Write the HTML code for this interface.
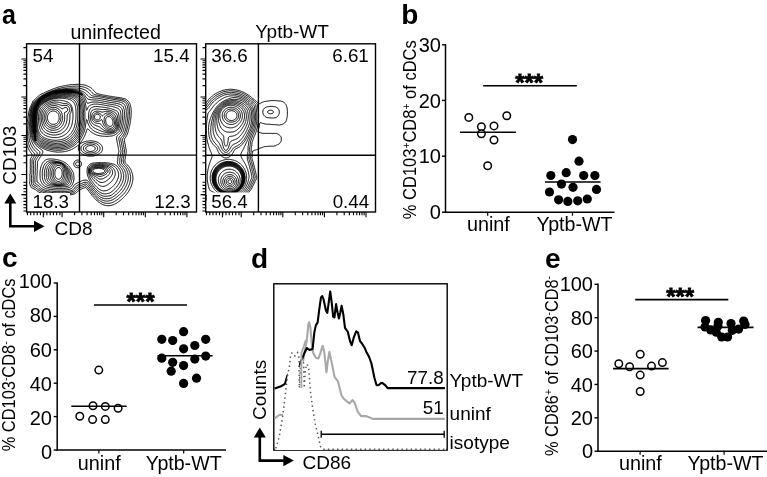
<!DOCTYPE html>
<html><head><meta charset="utf-8"><style>
html,body{margin:0;padding:0;background:#fff;width:767px;height:477px;overflow:hidden}
svg{display:block;filter:grayscale(1)}
text{font-family:"Liberation Sans", sans-serif;fill:#000}
</style></head><body>
<svg width="767" height="477" viewBox="0 0 767 477">
<rect width="767" height="477" fill="#fff"/>
<text x="1.9" y="23.5" font-size="28" text-anchor="start" font-weight="bold" textLength="13.9" lengthAdjust="spacingAndGlyphs">a</text>
<text x="401.2" y="24.3" font-size="28" text-anchor="start" font-weight="bold" >b</text>
<text x="2" y="267.3" font-size="28" text-anchor="start" font-weight="bold" >c</text>
<text x="251" y="267.6" font-size="28" text-anchor="start" font-weight="bold" >d</text>
<text x="545" y="268.3" font-size="28" text-anchor="start" font-weight="bold" >e</text>
<line x1="445.5" y1="44.0" x2="445.5" y2="212.89999999999998" stroke="#000" stroke-width="1.5" />
<line x1="444.8" y1="212.2" x2="614.5" y2="212.2" stroke="#000" stroke-width="1.5" />
<line x1="442.0" y1="44.8" x2="445.5" y2="44.8" stroke="#000" stroke-width="1.4" />
<text x="440.9" y="51.9" font-size="20" text-anchor="end" font-weight="normal" >30</text>
<line x1="442.0" y1="100.4" x2="445.5" y2="100.4" stroke="#000" stroke-width="1.4" />
<text x="440.9" y="107.5" font-size="20" text-anchor="end" font-weight="normal" >20</text>
<line x1="442.0" y1="156.2" x2="445.5" y2="156.2" stroke="#000" stroke-width="1.4" />
<text x="440.9" y="163.29999999999998" font-size="20" text-anchor="end" font-weight="normal" >10</text>
<line x1="442.0" y1="212.2" x2="445.5" y2="212.2" stroke="#000" stroke-width="1.4" />
<text x="440.9" y="219.29999999999998" font-size="20" text-anchor="end" font-weight="normal" >0</text>
<line x1="487.7" y1="212.2" x2="487.7" y2="215.7" stroke="#000" stroke-width="1.2" />
<line x1="572.5" y1="212.2" x2="572.5" y2="215.7" stroke="#000" stroke-width="1.2" />
<text x="488.4" y="230.8" font-size="19.8" text-anchor="middle" font-weight="normal" >uninf</text>
<text x="574.5" y="230.8" font-size="19.6" text-anchor="middle" font-weight="normal" >Yptb-WT</text>
<line x1="483.2" y1="85.7" x2="576.8" y2="85.7" stroke="#000" stroke-width="1.6" />
<text x="529.2" y="91.0" font-size="24" text-anchor="middle" font-weight="bold" stroke="#000" stroke-width="0.8">***</text>
<text transform="translate(415.8,219.2) rotate(-90)" x="0" y="0" font-size="17.6" textLength="179.0" lengthAdjust="spacingAndGlyphs">% CD103<tspan dy="-6" font-size="11">+</tspan><tspan dy="6">CD8</tspan><tspan dy="-6" font-size="11">+</tspan><tspan dy="6"> of cDCs</tspan></text>
<circle cx="468.8" cy="117.4" r="3.75" fill="#fff" stroke="#000" stroke-width="1.5"/>
<circle cx="506.8" cy="115.8" r="3.75" fill="#fff" stroke="#000" stroke-width="1.5"/>
<circle cx="481.4" cy="126.7" r="3.75" fill="#fff" stroke="#000" stroke-width="1.5"/>
<circle cx="494" cy="125.9" r="3.75" fill="#fff" stroke="#000" stroke-width="1.5"/>
<circle cx="481.4" cy="133.7" r="3.75" fill="#fff" stroke="#000" stroke-width="1.5"/>
<circle cx="494" cy="140" r="3.75" fill="#fff" stroke="#000" stroke-width="1.5"/>
<circle cx="487.7" cy="165.7" r="3.75" fill="#fff" stroke="#000" stroke-width="1.5"/>
<line x1="460" y1="132.2" x2="515.9" y2="132.2" stroke="#000" stroke-width="1.6" />
<circle cx="572.5" cy="139.6" r="4.6" fill="#000"/>
<circle cx="579" cy="161.2" r="4.6" fill="#000"/>
<circle cx="566.2" cy="172.7" r="4.6" fill="#000"/>
<circle cx="550.8" cy="175.5" r="4.6" fill="#000"/>
<circle cx="583.7" cy="175.5" r="4.6" fill="#000"/>
<circle cx="594.9" cy="175.5" r="4.6" fill="#000"/>
<circle cx="561.5" cy="184.1" r="4.6" fill="#000"/>
<circle cx="573" cy="187.3" r="4.6" fill="#000"/>
<circle cx="549.5" cy="192" r="4.6" fill="#000"/>
<circle cx="596.5" cy="189.4" r="4.6" fill="#000"/>
<circle cx="558.6" cy="199.8" r="4.6" fill="#000"/>
<circle cx="567.8" cy="201.4" r="4.6" fill="#000"/>
<circle cx="577.7" cy="200.8" r="4.6" fill="#000"/>
<circle cx="587.3" cy="199" r="4.6" fill="#000"/>
<line x1="545" y1="182" x2="600.6" y2="182" stroke="#000" stroke-width="1.6" />
<line x1="57.2" y1="282.5" x2="57.2" y2="450.7" stroke="#000" stroke-width="1.5" />
<line x1="56.5" y1="450" x2="226" y2="450" stroke="#000" stroke-width="1.5" />
<line x1="53.7" y1="283.0" x2="57.2" y2="283.0" stroke="#000" stroke-width="1.4" />
<text x="52.0" y="288.20000000000005" font-size="20" text-anchor="end" font-weight="normal" >100</text>
<line x1="53.7" y1="316.4" x2="57.2" y2="316.4" stroke="#000" stroke-width="1.4" />
<text x="52.0" y="322.4" font-size="20" text-anchor="end" font-weight="normal" >80</text>
<line x1="53.7" y1="349.8" x2="57.2" y2="349.8" stroke="#000" stroke-width="1.4" />
<text x="52.0" y="356.50000000000006" font-size="20" text-anchor="end" font-weight="normal" >60</text>
<line x1="53.7" y1="383.2" x2="57.2" y2="383.2" stroke="#000" stroke-width="1.4" />
<text x="52.0" y="390.7" font-size="20" text-anchor="end" font-weight="normal" >40</text>
<line x1="53.7" y1="416.6" x2="57.2" y2="416.6" stroke="#000" stroke-width="1.4" />
<text x="52.0" y="424.80000000000007" font-size="20" text-anchor="end" font-weight="normal" >20</text>
<line x1="53.7" y1="450.0" x2="57.2" y2="450.0" stroke="#000" stroke-width="1.4" />
<text x="52.0" y="459.0" font-size="20" text-anchor="end" font-weight="normal" >0</text>
<line x1="98.9" y1="450" x2="98.9" y2="453.5" stroke="#000" stroke-width="1.2" />
<line x1="183.7" y1="450" x2="183.7" y2="453.5" stroke="#000" stroke-width="1.2" />
<text x="99.2" y="469.6" font-size="19.8" text-anchor="middle" font-weight="normal" >uninf</text>
<text x="183.7" y="469.6" font-size="19.6" text-anchor="middle" font-weight="normal" >Yptb-WT</text>
<line x1="94" y1="305" x2="187" y2="305" stroke="#000" stroke-width="1.6" />
<text x="140.5" y="310.3" font-size="24" text-anchor="middle" font-weight="bold" stroke="#000" stroke-width="0.8">***</text>
<text transform="translate(15.1,451.3) rotate(-90)" x="0" y="0" font-size="17.6" textLength="172.8" lengthAdjust="spacingAndGlyphs">% CD103<tspan dy="-6" font-size="11">-</tspan><tspan dy="6">CD8</tspan><tspan dy="-6" font-size="11">-</tspan><tspan dy="6"> of cDCs</tspan></text>
<circle cx="98.8" cy="370.1" r="3.75" fill="#fff" stroke="#000" stroke-width="1.5"/>
<circle cx="93" cy="405.8" r="3.75" fill="#fff" stroke="#000" stroke-width="1.5"/>
<circle cx="105.3" cy="406.4" r="3.75" fill="#fff" stroke="#000" stroke-width="1.5"/>
<circle cx="118.1" cy="408.3" r="3.75" fill="#fff" stroke="#000" stroke-width="1.5"/>
<circle cx="79.8" cy="416.2" r="3.75" fill="#fff" stroke="#000" stroke-width="1.5"/>
<circle cx="92.6" cy="419.6" r="3.75" fill="#fff" stroke="#000" stroke-width="1.5"/>
<circle cx="105.3" cy="419.6" r="3.75" fill="#fff" stroke="#000" stroke-width="1.5"/>
<line x1="71.3" y1="406.2" x2="126.6" y2="406.2" stroke="#000" stroke-width="1.6" />
<circle cx="183.6" cy="331.7" r="4.6" fill="#000"/>
<circle cx="161.8" cy="339.3" r="4.6" fill="#000"/>
<circle cx="172.7" cy="340.5" r="4.6" fill="#000"/>
<circle cx="205.7" cy="339.3" r="4.6" fill="#000"/>
<circle cx="194.8" cy="345.5" r="4.6" fill="#000"/>
<circle cx="183.6" cy="348.8" r="4.6" fill="#000"/>
<circle cx="161.8" cy="358.2" r="4.6" fill="#000"/>
<circle cx="205.7" cy="356.1" r="4.6" fill="#000"/>
<circle cx="194.8" cy="359.1" r="4.6" fill="#000"/>
<circle cx="172.7" cy="362.3" r="4.6" fill="#000"/>
<circle cx="183.6" cy="365.6" r="4.6" fill="#000"/>
<circle cx="171.2" cy="371.2" r="4.6" fill="#000"/>
<circle cx="196.5" cy="378.2" r="4.6" fill="#000"/>
<circle cx="183.6" cy="383.4" r="4.6" fill="#000"/>
<line x1="157.5" y1="355.8" x2="212.6" y2="355.8" stroke="#000" stroke-width="1.6" />
<line x1="598.0" y1="283.6" x2="598.0" y2="451.9" stroke="#000" stroke-width="1.5" />
<line x1="597.3" y1="451.2" x2="767" y2="451.2" stroke="#000" stroke-width="1.5" />
<line x1="594.5" y1="284.29999999999995" x2="598.0" y2="284.29999999999995" stroke="#000" stroke-width="1.4" />
<text x="593.0" y="291.4" font-size="20" text-anchor="end" font-weight="normal" >100</text>
<line x1="594.5" y1="317.67999999999995" x2="598.0" y2="317.67999999999995" stroke="#000" stroke-width="1.4" />
<text x="593.0" y="324.78" font-size="20" text-anchor="end" font-weight="normal" >80</text>
<line x1="594.5" y1="351.06" x2="598.0" y2="351.06" stroke="#000" stroke-width="1.4" />
<text x="593.0" y="358.16" font-size="20" text-anchor="end" font-weight="normal" >60</text>
<line x1="594.5" y1="384.44" x2="598.0" y2="384.44" stroke="#000" stroke-width="1.4" />
<text x="593.0" y="391.54" font-size="20" text-anchor="end" font-weight="normal" >40</text>
<line x1="594.5" y1="417.82" x2="598.0" y2="417.82" stroke="#000" stroke-width="1.4" />
<text x="593.0" y="424.92" font-size="20" text-anchor="end" font-weight="normal" >20</text>
<line x1="594.5" y1="451.2" x2="598.0" y2="451.2" stroke="#000" stroke-width="1.4" />
<text x="593.0" y="458.3" font-size="20" text-anchor="end" font-weight="normal" >0</text>
<line x1="640.1" y1="451.2" x2="640.1" y2="454.7" stroke="#000" stroke-width="1.2" />
<line x1="724.1" y1="451.2" x2="724.1" y2="454.7" stroke="#000" stroke-width="1.2" />
<text x="640.4" y="469.9" font-size="19.8" text-anchor="middle" font-weight="normal" >uninf</text>
<text x="725.5" y="469.9" font-size="19.6" text-anchor="middle" font-weight="normal" >Yptb-WT</text>
<line x1="635.2" y1="299.6" x2="728.3" y2="299.6" stroke="#000" stroke-width="1.6" />
<text x="680.2" y="305.0" font-size="24" text-anchor="middle" font-weight="bold" stroke="#000" stroke-width="0.8">***</text>
<text transform="translate(558.0,456) rotate(-90)" x="0" y="0" font-size="17.6" textLength="180.0" lengthAdjust="spacingAndGlyphs">% CD86<tspan dy="-6" font-size="11">+</tspan><tspan dy="6"> of CD103</tspan><tspan dy="-6" font-size="11">-</tspan><tspan dy="6">CD8</tspan><tspan dy="-6" font-size="11">-</tspan></text>
<circle cx="640.2" cy="354.2" r="3.75" fill="#fff" stroke="#000" stroke-width="1.5"/>
<circle cx="618.8" cy="363.8" r="3.75" fill="#fff" stroke="#000" stroke-width="1.5"/>
<circle cx="629.6" cy="366.8" r="3.75" fill="#fff" stroke="#000" stroke-width="1.5"/>
<circle cx="651.5" cy="366.1" r="3.75" fill="#fff" stroke="#000" stroke-width="1.5"/>
<circle cx="662.4" cy="362.6" r="3.75" fill="#fff" stroke="#000" stroke-width="1.5"/>
<circle cx="640.2" cy="375.1" r="3.75" fill="#fff" stroke="#000" stroke-width="1.5"/>
<circle cx="640.2" cy="391.5" r="3.75" fill="#fff" stroke="#000" stroke-width="1.5"/>
<line x1="613" y1="368.6" x2="668.6" y2="368.6" stroke="#000" stroke-width="1.6" />
<circle cx="705.6" cy="320.6" r="4.6" fill="#000"/>
<circle cx="718.3" cy="322.3" r="4.6" fill="#000"/>
<circle cx="731" cy="323.6" r="4.6" fill="#000"/>
<circle cx="743.7" cy="321" r="4.6" fill="#000"/>
<circle cx="705" cy="326.9" r="4.6" fill="#000"/>
<circle cx="710.7" cy="329.9" r="4.6" fill="#000"/>
<circle cx="716.2" cy="332.2" r="4.6" fill="#000"/>
<circle cx="721.7" cy="337" r="4.6" fill="#000"/>
<circle cx="727.6" cy="337" r="4.6" fill="#000"/>
<circle cx="732.3" cy="330.3" r="4.6" fill="#000"/>
<circle cx="738.6" cy="329.1" r="4.6" fill="#000"/>
<circle cx="745" cy="324.4" r="4.6" fill="#000"/>
<circle cx="717.9" cy="326" r="4.6" fill="#000"/>
<line x1="697.5" y1="327.4" x2="753.5" y2="327.4" stroke="#000" stroke-width="1.6" />
<text x="115.6" y="38.7" font-size="19.6" text-anchor="middle" font-weight="normal" >uninfected</text>
<text x="292.1" y="37.8" font-size="19" text-anchor="middle" font-weight="normal" >Yptb-WT</text>
<defs><clipPath id="cp1"><rect x="26.6" y="43.8" width="169.9" height="168.2"/></clipPath><clipPath id="cp2"><rect x="205.7" y="43.8" width="169.8" height="168.2"/></clipPath></defs>
<g clip-path="url(#cp1)" fill="none" stroke="#000" stroke-width="1.0" stroke-linejoin="round">
<path d="M110.6,205.5 L109.8,205.6 L109.0,205.7 L108.2,205.8 L107.4,205.7 L106.6,205.6 L105.8,205.5 L105.4,205.4 L104.6,205.2 L103.8,205.0 L103.4,204.7 L102.8,204.6 L102.2,204.4 L101.8,204.2 L101.4,203.8 L100.6,203.5 L100.2,203.1 L99.8,202.7 L99.3,202.6 L98.9,202.2 L98.2,201.9 L97.8,201.4 L97.4,201.0 L97.0,200.6 L96.7,200.2 L96.2,200.1 L95.8,199.6 L95.4,199.2 L95.0,198.7 L94.6,198.3 L94.2,197.8 L93.8,197.4 L93.4,197.0 L93.1,196.6 L92.7,196.2 L92.3,195.8 L92.0,195.4 L91.6,195.0 L91.4,194.5 L91.0,194.0 L90.6,193.6 L90.3,193.0 L89.9,192.6 L89.5,192.2 L89.2,191.8 L89.0,191.4 L88.6,191.0 L88.2,190.4 L87.8,190.0 L87.4,189.4 L87.0,189.0 L86.8,188.6 L86.4,188.2 L86.2,187.8 L85.4,187.5 L85.0,187.8 L84.6,187.8 L84.2,188.0 L83.6,188.2 L83.0,188.5 L82.4,188.6 L81.8,188.9 L81.4,189.2 L80.8,189.4 L80.2,189.8 L79.8,190.2 L79.4,190.2 L78.7,190.6 L78.2,190.9 L77.8,191.4 L77.4,191.8 L77.0,192.1 L76.6,192.5 L76.2,192.9 L75.8,193.1 L75.4,193.4 L74.6,193.8 L74.2,194.0 L73.4,194.2 L73.0,194.3 L72.2,194.5 L71.8,194.6 L71.0,194.7 L70.2,194.8 L69.4,194.9 L68.7,195.0 L68.2,195.1 L67.4,195.1 L66.6,195.2 L65.8,195.2 L65.0,195.2 L64.2,195.3 L63.4,195.3 L62.6,195.3 L61.8,195.3 L61.0,195.3 L60.2,195.3 L59.4,195.3 L58.6,195.2 L57.8,195.2 L57.0,195.2 L56.2,195.2 L55.4,195.2 L54.6,195.2 L53.8,195.1 L53.0,195.0 L52.6,195.0 L51.8,194.9 L51.0,194.8 L50.2,194.8 L49.4,194.7 L48.7,194.6 L48.2,194.5 L47.4,194.4 L46.6,194.2 L46.1,194.2 L45.4,194.1 L44.6,194.0 L43.9,193.8 L43.4,193.7 L42.6,193.5 L42.1,193.4 L41.4,193.2 L41.0,193.0 L40.2,192.7 L39.8,192.6 L39.0,192.2 L38.6,191.9 L38.2,191.6 L37.8,191.3 L37.2,191.0 L36.7,190.6 L36.2,190.2 L35.8,189.8 L35.4,189.7 L35.0,189.2 L34.2,189.1 L33.8,188.6 L33.2,188.6 L32.7,188.2 L32.2,188.1 L31.6,187.8 L31.1,187.4 L31.0,186.8 L30.7,186.2 L30.4,185.8 L30.3,185.0 L30.0,184.6 L29.9,183.8 L29.6,183.4 L29.5,182.6 L29.6,181.8 L29.9,181.4 L29.9,180.6 L29.9,179.8 L29.9,179.0 L29.9,178.2 L29.9,177.4 L29.9,176.6 L29.9,175.8 L29.9,175.0 L29.9,174.2 L30.2,173.8 L30.2,173.0 L30.2,172.2 L30.2,171.4 L30.2,170.6 L30.3,169.8 L30.3,169.0 L30.3,168.2 L30.3,167.4 L30.3,166.6 L30.3,165.8 L30.3,165.0 L30.3,164.2 L30.3,163.4 L30.3,162.6 L30.3,161.8 L30.3,161.0 L30.3,160.2 L30.3,159.4 L30.6,158.8 L30.8,158.2 L31.1,157.8 L31.4,157.4 L31.8,156.6 L32.1,156.2 L32.2,155.6 L32.2,155.0 L32.1,154.6 L31.8,154.1 L31.4,153.4 L31.1,153.0 L30.8,152.6 L30.5,152.2 L30.2,151.7 L29.8,151.1 L29.4,150.6 L29.2,150.2 L29.0,149.7 L28.6,149.0 L28.4,148.6 L28.2,148.1 L27.9,147.4 L27.8,147.0 L27.5,146.2 L27.3,145.8 L27.0,145.1 L26.9,144.6 L26.7,143.8 L26.6,143.2 L26.4,142.6 L26.3,141.8 L26.2,141.4 L26.2,141.0 L26.1,140.6 L26.0,139.8 L26.0,139.0 L25.9,138.2 L25.9,137.4 L25.8,137.0 L25.9,136.6 L25.9,135.8 L25.9,135.0 L26.0,134.2 L26.0,133.4 L26.1,132.6 L26.1,131.8 L26.1,131.0 L26.2,130.6 L26.2,129.8 L26.2,129.8 L26.4,129.0 L26.4,128.2 L26.6,127.4 L26.6,126.6 L26.7,126.2 L26.7,125.4 L26.9,124.6 L27.0,123.8 L27.0,123.4 L27.2,122.6 L27.3,121.8 L27.4,121.2 L27.5,120.6 L27.6,119.8 L27.8,119.0 L27.8,118.6 L28.0,117.8 L28.1,117.0 L28.2,116.2 L28.3,115.8 L28.4,115.0 L28.5,114.2 L28.6,113.7 L28.7,113.0 L28.8,112.2 L29.0,111.5 L29.1,111.0 L29.3,110.2 L29.4,109.8 L29.6,109.0 L29.8,108.4 L30.0,107.8 L30.2,107.3 L30.5,106.6 L30.7,106.2 L31.0,105.4 L31.2,105.0 L31.4,104.5 L31.7,103.8 L32.0,103.4 L32.2,103.0 L32.6,102.3 L32.8,101.8 L32.9,101.0 L33.4,100.9 L33.8,100.4 L34.2,100.0 L34.6,99.6 L35.0,99.3 L35.4,98.9 L35.8,98.5 L36.2,98.1 L36.6,97.7 L37.0,97.3 L37.4,96.9 L37.8,96.6 L38.2,96.2 L38.6,95.8 L39.4,95.4 L39.8,95.0 L40.2,94.6 L40.6,94.6 L41.0,94.2 L41.8,93.8 L42.2,93.7 L42.6,93.4 L43.4,93.3 L43.8,92.9 L44.5,92.6 L45.0,92.5 L45.4,92.1 L46.1,91.8 L46.6,91.6 L47.2,91.4 L47.8,91.1 L48.2,90.8 L49.0,90.7 L49.4,90.5 L50.0,90.2 L50.6,90.0 L51.0,89.7 L51.8,89.5 L52.2,89.3 L52.9,89.0 L53.4,88.8 L54.1,88.6 L54.6,88.4 L55.0,88.2 L55.8,88.0 L56.3,87.8 L57.0,87.6 L57.6,87.4 L58.2,87.1 L59.0,87.0 L59.4,86.8 L60.2,86.6 L60.6,86.5 L61.4,86.4 L61.8,86.2 L62.2,86.2 L62.6,86.1 L63.4,85.9 L63.8,85.8 L64.2,85.8 L64.6,85.6 L65.4,85.5 L65.8,85.4 L66.2,85.4 L66.6,85.3 L67.4,85.2 L68.2,85.1 L68.6,84.9 L69.4,84.9 L70.2,84.7 L71.0,84.6 L71.7,84.6 L71.9,84.6 L72.4,84.6 L72.9,84.6 L73.0,84.6 L73.8,84.6 L74.6,84.5 L75.4,84.4 L76.2,84.4 L77.0,84.3 L77.8,84.3 L78.6,84.3 L79.4,84.4 L80.2,84.4 L80.8,84.6 L81.2,84.6 L81.6,84.6 L82.1,84.6 L82.3,84.6 L83.0,84.8 L83.8,84.9 L84.2,85.0 L85.0,85.1 L85.8,85.3 L86.2,85.6 L87.0,85.8 L87.4,86.0 L87.9,86.2 L88.6,86.5 L89.0,86.7 L89.5,87.0 L90.2,87.4 L90.6,87.6 L91.0,87.9 L91.4,88.2 L91.9,88.6 L92.3,89.0 L92.7,89.4 L93.1,89.8 L93.5,90.2 L93.8,90.6 L94.2,91.0 L94.6,91.5 L95.0,92.0 L95.4,92.5 L95.8,92.7 L96.2,93.1 L96.9,93.4 L97.4,93.6 L98.0,93.8 L98.6,93.9 L99.4,94.2 L99.9,94.2 L100.6,94.4 L101.4,94.5 L101.8,94.7 L102.6,94.8 L103.4,95.0 L103.8,95.1 L104.6,95.2 L105.4,95.4 L105.8,95.5 L106.6,95.7 L107.4,95.7 L107.8,95.8 L108.6,96.0 L109.4,96.2 L109.8,96.2 L110.6,96.3 L111.4,96.4 L112.2,96.6 L112.6,96.6 L113.4,96.8 L114.2,96.9 L115.0,97.0 L115.4,97.1 L116.2,97.2 L117.0,97.3 L117.8,97.4 L118.2,97.5 L119.0,97.6 L119.8,97.7 L120.2,97.8 L121.0,97.9 L121.8,98.0 L122.2,98.2 L122.6,98.2 L123.0,98.3 L123.8,98.6 L124.2,98.6 L125.0,99.0 L125.4,99.0 L126.1,99.4 L126.6,99.7 L127.0,100.0 L127.4,100.3 L127.8,100.6 L128.2,101.0 L128.6,101.5 L129.0,102.1 L129.3,102.6 L129.6,103.0 L129.8,103.5 L130.1,104.2 L130.2,104.6 L130.5,105.4 L130.6,105.9 L130.7,106.6 L130.9,107.4 L131.0,108.2 L131.1,108.6 L131.1,109.4 L131.2,110.2 L131.2,111.0 L131.2,111.8 L131.2,112.6 L131.2,113.4 L131.1,114.2 L131.1,115.0 L131.1,115.8 L131.0,116.5 L131.0,117.0 L130.9,117.8 L130.8,118.6 L130.7,119.4 L130.6,120.2 L130.6,120.6 L130.4,121.4 L130.3,122.2 L130.2,122.8 L130.1,123.4 L129.9,124.2 L129.8,124.8 L129.7,125.4 L129.5,126.2 L129.4,126.6 L129.2,127.4 L129.0,128.2 L128.9,128.6 L128.7,129.4 L128.6,129.9 L128.4,130.6 L128.2,131.3 L128.1,131.8 L127.9,132.6 L127.7,133.0 L127.4,133.8 L127.3,134.2 L127.0,134.8 L126.7,135.4 L126.5,135.8 L126.2,136.4 L125.8,137.0 L125.5,137.4 L125.3,137.8 L125.0,138.2 L124.6,138.9 L124.4,139.4 L124.6,140.1 L124.6,140.6 L124.6,141.0 L124.5,141.8 L124.8,142.2 L124.9,143.0 L124.9,143.8 L125.2,144.2 L125.3,145.0 L125.3,145.8 L125.4,146.4 L125.7,147.0 L125.7,147.8 L125.8,148.4 L126.1,149.0 L126.1,149.8 L126.2,150.4 L126.5,151.0 L126.2,151.6 L126.1,152.2 L126.1,153.0 L126.0,153.8 L125.7,154.2 L125.7,155.0 L125.7,155.8 L125.4,156.4 L125.3,157.0 L125.3,157.8 L125.3,158.6 L125.0,159.2 L124.9,159.8 L124.9,160.6 L125.0,161.2 L125.0,161.8 L125.2,162.6 L125.4,163.0 L125.8,163.4 L126.2,163.8 L126.6,164.2 L127.0,164.6 L127.5,165.0 L127.9,165.4 L128.3,165.8 L128.7,166.2 L129.0,166.8 L129.4,167.3 L129.8,167.8 L130.2,168.2 L130.2,168.6 L130.6,169.2 L131.0,169.7 L131.0,170.2 L131.4,170.8 L131.5,171.4 L131.8,171.9 L131.9,172.6 L132.2,173.2 L132.3,173.8 L132.6,174.6 L132.6,175.2 L132.8,175.8 L132.8,176.6 L132.9,177.4 L133.0,178.2 L132.9,179.0 L132.8,179.8 L132.7,180.6 L132.6,181.4 L132.5,181.8 L132.4,182.6 L132.2,183.2 L132.1,183.8 L131.8,184.6 L131.7,185.0 L131.4,185.7 L131.2,186.2 L131.0,186.7 L130.7,187.4 L130.5,187.8 L130.2,188.5 L129.9,189.0 L129.7,189.4 L129.4,190.0 L129.1,190.6 L128.8,191.0 L128.6,191.4 L128.2,192.0 L127.8,192.6 L127.5,193.0 L127.2,193.4 L126.9,193.8 L126.6,194.2 L126.2,194.7 L125.8,195.2 L125.4,195.7 L125.0,196.1 L124.6,196.5 L124.2,196.9 L123.8,197.3 L123.4,197.7 L123.0,198.1 L122.6,198.4 L122.2,198.8 L121.8,199.1 L121.4,199.5 L121.0,199.8 L120.6,200.2 L120.1,200.6 L119.6,201.0 L119.0,201.4 L118.6,201.7 L118.2,202.0 L117.8,202.3 L117.3,202.6 L116.7,203.0 L116.2,203.3 L115.8,203.5 L115.3,203.8 L114.6,204.2 L114.2,204.3 L113.6,204.6 L113.0,204.8 L112.5,205.0 L111.8,205.2 L111.0,205.4 L110.6,205.5"/>
<path d="M108.2,203.4 L107.8,203.4 L107.2,203.4 L106.8,203.4 L106.2,203.3 L105.4,203.2 L104.6,203.1 L104.2,202.9 L103.4,202.7 L103.0,202.5 L102.2,202.2 L101.8,201.9 L101.4,201.7 L100.7,201.4 L100.3,201.0 L99.8,201.0 L99.4,200.6 L99.0,200.2 L98.2,199.8 L97.8,199.4 L97.4,199.0 L97.0,198.6 L96.6,198.2 L96.3,197.8 L95.9,197.4 L95.5,197.0 L95.1,196.6 L94.7,196.2 L94.3,195.8 L94.0,195.4 L93.6,195.0 L93.2,194.6 L92.8,194.2 L92.4,193.8 L92.2,193.3 L91.8,192.9 L91.4,192.5 L91.0,191.8 L90.6,191.4 L90.2,191.0 L90.1,190.6 L89.7,190.2 L89.4,189.7 L89.0,189.3 L88.6,188.7 L88.2,188.2 L87.8,187.8 L87.5,187.4 L87.2,187.0 L86.8,186.6 L86.4,186.2 L85.8,185.9 L85.4,185.8 L84.7,185.8 L84.2,186.0 L83.8,186.2 L83.0,186.6 L82.6,186.8 L81.8,187.0 L81.4,187.2 L81.0,187.4 L80.2,187.8 L79.8,188.0 L79.4,188.2 L78.7,188.6 L78.2,188.9 L77.8,189.2 L77.4,189.6 L77.0,190.1 L76.6,190.4 L76.2,190.8 L75.8,191.2 L75.4,191.6 L75.0,191.9 L74.6,192.2 L73.8,192.6 L73.4,192.8 L72.7,193.0 L72.2,193.1 L71.4,193.3 L71.0,193.5 L70.2,193.5 L69.4,193.7 L68.6,193.8 L68.1,193.8 L67.4,193.9 L66.6,193.9 L65.8,194.0 L65.0,194.0 L64.2,194.1 L63.4,194.1 L62.6,194.1 L61.8,194.1 L61.0,194.0 L60.2,194.0 L59.4,194.0 L58.6,194.0 L57.8,194.0 L57.0,194.0 L56.2,194.0 L55.4,194.0 L54.6,193.9 L53.8,193.8 L53.0,193.8 L52.6,193.8 L51.8,193.7 L51.0,193.6 L50.2,193.5 L49.5,193.4 L49.0,193.3 L48.2,193.2 L47.4,193.2 L46.6,193.0 L46.2,193.0 L45.4,192.8 L44.6,192.6 L44.2,192.5 L43.4,192.4 L42.8,192.2 L42.2,192.0 L41.7,191.8 L41.0,191.5 L40.6,191.3 L40.0,191.0 L39.4,190.6 L39.0,190.4 L38.6,190.1 L38.1,189.8 L37.6,189.4 L37.1,189.0 L36.7,188.6 L36.2,188.2 L35.8,187.9 L35.4,187.6 L34.9,187.4 L34.2,187.0 L33.8,186.9 L33.3,186.6 L32.6,186.2 L32.4,185.8 L32.2,185.4 L31.9,184.6 L31.8,184.2 L31.5,183.4 L31.4,183.0 L31.4,182.2 L31.5,181.8 L31.5,181.0 L31.5,180.2 L31.5,179.4 L31.5,178.6 L31.5,177.8 L31.5,177.0 L31.5,176.2 L31.5,175.4 L31.7,174.6 L31.9,174.2 L31.9,173.4 L31.9,172.6 L31.9,171.8 L31.9,171.0 L31.9,170.2 L31.9,169.4 L31.9,168.6 L31.9,167.8 L31.9,167.0 L31.9,166.2 L31.9,165.4 L32.0,164.6 L32.0,163.8 L32.0,163.0 L32.0,162.2 L32.0,161.4 L32.0,160.6 L32.0,159.8 L32.2,159.4 L32.6,158.8 L33.0,158.2 L33.2,157.8 L33.6,157.4 L33.8,156.9 L34.1,156.2 L34.2,155.8 L34.6,155.1 L34.6,154.6 L34.6,154.1 L34.3,153.4 L34.0,153.0 L33.7,152.6 L33.3,152.2 L32.9,151.8 L32.6,151.4 L32.2,150.9 L31.8,150.3 L31.4,149.8 L31.2,149.4 L30.9,149.0 L30.6,148.4 L30.2,147.8 L30.0,147.4 L29.8,147.0 L29.4,146.2 L29.3,145.8 L29.0,145.1 L28.9,144.6 L28.6,144.2 L28.4,143.4 L28.3,142.6 L28.1,142.2 L28.0,141.4 L27.9,140.6 L27.7,140.2 L27.6,139.4 L27.6,138.6 L27.5,137.8 L27.4,137.4 L27.4,137.0 L27.3,136.6 L27.4,136.2 L27.4,135.6 L27.4,135.2 L27.4,134.9 L27.4,134.2 L27.5,133.8 L27.4,133.4 L27.5,133.0 L27.5,132.2 L27.6,131.4 L27.6,130.6 L27.6,129.8 L27.8,129.0 L27.8,128.2 L27.9,127.8 L27.9,127.0 L28.0,126.2 L28.1,125.4 L28.2,124.6 L28.3,124.2 L28.4,123.4 L28.5,122.6 L28.6,122.0 L28.7,121.4 L28.8,120.6 L29.0,119.8 L29.0,119.4 L29.1,118.6 L29.3,117.8 L29.4,117.0 L29.4,116.6 L29.5,115.8 L29.6,115.0 L29.7,114.2 L29.8,113.8 L29.9,113.0 L30.0,112.2 L30.1,111.4 L30.2,111.0 L30.4,110.2 L30.6,109.4 L30.7,109.0 L30.9,108.2 L31.1,107.8 L31.3,107.0 L31.5,106.6 L31.8,105.8 L31.9,105.4 L32.2,104.8 L32.5,104.2 L32.8,103.8 L33.0,103.4 L33.4,102.8 L33.8,102.2 L34.1,101.8 L34.4,101.4 L34.8,101.0 L35.2,100.6 L35.6,100.2 L36.1,99.8 L36.5,99.4 L37.0,99.0 L37.4,98.7 L37.8,98.3 L38.2,98.0 L38.6,97.7 L39.0,97.4 L39.6,97.0 L40.2,96.6 L40.6,96.3 L41.0,96.0 L41.4,95.8 L42.1,95.4 L42.6,95.1 L43.0,94.9 L43.6,94.6 L44.2,94.3 L44.6,94.1 L45.2,93.8 L45.8,93.5 L46.2,93.2 L46.7,93.0 L47.4,92.7 L47.8,92.5 L48.4,92.2 L49.0,91.9 L49.4,91.8 L50.2,91.4 L50.6,91.2 L51.4,91.0 L51.8,90.8 L52.5,90.6 L53.0,90.3 L53.5,90.2 L54.2,90.0 L54.7,89.8 L55.4,89.5 L55.8,89.4 L56.6,89.2 L57.0,89.0 L57.8,88.8 L58.4,88.6 L59.0,88.5 L59.8,88.3 L60.2,88.1 L61.0,88.0 L61.8,87.8 L62.2,87.7 L63.0,87.6 L63.5,87.4 L64.2,87.3 L65.0,87.2 L65.6,87.0 L66.1,87.0 L66.3,87.0 L67.0,86.8 L67.8,86.8 L68.5,86.6 L68.8,86.6 L69.1,86.6 L69.8,86.6 L69.8,86.6 L70.6,86.4 L71.4,86.4 L72.2,86.3 L72.7,86.2 L73.3,86.2 L73.5,86.2 L74.2,86.2 L75.0,86.2 L75.8,86.1 L76.6,86.1 L77.0,86.3 L77.4,86.1 L77.8,86.3 L78.2,86.2 L78.6,86.3 L79.0,86.2 L79.4,86.3 L80.2,86.5 L81.0,86.5 L81.7,86.6 L82.2,86.8 L83.0,86.8 L83.5,87.0 L84.2,87.2 L84.6,87.4 L85.4,87.6 L85.9,87.8 L86.6,88.1 L87.0,88.3 L87.5,88.6 L88.2,89.0 L88.6,89.3 L89.0,89.6 L89.4,89.9 L89.8,90.2 L90.2,90.6 L90.6,91.0 L91.0,91.4 L91.4,91.8 L91.8,92.3 L92.2,92.8 L92.6,93.2 L93.0,93.5 L93.4,93.9 L93.9,94.2 L94.6,94.5 L95.0,94.7 L95.8,94.9 L96.6,95.0 L97.0,95.1 L97.8,95.2 L98.6,95.3 L99.0,95.4 L99.8,95.5 L100.6,95.8 L101.0,95.8 L101.8,96.0 L102.6,96.2 L103.0,96.3 L103.8,96.4 L104.6,96.5 L105.0,96.6 L105.8,96.7 L106.6,96.9 L107.0,97.0 L107.8,97.2 L108.6,97.3 L109.2,97.4 L109.8,97.5 L110.6,97.6 L111.4,97.8 L111.8,97.8 L112.6,97.9 L113.4,98.0 L114.2,98.2 L114.6,98.2 L115.4,98.4 L116.2,98.5 L117.0,98.6 L117.4,98.6 L118.2,98.8 L119.0,98.8 L119.8,98.9 L120.2,99.1 L121.0,99.2 L121.8,99.3 L122.2,99.5 L123.0,99.7 L123.4,99.8 L124.2,100.2 L124.6,100.3 L125.2,100.6 L125.8,101.0 L126.2,101.3 L126.6,101.6 L127.0,102.1 L127.4,102.6 L127.7,103.0 L127.9,103.4 L128.2,104.0 L128.5,104.6 L128.6,105.0 L128.9,105.8 L129.0,106.4 L129.1,107.0 L129.3,107.8 L129.3,108.6 L129.4,109.0 L129.5,109.8 L129.5,110.6 L129.5,111.4 L129.5,112.2 L129.5,113.0 L129.5,113.8 L129.5,114.6 L129.4,115.4 L129.4,115.8 L129.3,116.6 L129.3,117.4 L129.2,118.2 L129.1,119.0 L129.0,119.8 L128.9,120.2 L128.8,121.0 L128.7,121.8 L128.6,122.3 L128.5,123.0 L128.3,123.8 L128.2,124.2 L128.0,125.0 L127.9,125.8 L127.8,126.2 L127.6,127.0 L127.4,127.8 L127.3,128.2 L127.1,129.0 L127.0,129.4 L126.8,130.2 L126.6,130.9 L126.5,131.4 L126.2,132.2 L126.1,132.6 L125.8,133.3 L125.6,133.8 L125.4,134.3 L125.0,135.0 L124.8,135.4 L124.6,135.8 L124.2,136.4 L123.8,136.9 L123.5,137.4 L123.2,137.8 L122.9,138.2 L122.8,139.0 L122.6,139.7 L122.6,140.2 L122.7,140.6 L122.9,141.4 L122.9,142.2 L123.0,142.6 L123.2,143.4 L123.3,144.2 L123.4,144.6 L123.6,145.4 L123.6,146.2 L123.8,147.0 L124.0,147.4 L124.0,148.2 L124.2,149.0 L124.4,149.4 L124.4,150.2 L124.6,151.0 L124.4,151.8 L124.4,152.6 L124.2,153.4 L124.1,153.8 L124.0,154.6 L124.0,155.4 L123.8,155.8 L123.6,156.6 L123.6,157.4 L123.6,158.2 L123.4,158.6 L123.2,159.4 L123.2,160.2 L123.3,161.0 L123.3,161.8 L123.4,162.3 L123.5,163.0 L123.8,163.5 L124.2,164.0 L124.6,164.4 L125.0,164.9 L125.4,165.2 L125.8,165.6 L126.2,166.0 L126.6,166.5 L127.0,166.9 L127.4,167.4 L127.5,167.8 L127.8,168.2 L128.2,168.8 L128.6,169.4 L128.6,169.8 L129.0,170.4 L129.3,171.0 L129.4,171.5 L129.7,172.2 L129.9,172.6 L130.0,173.4 L130.2,174.2 L130.3,174.6 L130.5,175.4 L130.6,176.2 L130.6,176.6 L130.6,177.0 L130.6,177.4 L130.6,178.1 L130.6,178.6 L130.5,179.4 L130.4,180.2 L130.3,181.0 L130.2,181.4 L130.0,182.2 L129.8,183.0 L129.7,183.4 L129.4,184.2 L129.3,184.6 L129.0,185.3 L128.8,185.8 L128.6,186.3 L128.2,187.0 L128.1,187.4 L127.8,187.9 L127.4,188.6 L127.2,189.0 L127.0,189.4 L126.6,190.0 L126.2,190.6 L126.0,191.0 L125.7,191.4 L125.4,191.8 L125.0,192.4 L124.6,192.9 L124.2,193.3 L123.8,193.8 L123.5,194.2 L123.1,194.6 L122.7,195.0 L122.3,195.4 L121.9,195.8 L121.5,196.2 L121.0,196.6 L120.6,197.0 L120.2,197.3 L119.8,197.7 L119.4,198.0 L119.0,198.3 L118.6,198.7 L118.2,199.0 L117.7,199.4 L117.1,199.8 L116.6,200.2 L116.2,200.4 L115.8,200.7 L115.3,201.0 L114.6,201.4 L114.2,201.6 L113.8,201.8 L113.2,202.2 L112.6,202.4 L112.0,202.6 L111.4,202.8 L110.6,203.0 L110.2,203.1 L109.4,203.3 L108.6,203.3 L108.2,203.4"/>
<path d="M108.2,201.0 L107.4,201.1 L106.6,201.1 L105.8,201.1 L105.4,201.0 L104.6,200.9 L103.8,200.6 L103.4,200.5 L102.6,200.2 L102.2,200.0 L101.5,199.8 L101.0,199.4 L100.6,199.1 L100.0,199.0 L99.5,198.6 L99.1,198.2 L98.7,197.8 L98.2,197.4 L97.8,197.4 L97.4,197.0 L97.0,196.6 L96.6,196.2 L96.2,195.8 L95.8,195.4 L95.4,195.0 L95.0,194.6 L94.6,194.2 L94.2,193.5 L93.8,193.1 L93.4,192.7 L93.0,192.3 L92.7,191.8 L92.3,191.4 L91.9,191.0 L91.8,190.6 L91.4,190.2 L91.0,189.6 L90.6,189.0 L90.2,188.6 L90.0,188.2 L89.6,187.8 L89.3,187.4 L89.0,187.0 L88.6,186.5 L88.2,186.0 L87.8,185.5 L87.4,185.0 L87.0,184.6 L86.6,184.3 L86.2,184.2 L85.4,184.0 L84.6,184.1 L84.1,184.2 L83.4,184.5 L83.0,184.7 L82.4,185.0 L81.8,185.2 L81.3,185.4 L80.6,185.7 L80.2,185.9 L79.7,186.2 L79.0,186.5 L78.6,186.8 L78.0,187.0 L77.4,187.3 L77.0,187.7 L76.6,188.1 L76.2,188.4 L75.8,189.0 L75.4,189.4 L75.1,189.8 L74.7,190.2 L74.3,190.6 L73.8,191.0 L73.4,191.2 L73.0,191.4 L72.2,191.7 L71.8,191.8 L71.0,192.1 L70.2,192.2 L69.8,192.4 L69.0,192.4 L68.2,192.5 L67.4,192.6 L67.0,192.6 L66.2,192.7 L65.4,192.8 L64.6,192.8 L63.8,192.9 L63.0,192.8 L62.2,192.8 L61.4,192.8 L60.6,192.9 L59.8,192.8 L59.0,192.8 L58.2,192.8 L57.4,192.8 L56.6,192.8 L55.8,192.8 L55.0,192.7 L54.2,192.7 L53.6,192.6 L53.0,192.5 L52.2,192.5 L51.4,192.4 L50.6,192.3 L50.1,192.2 L49.4,192.1 L48.6,192.0 L47.8,192.0 L47.0,191.9 L46.6,191.7 L45.8,191.6 L45.1,191.4 L44.6,191.3 L43.8,191.1 L43.4,191.0 L42.6,190.7 L42.2,190.5 L41.6,190.2 L41.0,189.9 L40.6,189.7 L40.2,189.4 L39.6,189.0 L39.1,188.6 L38.7,188.2 L38.3,187.8 L37.8,187.4 L37.4,187.0 L37.0,186.6 L36.6,186.4 L36.2,186.1 L35.7,185.8 L35.0,185.4 L34.6,185.3 L33.9,185.0 L33.7,184.6 L33.4,183.8 L33.3,183.4 L33.0,182.6 L33.2,181.8 L33.2,181.0 L33.2,180.2 L33.2,179.4 L33.2,178.6 L33.2,177.8 L33.2,177.0 L33.2,176.2 L33.2,175.4 L33.4,174.9 L33.5,174.2 L33.5,173.4 L33.5,172.6 L33.5,171.8 L33.6,171.0 L33.6,170.2 L33.6,169.4 L33.6,168.6 L33.6,167.8 L33.6,167.0 L33.6,166.2 L33.6,165.4 L33.6,164.6 L33.6,163.8 L33.6,163.0 L33.6,162.2 L33.6,161.4 L33.6,160.6 L33.8,160.0 L34.2,159.5 L34.5,159.0 L34.8,158.6 L35.1,158.2 L35.4,157.5 L35.7,157.0 L36.0,156.6 L36.2,156.2 L36.6,155.5 L36.9,155.0 L37.1,154.6 L37.2,153.8 L37.1,153.0 L37.0,152.6 L36.6,152.2 L36.2,151.8 L35.8,151.4 L35.4,151.0 L35.0,150.6 L34.5,150.2 L34.2,149.8 L33.8,149.4 L33.4,148.9 L33.0,148.3 L32.6,147.8 L32.4,147.4 L32.1,147.0 L31.8,146.4 L31.4,145.8 L31.3,145.4 L31.0,144.8 L30.7,144.2 L30.6,143.7 L30.3,143.0 L30.1,142.6 L29.9,141.8 L29.7,141.4 L29.5,140.6 L29.4,140.2 L29.3,139.4 L29.1,138.6 L29.0,138.2 L29.0,137.8 L28.9,137.4 L29.0,136.6 L29.0,136.6 L28.9,135.8 L28.8,135.0 L28.8,134.2 L28.9,133.4 L28.9,132.6 L28.9,131.8 L29.0,131.1 L29.1,130.6 L29.0,130.2 L29.1,129.8 L29.1,129.0 L29.2,128.2 L29.2,127.4 L29.3,126.6 L29.4,126.0 L29.5,125.4 L29.5,124.6 L29.6,123.8 L29.7,123.0 L29.8,122.2 L29.8,121.8 L29.9,121.0 L29.9,120.2 L30.0,119.4 L30.1,118.6 L30.1,117.8 L30.2,117.0 L30.2,116.6 L30.3,115.8 L30.3,115.0 L30.4,114.2 L30.5,113.4 L30.6,112.6 L30.7,112.2 L30.8,111.4 L31.0,110.6 L31.0,110.2 L31.2,109.4 L31.4,108.8 L31.6,108.2 L31.8,107.5 L32.0,107.0 L32.2,106.4 L32.5,105.8 L32.7,105.4 L33.0,104.7 L33.3,104.2 L33.5,103.8 L33.8,103.4 L34.2,102.9 L34.6,102.3 L35.0,101.9 L35.4,101.5 L35.8,101.0 L36.2,100.7 L36.6,100.3 L37.0,100.0 L37.4,99.6 L37.8,99.3 L38.2,99.0 L38.7,98.6 L39.3,98.2 L39.8,97.8 L40.2,97.6 L40.6,97.3 L41.1,97.0 L41.7,96.6 L42.2,96.3 L42.6,96.1 L43.1,95.8 L43.8,95.4 L44.2,95.2 L44.6,94.9 L45.2,94.6 L45.8,94.3 L46.2,94.1 L46.8,93.8 L47.4,93.5 L47.8,93.3 L48.4,93.0 L49.0,92.7 L49.4,92.6 L50.2,92.2 L50.6,92.1 L51.4,91.8 L51.8,91.6 L52.4,91.4 L53.0,91.2 L53.4,91.0 L54.2,90.8 L54.9,90.6 L55.4,90.4 L56.0,90.2 L56.6,90.1 L57.4,89.9 L57.8,89.7 L58.6,89.6 L59.4,89.4 L59.4,89.4 L60.0,89.4 L60.6,89.2 L61.4,89.1 L61.9,89.0 L62.6,89.0 L63.4,88.7 L64.2,88.7 L65.0,88.7 L65.4,88.6 L66.2,88.6 L66.2,88.6 L67.0,88.4 L67.8,88.3 L68.6,88.2 L69.0,88.1 L69.4,88.2 L69.8,88.1 L70.6,88.0 L71.4,88.0 L72.2,88.0 L73.0,88.0 L73.8,88.0 L74.6,88.0 L75.4,88.0 L76.2,88.0 L77.0,88.0 L77.8,88.1 L78.6,88.2 L79.3,88.2 L79.8,88.4 L80.6,88.5 L81.0,88.6 L81.8,88.8 L82.6,89.0 L83.0,89.2 L83.8,89.4 L84.2,89.6 L84.7,89.8 L85.4,90.2 L85.8,90.4 L86.2,90.7 L86.7,91.0 L87.2,91.4 L87.7,91.8 L88.2,92.2 L88.6,92.6 L88.9,93.0 L89.3,93.4 L89.7,93.8 L90.0,94.2 L90.4,94.6 L90.9,95.0 L91.4,95.4 L91.8,95.6 L92.4,95.8 L93.0,96.0 L93.8,96.1 L94.6,96.2 L95.0,96.2 L95.8,96.3 L96.6,96.4 L97.4,96.5 L97.8,96.6 L98.2,96.6 L98.6,96.7 L99.4,96.8 L100.2,96.9 L100.6,97.0 L101.4,97.2 L102.2,97.3 L102.6,97.4 L103.4,97.6 L104.2,97.7 L104.6,97.8 L105.4,98.0 L106.2,98.2 L106.6,98.2 L107.4,98.4 L108.2,98.5 L108.8,98.6 L109.4,98.7 L110.2,98.8 L111.0,99.0 L111.4,99.0 L112.2,99.1 L113.0,99.3 L113.7,99.4 L114.2,99.4 L115.0,99.6 L115.8,99.7 L116.4,99.8 L117.0,99.9 L117.8,100.0 L118.6,100.1 L119.0,100.2 L119.8,100.4 L120.6,100.5 L121.3,100.6 L121.8,100.8 L122.5,101.0 L123.0,101.2 L123.5,101.4 L124.2,101.7 L124.6,102.0 L125.0,102.3 L125.4,102.7 L125.8,103.1 L126.2,103.6 L126.6,104.2 L126.7,104.6 L127.0,105.2 L127.2,105.8 L127.4,106.3 L127.6,107.0 L127.7,107.8 L127.8,108.6 L127.9,109.0 L128.0,109.8 L128.0,110.6 L128.1,111.4 L128.1,112.2 L128.0,113.0 L128.0,113.8 L128.0,114.6 L127.9,115.4 L127.8,116.2 L127.8,117.0 L127.8,117.4 L127.7,118.2 L127.6,119.0 L127.5,119.8 L127.4,120.5 L127.3,121.0 L127.2,121.8 L127.0,122.6 L127.0,123.0 L126.8,123.8 L126.6,124.6 L126.5,125.0 L126.3,125.8 L126.2,126.4 L126.1,127.0 L125.9,127.8 L125.8,128.2 L125.6,129.0 L125.4,129.7 L125.3,130.2 L125.0,131.0 L124.9,131.4 L124.6,132.2 L124.5,132.6 L124.2,133.4 L124.0,133.8 L123.8,134.2 L123.4,134.9 L123.0,135.4 L122.7,135.8 L122.4,136.2 L122.0,136.6 L121.6,137.0 L121.3,137.4 L121.0,137.9 L120.7,138.6 L120.8,139.4 L120.8,140.2 L121.0,141.0 L121.1,141.4 L121.2,142.2 L121.3,143.0 L121.5,143.4 L121.6,144.2 L121.7,145.0 L121.9,145.4 L122.0,146.2 L122.0,147.0 L122.2,147.5 L122.4,148.2 L122.4,149.0 L122.6,149.5 L122.8,150.2 L122.8,151.0 L122.8,151.8 L122.7,152.6 L122.5,153.0 L122.4,153.8 L122.4,154.6 L122.2,155.3 L122.0,155.8 L122.0,156.6 L122.0,157.4 L121.8,158.1 L121.6,158.6 L121.6,159.4 L121.6,160.2 L121.6,161.0 L121.6,161.8 L121.5,162.6 L121.7,163.4 L121.8,163.9 L122.2,164.2 L122.6,164.6 L123.0,165.1 L123.4,165.5 L123.8,165.9 L124.2,166.4 L124.6,166.8 L125.0,167.3 L125.4,167.8 L125.7,168.2 L126.0,168.6 L126.2,169.0 L126.5,169.8 L126.7,170.2 L127.0,170.7 L127.2,171.4 L127.4,172.0 L127.7,172.6 L127.8,173.0 L127.8,173.4 L127.9,173.8 L128.2,174.6 L128.2,175.3 L128.3,175.8 L128.3,176.6 L128.4,177.4 L128.3,178.2 L128.2,179.0 L128.2,179.4 L128.0,180.2 L127.9,181.0 L127.8,181.4 L127.6,182.2 L127.4,182.7 L127.2,183.4 L127.0,183.8 L126.7,184.6 L126.5,185.0 L126.2,185.7 L126.0,186.2 L125.8,186.6 L125.4,187.3 L125.1,187.8 L124.9,188.2 L124.6,188.7 L124.2,189.3 L123.8,189.8 L123.6,190.2 L123.3,190.6 L123.0,191.0 L122.6,191.5 L122.2,192.0 L121.8,192.4 L121.4,192.9 L121.0,193.3 L120.6,193.7 L120.2,194.1 L119.8,194.5 L119.4,194.8 L119.0,195.2 L118.6,195.5 L118.2,195.9 L117.8,196.2 L117.3,196.6 L116.8,197.0 L116.3,197.4 L115.8,197.8 L115.4,198.1 L115.0,198.4 L114.6,198.6 L114.0,199.0 L113.4,199.4 L113.0,199.6 L112.6,199.8 L111.8,200.2 L111.4,200.3 L110.6,200.5 L110.2,200.6 L109.4,200.8 L108.6,201.0 L108.2,201.0"/>
<path d="M107.8,198.7 L107.0,198.7 L106.2,198.8 L105.4,198.7 L104.6,198.7 L104.1,198.6 L103.4,198.3 L103.0,198.2 L102.2,198.0 L101.8,197.7 L101.3,197.4 L100.6,197.3 L100.2,197.0 L99.7,196.6 L99.2,196.2 L98.7,195.8 L98.3,195.4 L97.8,195.0 L97.4,194.6 L97.0,194.3 L96.6,193.9 L96.2,193.5 L95.8,193.2 L95.4,192.8 L95.0,192.4 L94.6,191.8 L94.2,191.4 L93.8,191.1 L93.5,190.6 L93.2,190.2 L92.7,189.8 L92.6,189.4 L92.1,189.0 L91.8,188.5 L91.4,188.0 L91.1,187.4 L90.7,187.0 L90.4,186.6 L90.2,186.2 L89.7,185.8 L89.4,185.3 L89.0,184.8 L88.6,184.2 L88.3,183.8 L88.0,183.4 L87.6,183.0 L87.1,182.6 L86.6,182.4 L85.8,182.3 L85.0,182.2 L84.2,182.3 L83.4,182.6 L83.0,182.8 L82.5,183.0 L81.8,183.4 L81.4,183.5 L80.6,183.8 L80.2,184.0 L79.7,184.2 L79.0,184.6 L78.6,184.8 L78.2,185.0 L77.4,185.3 L77.0,185.5 L76.6,185.8 L76.1,186.2 L75.6,186.6 L75.2,187.0 L75.0,187.4 L74.6,188.0 L74.2,188.6 L73.8,189.0 L73.4,189.4 L73.0,189.8 L72.6,190.0 L72.2,190.3 L71.4,190.5 L71.0,190.7 L70.2,190.9 L69.6,191.0 L69.0,191.1 L68.2,191.2 L67.4,191.4 L67.0,191.4 L66.2,191.5 L65.4,191.5 L64.6,191.5 L63.8,191.6 L63.0,191.6 L62.2,191.6 L61.4,191.6 L60.6,191.6 L59.8,191.6 L59.0,191.6 L58.2,191.6 L57.4,191.6 L56.6,191.5 L55.8,191.5 L55.0,191.5 L54.2,191.4 L53.8,191.4 L53.0,191.3 L52.2,191.2 L51.4,191.1 L50.6,191.1 L50.0,191.0 L49.4,190.9 L48.6,190.7 L47.8,190.6 L47.4,190.6 L46.6,190.4 L45.8,190.3 L45.4,190.1 L44.6,189.9 L44.1,189.8 L43.4,189.5 L43.0,189.4 L42.3,189.0 L41.8,188.7 L41.4,188.4 L41.0,188.1 L40.5,187.8 L40.1,187.4 L39.7,187.0 L39.3,186.6 L39.0,186.2 L38.6,185.8 L38.2,185.4 L37.8,185.0 L37.2,184.6 L36.6,184.2 L36.2,184.1 L35.7,183.8 L35.1,183.4 L35.0,183.0 L34.9,182.2 L34.9,181.4 L34.9,180.6 L34.9,179.8 L34.9,179.0 L34.9,178.2 L34.9,177.4 L34.9,176.6 L34.9,175.8 L35.0,175.4 L35.2,174.6 L35.2,173.8 L35.2,173.0 L35.2,172.2 L35.2,171.4 L35.3,170.6 L35.3,169.8 L35.3,169.0 L35.3,168.2 L35.3,167.4 L35.3,166.6 L35.3,165.8 L35.4,165.0 L35.4,164.2 L35.4,163.4 L35.4,162.6 L35.4,161.8 L35.4,161.0 L35.6,160.6 L35.8,160.2 L36.2,159.6 L36.6,159.0 L36.8,158.6 L37.0,158.2 L37.4,157.6 L37.8,157.0 L38.1,156.6 L38.4,156.2 L38.6,155.8 L39.0,155.0 L39.2,154.6 L39.4,154.2 L39.8,153.4 L39.9,153.0 L39.9,152.2 L39.8,151.8 L39.4,151.3 L39.0,150.9 L38.6,150.6 L38.1,150.2 L37.6,149.8 L37.1,149.4 L36.6,149.0 L36.2,148.7 L35.8,148.3 L35.4,147.8 L35.0,147.4 L34.7,147.0 L34.4,146.6 L34.1,146.2 L33.8,145.8 L33.4,145.0 L33.2,144.6 L32.9,144.2 L32.6,143.7 L32.3,143.0 L32.2,142.6 L31.8,141.9 L31.7,141.4 L31.4,140.7 L31.3,140.2 L31.0,139.4 L31.0,139.0 L30.7,138.2 L30.7,137.4 L30.5,137.0 L30.4,136.2 L30.5,135.4 L30.3,134.6 L30.3,133.8 L30.3,133.0 L30.2,132.3 L30.2,132.0 L30.2,131.4 L30.2,130.7 L30.2,130.2 L30.2,129.8 L30.2,129.2 L30.2,128.6 L30.2,128.0 L30.2,127.4 L30.2,126.8 L30.2,126.2 L30.2,125.8 L30.3,125.0 L30.3,124.2 L30.4,123.4 L30.4,122.6 L30.4,121.8 L30.5,121.0 L30.6,120.2 L30.6,119.8 L30.7,119.0 L30.7,118.2 L30.8,117.4 L30.9,116.6 L30.9,115.8 L31.0,115.0 L31.0,114.6 L31.1,113.8 L31.2,113.0 L31.3,112.2 L31.4,111.4 L31.5,111.0 L31.7,110.2 L31.8,109.6 L32.0,109.0 L32.2,108.2 L32.3,107.8 L32.6,107.1 L32.8,106.6 L33.0,106.1 L33.4,105.4 L33.6,105.0 L33.8,104.6 L34.2,103.9 L34.6,103.4 L34.9,103.0 L35.2,102.6 L35.6,102.2 L36.0,101.8 L36.4,101.4 L36.8,101.0 L37.3,100.6 L37.7,100.2 L38.2,99.8 L38.6,99.5 L39.0,99.2 L39.4,98.9 L39.9,98.6 L40.5,98.2 L41.0,97.9 L41.4,97.6 L41.8,97.4 L42.4,97.0 L43.0,96.6 L43.4,96.4 L43.8,96.2 L44.5,95.8 L45.0,95.5 L45.4,95.3 L46.0,95.0 L46.6,94.7 L47.0,94.5 L47.6,94.2 L48.2,93.9 L48.6,93.7 L49.3,93.4 L49.8,93.2 L50.3,93.0 L51.0,92.7 L51.4,92.5 L52.2,92.2 L52.6,92.1 L53.3,91.8 L53.8,91.6 L54.6,91.5 L55.0,91.3 L55.8,91.0 L56.2,90.9 L57.0,90.8 L57.6,90.6 L58.2,90.4 L59.0,90.3 L59.5,90.2 L60.2,90.1 L61.0,89.9 L61.8,89.9 L62.2,89.8 L63.0,89.6 L63.8,89.5 L64.6,89.5 L65.1,89.4 L65.7,89.4 L66.0,89.4 L66.6,89.3 L67.4,89.2 L68.2,89.3 L69.0,89.2 L69.8,89.2 L70.6,89.1 L71.4,89.2 L72.2,89.2 L73.0,89.3 L73.8,89.4 L73.9,89.4 L74.4,89.4 L75.0,89.4 L75.8,89.5 L76.6,89.7 L77.3,89.8 L77.8,89.8 L77.8,89.8 L78.6,90.0 L79.3,90.2 L79.8,90.4 L80.6,90.6 L81.0,90.7 L81.5,91.0 L82.2,91.3 L82.7,91.4 L83.4,91.8 L83.8,92.0 L84.2,92.3 L84.6,92.6 L85.2,93.0 L85.6,93.4 L86.1,93.8 L86.5,94.2 L86.9,94.6 L87.2,95.0 L87.6,95.4 L88.0,95.8 L88.4,96.2 L88.8,96.6 L89.4,97.0 L89.8,97.2 L90.4,97.4 L91.0,97.5 L91.8,97.7 L92.6,97.8 L93.0,97.9 L93.8,97.9 L94.6,98.0 L95.4,98.1 L96.2,98.1 L97.0,98.2 L97.0,98.2 L97.6,98.2 L98.2,98.3 L99.0,98.4 L99.8,98.6 L100.2,98.7 L101.0,98.8 L101.8,98.9 L102.2,99.0 L103.0,99.2 L103.8,99.4 L104.2,99.4 L105.0,99.6 L105.8,99.7 L106.2,99.8 L107.0,99.9 L107.8,100.1 L108.2,100.2 L109.0,100.3 L109.8,100.5 L110.6,100.6 L111.0,100.6 L111.8,100.7 L112.6,100.9 L113.4,101.0 L113.8,101.0 L114.6,101.2 L115.4,101.3 L116.2,101.4 L116.6,101.5 L117.4,101.6 L118.2,101.8 L118.7,101.8 L119.4,102.0 L120.1,102.2 L120.6,102.3 L121.4,102.6 L121.8,102.7 L122.3,103.0 L123.0,103.4 L123.4,103.6 L123.8,104.0 L124.2,104.4 L124.6,104.9 L124.9,105.4 L125.1,105.8 L125.4,106.6 L125.6,107.0 L125.8,107.8 L125.8,108.2 L126.0,109.0 L126.1,109.8 L126.2,110.6 L126.2,111.2 L126.2,111.8 L126.3,112.6 L126.3,113.4 L126.3,114.2 L126.3,115.0 L126.2,115.4 L126.2,116.2 L126.1,117.0 L126.0,117.8 L125.9,118.6 L125.9,119.4 L125.8,119.8 L125.7,120.6 L125.6,121.4 L125.4,122.2 L125.3,122.6 L125.2,123.4 L125.0,124.1 L124.9,124.6 L124.7,125.4 L124.6,125.8 L124.4,126.6 L124.2,127.4 L124.1,127.8 L123.9,128.6 L123.8,129.1 L123.6,129.8 L123.4,130.5 L123.2,131.0 L123.0,131.7 L122.8,132.2 L122.6,132.7 L122.2,133.4 L122.0,133.8 L121.7,134.2 L121.4,134.6 L121.0,135.0 L120.6,135.4 L120.2,135.8 L119.8,136.2 L119.4,136.6 L119.0,137.4 L119.0,137.8 L118.8,138.6 L118.9,139.4 L119.0,139.8 L119.1,140.6 L119.3,141.4 L119.4,141.9 L119.5,142.6 L119.6,143.4 L119.8,143.9 L119.9,144.6 L120.0,145.4 L120.2,146.0 L120.2,146.6 L120.3,147.4 L120.6,148.2 L120.6,148.6 L120.7,149.4 L121.0,150.2 L121.0,150.6 L121.0,151.4 L121.0,152.0 L120.8,152.6 L120.7,153.4 L120.6,154.2 L120.6,154.6 L120.3,155.4 L120.2,156.2 L120.2,157.0 L120.2,157.4 L119.9,158.2 L119.8,159.0 L119.8,159.8 L119.8,160.6 L119.8,161.4 L119.8,161.8 L119.6,162.6 L119.7,163.4 L119.8,163.8 L120.2,164.5 L120.5,165.0 L121.0,165.3 L121.4,165.8 L121.8,166.2 L122.1,166.6 L122.4,167.0 L122.8,167.4 L123.1,167.8 L123.4,168.3 L123.8,168.9 L124.1,169.4 L124.4,169.8 L124.6,170.3 L125.0,171.0 L125.1,171.4 L125.3,172.2 L125.4,172.6 L125.7,173.4 L125.8,173.8 L125.8,174.2 L125.9,174.6 L126.0,175.4 L126.0,176.2 L126.1,177.0 L126.0,177.8 L125.9,178.6 L125.8,179.4 L125.7,179.8 L125.5,180.6 L125.4,181.1 L125.2,181.8 L125.0,182.4 L124.8,183.0 L124.6,183.4 L124.3,184.2 L124.1,184.6 L123.8,185.2 L123.5,185.8 L123.2,186.2 L123.0,186.6 L122.6,187.3 L122.3,187.8 L122.0,188.2 L121.7,188.6 L121.4,189.1 L121.0,189.6 L120.6,190.1 L120.2,190.6 L119.8,191.0 L119.5,191.4 L119.1,191.8 L118.7,192.2 L118.3,192.6 L117.9,193.0 L117.4,193.4 L117.0,193.8 L116.6,194.1 L116.2,194.5 L115.8,194.8 L115.4,195.1 L115.0,195.4 L114.5,195.8 L114.0,196.2 L113.4,196.6 L113.0,196.9 L112.6,197.2 L112.2,197.4 L111.5,197.8 L111.0,198.0 L110.2,198.1 L109.8,198.3 L109.0,198.5 L108.2,198.6 L107.8,198.7"/>
<path d="M107.0,196.3 L106.2,196.3 L105.4,196.3 L104.6,196.3 L103.8,196.2 L103.4,196.1 L102.7,195.8 L102.3,195.8 L102.2,195.8 L101.4,195.4 L101.0,195.2 L100.6,194.9 L100.1,194.6 L99.5,194.2 L99.0,193.8 L98.6,193.5 L98.2,193.2 L97.8,192.9 L97.4,192.6 L97.0,192.2 L96.5,191.8 L96.1,191.4 L95.8,190.9 L95.4,190.6 L95.0,190.2 L94.6,189.6 L94.2,189.3 L93.8,188.7 L93.5,188.2 L93.0,187.8 L92.8,187.4 L92.4,187.0 L92.1,186.6 L91.8,186.1 L91.4,185.6 L91.0,185.1 L90.6,184.6 L90.4,184.2 L90.1,183.8 L89.8,183.4 L89.4,182.9 L89.0,182.3 L88.6,181.8 L88.3,181.4 L88.0,181.0 L87.5,180.6 L87.0,180.3 L86.6,180.2 L85.8,180.1 L85.0,180.1 L84.2,180.2 L83.8,180.2 L83.0,180.4 L82.6,180.6 L81.8,180.9 L81.4,181.1 L80.9,181.4 L80.2,181.6 L79.8,181.8 L79.0,182.2 L78.6,182.4 L78.1,182.6 L77.4,183.0 L77.0,183.2 L76.5,183.4 L75.9,183.8 L75.4,184.1 L75.0,184.3 L74.6,184.6 L74.2,185.1 L73.8,185.8 L73.5,186.2 L73.3,186.6 L73.0,187.0 L72.6,187.5 L72.2,187.9 L71.8,188.3 L71.4,188.6 L70.6,188.9 L70.2,189.1 L69.4,189.4 L69.0,189.4 L68.2,189.6 L67.4,189.7 L66.6,189.8 L66.2,189.9 L65.4,189.9 L64.6,189.9 L63.8,190.0 L63.0,190.0 L62.2,190.0 L61.4,190.0 L60.6,190.0 L59.8,190.0 L59.0,190.0 L58.2,190.0 L57.4,190.0 L56.6,190.0 L55.8,189.9 L55.0,189.9 L54.2,189.8 L53.8,189.8 L53.0,189.7 L52.2,189.6 L51.4,189.5 L50.6,189.4 L50.2,189.4 L49.4,189.3 L48.6,189.1 L47.8,189.0 L47.4,188.9 L46.6,188.8 L46.2,188.6 L45.4,188.3 L44.9,188.2 L44.2,187.8 L43.8,187.7 L43.3,187.4 L42.7,187.0 L42.2,186.6 L41.8,186.3 L41.4,185.9 L41.0,185.5 L40.6,185.0 L40.2,184.6 L39.8,184.2 L39.5,183.8 L39.0,183.4 L38.6,183.0 L38.2,182.8 L37.8,182.5 L37.3,182.2 L37.0,181.8 L37.0,181.0 L36.9,180.2 L36.9,179.4 L36.9,178.6 L36.9,177.8 L36.9,177.0 L36.9,176.2 L37.0,175.5 L37.1,175.0 L37.1,174.2 L37.1,173.4 L37.2,172.6 L37.2,171.8 L37.2,171.0 L37.2,170.2 L37.2,169.4 L37.3,168.6 L37.3,167.8 L37.3,167.0 L37.4,166.2 L37.4,165.7 L37.4,165.0 L37.5,164.2 L37.5,163.4 L37.5,162.6 L37.5,161.8 L37.8,161.1 L38.1,160.6 L38.4,160.2 L38.6,159.8 L39.0,159.1 L39.3,158.6 L39.6,158.2 L39.8,157.8 L40.2,157.3 L40.6,156.7 L40.8,156.2 L41.0,155.8 L41.4,155.3 L41.8,154.6 L42.0,154.2 L42.2,153.7 L42.6,153.0 L42.8,152.6 L42.9,151.8 L42.7,151.0 L42.5,150.6 L42.2,150.2 L41.7,149.8 L41.2,149.4 L40.6,149.0 L40.2,148.8 L39.8,148.5 L39.4,148.2 L38.9,147.8 L38.3,147.4 L37.8,147.0 L37.4,146.6 L37.0,146.2 L36.6,145.8 L36.2,145.4 L35.8,145.0 L35.5,144.6 L35.2,144.2 L34.9,143.8 L34.6,143.3 L34.2,142.8 L33.8,142.2 L33.5,141.8 L33.4,141.3 L33.0,140.7 L32.8,140.2 L32.6,139.7 L32.3,139.0 L32.2,138.6 L31.8,137.8 L31.8,137.4 L31.6,136.6 L31.4,135.8 L31.4,135.4 L31.2,134.6 L31.2,133.8 L31.1,133.0 L31.0,132.4 L31.0,131.8 L31.0,131.2 L31.0,131.0 L30.9,130.2 L30.9,129.4 L30.9,128.6 L30.9,127.8 L30.9,127.0 L31.0,126.2 L30.9,125.4 L30.9,124.6 L31.0,123.8 L31.0,123.4 L31.1,122.6 L31.1,121.8 L31.2,121.0 L31.2,120.2 L31.3,119.4 L31.4,118.6 L31.4,118.0 L31.4,117.4 L31.5,116.6 L31.6,115.8 L31.6,115.0 L31.7,114.2 L31.8,113.4 L31.8,113.0 L31.9,112.2 L32.1,111.4 L32.2,110.7 L32.3,110.2 L32.5,109.4 L32.7,109.0 L32.9,108.2 L33.0,107.8 L33.3,107.0 L33.5,106.6 L33.8,105.9 L34.1,105.4 L34.3,105.0 L34.6,104.5 L35.0,103.9 L35.4,103.4 L35.7,103.0 L36.1,102.6 L36.5,102.2 L36.9,101.8 L37.3,101.4 L37.8,101.0 L38.2,100.6 L38.6,100.3 L39.0,100.0 L39.4,99.7 L39.8,99.4 L40.4,99.0 L41.0,98.6 L41.4,98.4 L41.8,98.1 L42.3,97.8 L42.9,97.4 L43.4,97.1 L43.8,96.9 L44.4,96.6 L45.0,96.3 L45.4,96.0 L45.8,95.8 L46.5,95.4 L47.0,95.2 L47.4,95.0 L48.2,94.6 L48.6,94.4 L49.1,94.2 L49.8,93.9 L50.2,93.7 L51.0,93.4 L51.4,93.2 L52.0,93.0 L52.6,92.8 L53.1,92.6 L53.8,92.3 L54.2,92.2 L55.0,92.1 L55.8,91.8 L56.2,91.7 L57.0,91.4 L57.6,91.4 L58.2,91.2 L58.9,91.0 L59.1,91.0 L59.6,91.0 L60.2,90.8 L61.0,90.7 L61.7,90.6 L62.2,90.5 L63.0,90.5 L63.8,90.4 L64.6,90.3 L65.0,90.2 L65.4,90.3 L65.8,90.2 L66.6,90.2 L66.7,90.2 L67.4,90.1 L68.2,90.0 L69.0,90.1 L69.8,90.2 L70.6,90.0 L71.4,90.1 L71.8,90.2 L72.2,90.1 L73.0,90.2 L73.0,90.2 L73.6,90.2 L74.2,90.2 L75.0,90.4 L75.8,90.5 L76.4,90.6 L77.0,90.7 L77.8,90.9 L78.4,91.0 L79.0,91.3 L79.4,91.5 L80.2,91.7 L80.6,92.0 L81.1,92.2 L81.8,92.6 L82.2,92.8 L82.6,93.1 L83.0,93.4 L83.5,93.8 L83.9,94.2 L84.3,94.6 L84.6,95.0 L85.0,95.5 L85.4,96.0 L85.7,96.6 L86.1,97.0 L86.3,97.4 L86.6,97.9 L87.0,98.3 L87.4,98.6 L88.0,99.0 L88.6,99.3 L89.0,99.4 L89.8,99.6 L90.6,99.7 L91.4,99.8 L91.8,99.8 L92.6,99.9 L93.4,99.9 L94.2,100.0 L95.0,100.0 L95.8,100.0 L96.6,100.1 L97.4,100.1 L97.9,100.2 L98.6,100.3 L99.4,100.4 L100.2,100.6 L100.6,100.6 L101.4,100.8 L102.2,100.9 L102.7,101.0 L103.4,101.1 L104.2,101.3 L104.7,101.4 L105.4,101.5 L106.2,101.7 L106.9,101.8 L107.4,101.9 L108.2,102.1 L108.9,102.2 L109.4,102.3 L110.2,102.4 L111.0,102.5 L111.4,102.6 L112.2,102.7 L113.0,102.8 L113.8,102.9 L114.2,103.0 L115.0,103.1 L115.8,103.2 L116.6,103.4 L117.1,103.4 L117.8,103.7 L118.3,103.8 L119.0,104.0 L119.8,104.2 L120.2,104.4 L120.6,104.6 L121.4,105.0 L121.8,105.3 L122.2,105.6 L122.6,106.1 L123.0,106.6 L123.2,107.0 L123.5,107.4 L123.7,108.2 L123.8,108.6 L124.1,109.4 L124.2,109.8 L124.3,110.6 L124.4,111.4 L124.4,112.2 L124.5,113.0 L124.5,113.8 L124.5,114.6 L124.4,115.4 L124.4,116.2 L124.3,117.0 L124.2,117.8 L124.2,118.6 L124.1,119.0 L124.0,119.8 L123.9,120.6 L123.8,121.4 L123.7,121.8 L123.6,122.6 L123.4,123.3 L123.3,123.8 L123.1,124.6 L123.0,125.1 L122.8,125.8 L122.6,126.6 L122.5,127.0 L122.4,127.8 L122.2,128.4 L122.0,129.0 L121.8,129.8 L121.7,130.2 L121.4,131.0 L121.3,131.4 L121.0,131.9 L120.6,132.6 L120.3,133.0 L119.9,133.4 L119.5,133.8 L119.0,134.2 L118.6,134.5 L118.2,134.9 L117.8,135.3 L117.4,135.7 L117.0,136.2 L116.8,136.6 L116.6,137.3 L116.6,137.8 L116.6,138.2 L116.6,139.0 L116.7,139.8 L116.9,140.6 L117.0,141.2 L117.1,141.8 L117.3,142.6 L117.4,143.2 L117.5,143.8 L117.7,144.6 L117.8,145.2 L117.9,145.8 L118.1,146.6 L118.2,147.4 L118.2,147.8 L118.4,148.6 L118.6,149.4 L118.6,149.8 L118.8,150.6 L118.9,151.4 L118.7,152.2 L118.6,152.8 L118.5,153.4 L118.4,154.2 L118.2,155.0 L118.2,155.4 L118.1,156.2 L118.0,157.0 L117.8,157.8 L117.8,158.2 L117.7,159.0 L117.7,159.8 L117.7,160.6 L117.6,161.4 L117.5,162.2 L117.4,163.0 L117.6,163.8 L117.8,164.2 L118.2,164.7 L118.6,165.3 L119.0,165.8 L119.4,166.1 L119.8,166.6 L120.1,167.0 L120.4,167.4 L120.8,167.8 L121.2,168.2 L121.4,168.6 L121.8,169.2 L122.1,169.8 L122.3,170.2 L122.6,170.8 L122.8,171.4 L123.0,171.9 L123.2,172.6 L123.3,173.4 L123.4,173.8 L123.6,174.6 L123.7,175.4 L123.7,176.2 L123.6,177.0 L123.6,177.8 L123.5,178.6 L123.4,179.0 L123.2,179.8 L123.0,180.4 L122.8,181.0 L122.6,181.6 L122.4,182.2 L122.2,182.6 L121.9,183.4 L121.7,183.8 L121.4,184.3 L121.0,185.0 L120.8,185.4 L120.6,185.8 L120.2,186.4 L119.8,187.0 L119.5,187.4 L119.2,187.8 L118.9,188.2 L118.5,188.6 L118.2,189.0 L117.8,189.5 L117.4,189.9 L117.0,190.3 L116.6,190.7 L116.2,191.2 L115.8,191.6 L115.4,192.0 L115.0,192.3 L114.6,192.7 L114.2,193.0 L113.7,193.4 L113.2,193.8 L112.7,194.2 L112.2,194.6 L111.8,194.9 L111.4,195.2 L111.0,195.4 L110.2,195.6 L109.4,195.8 L109.0,195.9 L108.2,196.0 L107.4,196.2 L107.0,196.3"/>
<path d="M93.8,155.9 L93.0,156.0 L92.2,156.1 L91.4,156.1 L90.6,156.1 L89.8,156.1 L89.0,156.1 L88.2,156.0 L87.4,155.9 L87.0,155.8 L86.2,155.6 L85.4,155.4 L85.0,155.3 L84.2,155.1 L83.8,154.8 L83.2,154.6 L82.6,154.3 L82.2,154.1 L81.8,153.8 L81.2,153.4 L80.7,153.0 L80.3,152.6 L79.9,152.2 L79.6,151.8 L79.3,151.4 L79.0,150.8 L78.7,150.2 L78.6,149.8 L78.4,149.0 L78.3,148.2 L78.4,147.4 L78.5,146.6 L78.6,146.2 L79.0,145.4 L79.0,145.0 L78.6,144.9 L78.2,145.2 L77.8,145.5 L77.3,145.8 L76.8,146.2 L76.2,146.6 L75.8,146.9 L75.4,147.2 L75.0,147.5 L74.5,147.8 L73.8,148.2 L73.4,148.5 L73.0,148.7 L72.5,149.0 L71.8,149.4 L71.4,149.6 L70.9,149.8 L70.2,150.1 L69.8,150.2 L69.0,150.5 L68.6,150.6 L67.8,150.9 L67.3,151.0 L66.6,151.2 L65.8,151.4 L65.4,151.4 L64.6,151.6 L63.8,151.7 L63.0,151.8 L62.6,151.9 L61.8,151.9 L61.0,152.0 L60.2,152.0 L59.4,152.1 L58.6,152.1 L57.8,152.1 L57.0,152.1 L56.2,152.0 L55.4,151.9 L54.6,151.8 L54.2,151.8 L53.4,151.7 L52.6,151.4 L52.2,151.4 L51.4,151.3 L50.6,151.1 L50.2,151.0 L49.4,150.8 L48.7,150.6 L48.2,150.5 L47.4,150.3 L47.0,150.1 L46.2,149.9 L45.8,149.7 L45.1,149.4 L44.6,149.2 L44.2,149.0 L43.4,148.6 L43.0,148.4 L42.6,148.2 L41.8,147.8 L41.4,147.6 L41.0,147.4 L40.3,147.0 L39.8,146.7 L39.4,146.5 L39.0,146.2 L38.5,145.8 L38.0,145.4 L37.5,145.0 L37.1,144.6 L36.7,144.2 L36.3,143.8 L35.9,143.4 L35.6,143.0 L35.3,142.6 L35.0,142.2 L34.6,141.5 L34.3,141.0 L34.0,140.6 L33.8,140.2 L33.5,139.4 L33.4,139.0 L33.0,138.3 L32.8,137.8 L32.7,137.0 L32.5,136.6 L32.3,135.8 L32.2,135.3 L32.0,134.6 L31.9,133.8 L31.8,133.4 L31.8,133.0 L31.9,132.2 L31.7,131.8 L31.7,131.0 L31.6,130.2 L31.6,129.4 L31.7,128.6 L31.6,127.8 L31.6,127.0 L31.6,126.2 L31.6,125.4 L31.7,124.6 L31.7,123.8 L31.8,123.0 L31.8,122.2 L31.8,121.8 L31.9,121.0 L31.9,120.2 L32.0,119.4 L32.0,118.6 L32.1,117.8 L32.1,117.0 L32.2,116.2 L32.2,115.5 L32.2,115.0 L32.3,114.2 L32.4,113.4 L32.5,112.6 L32.6,112.1 L32.7,111.4 L32.9,110.6 L33.0,110.0 L33.2,109.4 L33.4,108.6 L33.6,108.2 L33.8,107.5 L34.0,107.0 L34.2,106.5 L34.6,105.8 L34.8,105.4 L35.0,105.0 L35.4,104.4 L35.8,103.9 L36.2,103.4 L36.6,103.0 L36.9,102.6 L37.4,102.2 L37.8,101.8 L38.2,101.4 L38.6,101.1 L39.0,100.8 L39.4,100.5 L39.8,100.2 L40.3,99.8 L40.9,99.4 L41.4,99.1 L41.8,98.8 L42.2,98.6 L42.8,98.2 L43.4,97.9 L43.8,97.6 L44.2,97.4 L44.9,97.0 L45.4,96.7 L45.8,96.5 L46.4,96.2 L47.0,95.9 L47.4,95.7 L48.0,95.4 L48.6,95.1 L49.0,94.9 L49.8,94.6 L50.2,94.4 L50.8,94.2 L51.4,93.9 L51.8,93.8 L52.6,93.5 L53.0,93.4 L53.8,93.1 L54.2,92.9 L55.0,92.8 L55.7,92.6 L56.2,92.4 L57.0,92.2 L57.4,92.1 L58.2,92.0 L59.0,91.8 L59.4,91.7 L60.2,91.7 L61.0,91.5 L61.4,91.4 L61.8,91.4 L62.2,91.4 L63.0,91.2 L63.8,91.2 L64.6,91.1 L65.4,91.0 L65.8,90.9 L66.2,91.0 L66.6,91.0 L67.3,91.0 L67.5,91.0 L68.2,90.9 L68.6,91.0 L69.0,90.9 L69.8,91.0 L70.4,91.0 L70.9,91.0 L71.4,90.9 L71.8,91.1 L72.2,91.0 L72.6,91.1 L73.4,91.2 L74.2,91.2 L75.0,91.4 L75.6,91.4 L76.2,91.5 L76.6,91.8 L77.0,91.8 L77.4,92.0 L78.2,92.1 L78.6,92.3 L79.4,92.6 L79.8,92.8 L80.2,93.0 L80.8,93.4 L81.4,93.8 L81.8,94.1 L82.2,94.4 L82.6,94.8 L83.0,95.2 L83.4,95.6 L83.8,96.1 L84.2,96.6 L84.4,97.0 L84.6,97.4 L85.0,98.0 L85.3,98.6 L85.5,99.0 L85.8,99.8 L86.1,100.2 L86.2,100.7 L86.5,101.4 L86.6,101.8 L87.0,102.6 L87.2,103.0 L87.7,103.4 L87.8,103.4 L88.6,103.1 L89.0,103.0 L89.8,102.7 L90.2,102.6 L91.0,102.3 L91.7,102.2 L92.2,102.1 L93.0,102.0 L93.8,102.0 L94.6,102.0 L95.4,102.0 L96.2,102.0 L97.0,102.1 L97.8,102.1 L98.2,102.2 L98.6,102.2 L99.0,102.3 L99.8,102.4 L100.6,102.6 L101.0,102.6 L101.8,102.8 L102.6,102.9 L103.0,103.0 L103.8,103.1 L104.6,103.3 L105.4,103.4 L105.8,103.5 L106.6,103.7 L107.4,103.8 L107.8,103.8 L108.6,104.0 L109.4,104.1 L109.9,104.2 L110.6,104.3 L111.4,104.4 L112.2,104.6 L112.9,104.6 L113.4,104.7 L114.2,104.8 L114.6,105.0 L115.4,105.1 L116.2,105.3 L116.6,105.5 L117.4,105.7 L117.8,105.8 L118.6,106.2 L119.0,106.3 L119.6,106.6 L120.2,107.0 L120.6,107.3 L121.0,107.8 L121.3,108.2 L121.6,108.6 L121.8,109.0 L122.1,109.8 L122.3,110.2 L122.5,111.0 L122.6,111.8 L122.6,111.9 L122.6,112.5 L122.7,113.0 L122.8,113.8 L122.7,114.6 L122.7,115.4 L122.7,116.2 L122.6,117.0 L122.6,117.7 L122.5,118.2 L122.5,119.0 L122.4,119.8 L122.3,120.6 L122.2,121.1 L122.1,121.8 L121.9,122.6 L121.8,123.1 L121.6,123.8 L121.5,124.6 L121.4,125.0 L121.2,125.8 L121.0,126.5 L120.9,127.0 L120.7,127.8 L120.6,128.2 L120.3,129.0 L120.2,129.4 L119.9,130.2 L119.7,130.6 L119.4,131.2 L119.0,131.7 L118.6,132.1 L118.2,132.5 L117.8,132.8 L117.4,133.1 L117.0,133.4 L116.5,133.8 L115.9,134.2 L115.4,134.6 L115.0,134.8 L114.6,135.0 L113.8,135.4 L113.4,135.6 L112.6,135.8 L112.2,135.8 L111.4,136.0 L110.6,136.1 L109.8,136.1 L109.4,136.2 L108.6,136.3 L107.8,136.3 L107.0,136.4 L106.2,136.4 L105.4,136.3 L104.6,136.3 L103.8,136.3 L103.4,136.2 L103.0,136.2 L102.6,136.2 L101.8,136.1 L101.0,136.0 L100.2,135.8 L99.8,135.8 L99.0,135.6 L98.2,135.4 L97.8,135.3 L97.0,135.0 L96.6,134.9 L95.9,134.6 L95.4,134.4 L94.9,134.2 L94.2,133.9 L93.8,133.6 L93.3,133.4 L92.7,133.0 L92.2,132.7 L91.8,132.4 L91.4,132.2 L90.9,131.8 L90.4,131.4 L90.0,131.0 L89.6,130.6 L89.2,130.2 L88.9,129.8 L88.5,129.4 L88.0,129.0 L87.4,128.8 L87.0,129.4 L86.8,129.8 L86.6,130.5 L86.4,131.0 L86.2,131.8 L86.1,132.2 L85.8,133.0 L85.7,133.4 L85.4,134.1 L85.2,134.6 L85.0,135.0 L84.7,135.8 L84.5,136.2 L84.2,136.7 L83.9,137.4 L83.7,137.8 L83.4,138.3 L83.0,139.0 L82.8,139.4 L82.5,139.8 L82.2,140.3 L81.8,140.9 L81.5,141.4 L81.2,141.8 L80.9,142.2 L80.6,142.7 L80.2,143.3 L80.2,143.6 L80.8,143.4 L81.4,143.1 L81.8,142.8 L82.3,142.6 L83.0,142.3 L83.4,142.1 L84.2,141.8 L84.6,141.7 L85.4,141.5 L85.8,141.4 L86.6,141.2 L87.4,141.1 L88.0,141.0 L88.6,140.9 L89.4,140.9 L90.2,140.8 L91.0,140.8 L91.8,140.9 L92.6,141.0 L93.0,141.0 L93.8,141.2 L94.6,141.3 L95.0,141.4 L95.8,141.6 L96.3,141.8 L97.0,142.1 L97.4,142.2 L98.2,142.6 L98.6,142.8 L99.0,143.0 L99.5,143.4 L100.1,143.8 L100.5,144.2 L100.9,144.6 L101.3,145.0 L101.6,145.4 L101.8,145.8 L102.2,146.6 L102.3,147.0 L102.5,147.8 L102.6,148.6 L102.5,149.4 L102.3,150.2 L102.1,150.6 L101.8,151.3 L101.5,151.8 L101.2,152.2 L100.8,152.6 L100.4,153.0 L99.9,153.4 L99.4,153.8 L99.0,154.1 L98.6,154.2 L98.0,154.6 L97.4,154.8 L97.0,155.0 L96.2,155.3 L95.8,155.4 L95.0,155.6 L94.2,155.8 L93.8,155.9"/>
<path d="M65.8,188.2 L65.0,188.3 L64.2,188.4 L63.4,188.4 L62.6,188.4 L61.8,188.4 L61.0,188.4 L60.2,188.4 L59.4,188.4 L58.6,188.4 L57.8,188.4 L57.0,188.4 L56.2,188.4 L55.4,188.3 L54.6,188.2 L54.0,188.2 L53.4,188.2 L52.6,188.0 L51.8,187.9 L51.0,187.8 L50.6,187.8 L49.8,187.7 L49.0,187.6 L48.2,187.4 L47.8,187.3 L47.0,187.1 L46.6,186.9 L46.0,186.6 L45.4,186.4 L45.0,186.2 L44.3,185.8 L43.9,185.4 L43.4,185.0 L43.0,184.6 L42.6,184.2 L42.3,183.8 L42.0,183.4 L41.8,183.0 L41.4,182.4 L41.1,181.8 L40.9,181.4 L40.6,180.6 L40.5,180.2 L40.3,179.4 L40.2,178.6 L40.2,178.2 L40.1,177.4 L40.1,176.6 L40.0,175.8 L40.0,175.0 L40.0,174.2 L40.0,173.4 L40.0,172.6 L40.1,171.8 L40.2,171.0 L40.2,170.6 L40.3,169.8 L40.5,169.0 L40.6,168.3 L40.7,167.8 L40.9,167.0 L41.0,166.6 L41.3,165.8 L41.4,165.4 L41.8,164.6 L42.0,164.2 L42.2,163.7 L42.6,163.1 L42.9,162.6 L43.2,162.2 L43.5,161.8 L43.9,161.4 L44.3,161.0 L44.8,160.6 L45.4,160.2 L45.8,159.9 L46.2,159.7 L46.9,159.4 L47.4,159.3 L48.2,159.1 L48.8,159.0 L49.4,158.9 L50.2,159.0 L51.0,158.9 L51.7,159.0 L52.2,159.0 L52.6,159.0 L53.0,159.1 L53.8,159.1 L54.6,159.2 L55.4,159.4 L55.8,159.5 L56.6,159.6 L57.4,159.7 L57.8,159.8 L58.6,160.0 L59.4,160.2 L59.8,160.3 L60.6,160.6 L61.0,160.7 L61.7,161.0 L62.2,161.2 L62.7,161.4 L63.4,161.7 L63.8,162.0 L64.3,162.2 L64.9,162.6 L65.4,162.9 L65.8,163.1 L66.2,163.4 L66.6,163.8 L67.1,164.2 L67.5,164.6 L67.9,165.0 L68.3,165.4 L68.7,165.8 L69.0,166.2 L69.4,166.6 L69.8,167.1 L70.2,167.6 L70.6,168.2 L70.9,168.6 L71.2,169.0 L71.4,169.4 L71.8,170.0 L72.2,170.6 L72.4,171.0 L72.6,171.4 L73.0,172.1 L73.2,172.6 L73.4,173.3 L73.6,173.8 L73.7,174.6 L73.8,175.2 L73.8,175.8 L73.9,176.6 L74.0,177.4 L74.0,178.2 L74.0,179.0 L73.8,179.8 L73.8,180.2 L73.6,181.0 L73.4,181.8 L73.3,182.2 L73.0,182.9 L72.8,183.4 L72.6,183.9 L72.3,184.6 L72.1,185.0 L71.8,185.4 L71.4,186.0 L71.0,186.4 L70.6,186.8 L70.2,187.1 L69.5,187.4 L69.0,187.6 L68.2,187.8 L67.8,187.9 L67.0,188.0 L66.2,188.2 L65.8,188.2"/>
<path d="M79.0,167.5 L78.2,167.7 L77.4,167.7 L76.6,167.6 L76.0,167.4 L75.4,167.0 L75.0,166.7 L74.6,166.3 L74.3,165.8 L74.1,165.4 L73.8,164.6 L73.8,164.2 L73.8,163.4 L73.9,163.0 L74.2,162.2 L74.4,161.8 L74.7,161.4 L75.1,161.0 L75.6,160.6 L76.2,160.3 L76.6,160.2 L77.4,160.1 L78.2,160.1 L78.6,160.2 L79.4,160.5 L79.8,160.8 L80.2,161.1 L80.6,161.5 L81.0,162.1 L81.2,162.6 L81.4,163.4 L81.4,163.8 L81.4,164.4 L81.3,165.0 L81.0,165.7 L80.7,166.2 L80.3,166.6 L79.9,167.0 L79.4,167.3 L79.0,167.5"/>
<path d="M106.2,193.8 L105.4,193.9 L104.6,193.9 L103.8,193.8 L103.4,193.7 L102.6,193.5 L102.2,193.4 L101.4,193.0 L101.0,192.9 L100.4,192.6 L99.8,192.2 L99.4,191.9 L99.0,191.6 L98.6,191.4 L98.1,191.0 L97.6,190.6 L97.2,190.2 L96.9,189.8 L96.4,189.4 L96.0,189.0 L95.7,188.6 L95.3,188.2 L95.0,187.8 L94.5,187.4 L94.2,187.0 L93.8,186.4 L93.4,185.9 L93.0,185.4 L92.7,185.0 L92.5,184.6 L92.2,184.2 L91.8,183.7 L91.4,183.2 L91.0,182.7 L90.7,182.2 L90.4,181.8 L90.1,181.4 L89.8,180.8 L89.5,180.2 L89.3,179.8 L89.0,179.3 L88.7,178.6 L88.6,178.2 L88.3,177.4 L88.1,177.0 L87.9,176.2 L87.7,175.8 L87.5,175.0 L87.4,174.4 L87.3,173.8 L87.2,173.0 L87.1,172.2 L87.1,171.4 L87.0,170.6 L87.1,169.8 L87.2,169.0 L87.4,168.2 L87.5,167.8 L87.7,167.0 L87.9,166.6 L88.2,166.1 L88.6,165.5 L89.0,165.1 L89.4,164.8 L89.8,164.4 L90.2,164.2 L90.8,163.8 L91.4,163.5 L91.8,163.4 L92.6,163.2 L93.4,163.1 L94.2,163.0 L94.6,162.9 L95.4,162.9 L96.2,162.8 L97.0,162.7 L97.8,162.7 L98.6,162.6 L99.0,162.6 L99.8,162.5 L100.6,162.6 L101.4,162.6 L101.8,162.6 L102.6,162.6 L103.4,162.7 L104.2,162.7 L105.0,162.7 L105.8,162.8 L106.6,162.9 L107.4,162.9 L108.2,162.9 L108.6,163.0 L109.4,163.2 L110.2,163.3 L110.7,163.4 L111.4,163.5 L112.2,163.7 L112.6,163.9 L113.4,164.0 L113.9,164.2 L114.6,164.5 L115.0,164.8 L115.4,165.0 L116.0,165.4 L116.6,165.8 L116.9,166.2 L117.4,166.5 L117.8,167.0 L118.0,167.4 L118.5,167.8 L118.8,168.2 L119.0,168.6 L119.4,169.2 L119.8,169.7 L120.0,170.2 L120.2,170.6 L120.5,171.4 L120.6,171.8 L120.9,172.6 L121.0,173.1 L121.1,173.8 L121.2,174.6 L121.3,175.4 L121.3,176.2 L121.2,177.0 L121.1,177.8 L121.0,178.3 L120.8,179.0 L120.6,179.8 L120.5,180.2 L120.2,180.9 L120.0,181.4 L119.8,181.9 L119.4,182.6 L119.2,183.0 L119.0,183.4 L118.6,184.1 L118.3,184.6 L118.1,185.0 L117.8,185.4 L117.4,186.0 L117.0,186.5 L116.6,187.0 L116.2,187.4 L115.9,187.8 L115.5,188.2 L115.1,188.6 L114.8,189.0 L114.4,189.4 L114.0,189.8 L113.6,190.2 L113.1,190.6 L112.6,191.0 L112.2,191.3 L111.8,191.6 L111.4,191.9 L111.0,192.2 L110.4,192.6 L109.8,192.9 L109.4,193.0 L108.6,193.3 L108.1,193.4 L107.4,193.6 L106.6,193.8 L106.2,193.8"/>
<path d="M59.8,150.2 L59.0,150.2 L58.2,150.3 L57.4,150.3 L56.6,150.3 L55.8,150.3 L55.4,150.2 L54.6,150.2 L53.8,150.0 L53.0,149.9 L52.2,149.8 L51.8,149.7 L51.0,149.5 L50.2,149.4 L49.8,149.3 L49.0,149.1 L48.6,149.0 L47.8,148.8 L47.1,148.6 L46.6,148.4 L45.8,148.2 L45.4,148.0 L44.8,147.8 L44.2,147.6 L43.8,147.4 L43.0,147.0 L42.6,146.8 L42.1,146.6 L41.4,146.2 L41.0,146.0 L40.6,145.8 L39.9,145.4 L39.4,145.1 L39.0,144.8 L38.6,144.4 L38.2,144.1 L37.8,143.8 L37.4,143.4 L37.0,143.0 L36.6,142.6 L36.2,142.1 L35.8,141.5 L35.5,141.0 L35.3,140.6 L35.0,140.1 L34.6,139.5 L34.3,139.0 L34.2,138.6 L33.9,137.8 L33.7,137.4 L33.4,136.7 L33.3,136.2 L33.0,135.5 L33.0,135.0 L32.8,134.2 L32.6,133.4 L32.6,132.6 L32.5,132.2 L32.5,131.4 L32.5,130.6 L32.4,129.8 L32.3,129.0 L32.4,128.2 L32.3,127.4 L32.3,126.6 L32.3,125.8 L32.3,125.0 L32.3,124.2 L32.4,123.4 L32.4,122.6 L32.5,121.8 L32.5,121.0 L32.6,120.2 L32.6,119.8 L32.6,119.0 L32.7,118.2 L32.7,117.4 L32.8,116.6 L32.8,115.8 L32.9,115.0 L33.0,114.2 L33.0,113.8 L33.0,113.0 L33.2,112.2 L33.3,111.4 L33.4,111.0 L33.6,110.2 L33.8,109.4 L33.9,109.0 L34.2,108.2 L34.3,107.8 L34.6,107.2 L34.9,106.6 L35.0,106.2 L35.4,105.6 L35.8,105.0 L36.1,104.6 L36.4,104.2 L36.7,103.8 L37.1,103.4 L37.4,103.0 L37.9,102.6 L38.3,102.2 L38.7,101.8 L39.2,101.4 L39.8,101.0 L40.2,100.7 L40.6,100.4 L41.0,100.1 L41.5,99.8 L42.1,99.4 L42.6,99.1 L43.0,98.8 L43.4,98.6 L44.1,98.2 L44.6,97.9 L45.0,97.7 L45.5,97.4 L46.2,97.0 L46.6,96.8 L47.0,96.6 L47.8,96.2 L48.2,96.0 L48.8,95.8 L49.4,95.5 L49.8,95.3 L50.5,95.0 L51.0,94.8 L51.5,94.6 L52.2,94.4 L52.6,94.2 L53.4,93.9 L53.8,93.8 L54.6,93.5 L55.4,93.4 L55.8,93.3 L56.6,93.1 L57.0,93.0 L57.8,92.8 L58.6,92.7 L59.1,92.6 L59.8,92.4 L60.6,92.4 L61.4,92.2 L61.8,92.2 L62.6,92.0 L63.4,92.0 L64.2,92.0 L65.0,91.9 L65.4,91.8 L65.8,91.9 L66.4,91.8 L66.7,91.8 L67.4,91.8 L67.8,91.8 L68.2,91.9 L68.7,91.8 L69.2,91.8 L69.8,91.8 L70.2,91.8 L70.6,91.9 L71.4,92.0 L72.2,91.9 L73.0,92.1 L73.7,92.2 L74.2,92.2 L74.2,92.2 L75.0,92.4 L75.7,92.6 L76.2,92.7 L77.0,93.0 L77.4,93.0 L78.2,93.4 L78.6,93.5 L79.2,93.8 L79.8,94.2 L80.2,94.5 L80.6,94.8 L81.0,95.1 L81.4,95.4 L81.8,95.8 L82.2,96.2 L82.6,96.7 L83.0,97.3 L83.3,97.8 L83.5,98.2 L83.8,98.6 L84.1,99.4 L84.3,99.8 L84.6,100.6 L84.8,101.0 L84.9,101.8 L85.1,102.2 L85.2,103.0 L85.4,103.4 L85.5,104.2 L85.7,105.0 L85.8,105.7 L85.8,106.2 L86.0,107.0 L86.0,107.8 L86.2,108.6 L86.2,109.1 L86.5,109.8 L86.6,110.3 L86.8,109.8 L87.2,109.4 L87.4,108.8 L87.7,108.2 L87.8,107.8 L88.2,107.1 L88.5,106.6 L88.9,106.2 L89.4,105.8 L89.8,105.5 L90.2,105.3 L90.9,105.0 L91.4,104.8 L91.9,104.6 L92.6,104.4 L93.4,104.2 L93.8,104.2 L94.6,104.1 L95.4,104.1 L96.2,104.1 L97.0,104.1 L97.8,104.1 L98.3,104.2 L99.0,104.3 L99.8,104.4 L100.6,104.5 L101.3,104.6 L101.8,104.7 L102.6,104.8 L103.3,105.0 L103.8,105.1 L104.6,105.2 L105.4,105.4 L105.8,105.4 L106.6,105.5 L107.4,105.7 L107.9,105.8 L108.6,105.9 L109.4,106.1 L110.2,106.2 L110.6,106.2 L111.4,106.3 L112.2,106.5 L112.6,106.6 L113.4,106.9 L114.0,107.0 L114.6,107.2 L115.3,107.4 L115.8,107.6 L116.4,107.8 L117.0,108.0 L117.4,108.2 L118.2,108.6 L118.6,108.9 L119.0,109.2 L119.4,109.6 L119.8,110.1 L120.1,110.6 L120.2,111.0 L120.5,111.8 L120.6,112.2 L120.7,113.0 L120.9,113.8 L120.9,114.6 L121.0,115.0 L121.0,115.4 L121.0,116.2 L121.0,117.0 L120.9,117.8 L120.9,118.6 L120.8,119.4 L120.7,120.2 L120.6,121.0 L120.6,121.4 L120.4,122.2 L120.3,123.0 L120.2,123.4 L120.0,124.2 L119.8,125.0 L119.7,125.4 L119.5,126.2 L119.4,126.8 L119.3,127.4 L119.0,128.2 L118.9,128.6 L118.6,129.4 L118.4,129.8 L118.1,130.2 L117.8,130.6 L117.4,131.0 L116.9,131.4 L116.4,131.8 L115.8,132.2 L115.4,132.5 L115.0,132.7 L114.5,133.0 L113.8,133.4 L113.4,133.5 L112.6,133.7 L112.2,133.8 L111.4,133.9 L110.6,134.0 L109.8,134.1 L109.0,134.1 L108.2,134.2 L107.7,134.2 L107.0,134.2 L106.5,134.2 L105.8,134.2 L105.0,134.1 L104.2,134.0 L103.4,133.9 L102.6,133.9 L102.2,133.8 L101.4,133.7 L100.6,133.5 L100.2,133.4 L99.4,133.2 L98.9,133.0 L98.2,132.8 L97.6,132.6 L97.0,132.4 L96.6,132.2 L95.8,131.8 L95.4,131.7 L94.9,131.4 L94.2,131.0 L93.8,130.7 L93.4,130.5 L93.0,130.2 L92.4,129.8 L91.9,129.4 L91.4,129.0 L91.1,128.6 L90.7,128.2 L90.4,127.8 L90.1,127.4 L89.8,126.9 L89.4,126.2 L89.1,125.8 L88.9,125.4 L88.6,124.8 L88.3,124.2 L88.1,123.8 L87.8,123.0 L87.7,122.6 L87.5,121.8 L87.4,121.3 L87.2,120.6 L87.0,119.9 L86.6,119.5 L86.4,120.2 L86.2,121.0 L86.1,121.4 L86.0,122.2 L85.9,123.0 L85.8,123.7 L85.7,124.2 L85.6,125.0 L85.5,125.8 L85.4,126.4 L85.3,127.0 L85.2,127.8 L85.0,128.6 L84.9,129.0 L84.8,129.8 L84.6,130.3 L84.4,131.0 L84.2,131.7 L84.0,132.2 L83.8,132.8 L83.6,133.4 L83.4,133.8 L83.0,134.6 L82.8,135.0 L82.6,135.5 L82.2,136.2 L82.0,136.6 L81.8,137.0 L81.4,137.7 L81.1,138.2 L80.9,138.6 L80.6,139.0 L80.2,139.6 L79.8,140.2 L79.5,140.6 L79.2,141.0 L78.8,141.4 L78.5,141.8 L78.1,142.2 L77.7,142.6 L77.3,143.0 L76.9,143.4 L76.4,143.8 L75.9,144.2 L75.4,144.6 L75.0,144.9 L74.6,145.2 L74.2,145.5 L73.8,145.8 L73.2,146.2 L72.6,146.5 L72.2,146.8 L71.8,147.0 L71.1,147.4 L70.6,147.7 L70.2,147.9 L69.4,148.2 L69.0,148.4 L68.4,148.6 L67.8,148.8 L67.2,149.0 L66.6,149.2 L65.8,149.4 L65.4,149.4 L64.6,149.6 L63.8,149.8 L63.4,149.8 L62.6,149.9 L61.8,150.0 L61.0,150.1 L60.2,150.2 L59.8,150.2"/>
<path d="M93.8,154.2 L93.0,154.4 L92.2,154.5 L91.4,154.5 L90.6,154.5 L89.8,154.5 L89.0,154.5 L88.2,154.4 L87.4,154.2 L87.0,154.1 L86.2,153.9 L85.8,153.8 L85.0,153.5 L84.6,153.3 L84.1,153.0 L83.5,152.6 L83.0,152.2 L82.6,151.9 L82.2,151.5 L81.8,151.0 L81.5,150.6 L81.3,150.2 L81.1,149.4 L81.0,149.0 L80.9,148.2 L81.0,147.8 L81.2,147.0 L81.4,146.5 L81.8,145.9 L82.2,145.4 L82.6,145.0 L83.0,144.7 L83.4,144.4 L83.8,144.1 L84.3,143.8 L85.0,143.5 L85.4,143.4 L86.2,143.0 L86.6,142.9 L87.4,142.8 L88.2,142.6 L88.6,142.6 L89.4,142.5 L90.2,142.5 L91.0,142.5 L91.8,142.5 L92.5,142.6 L93.0,142.7 L93.8,142.8 L94.4,143.0 L95.0,143.2 L95.6,143.4 L96.2,143.6 L96.6,143.8 L97.2,144.2 L97.8,144.6 L98.2,144.9 L98.6,145.3 L99.0,145.7 L99.3,146.2 L99.5,146.6 L99.8,147.2 L100.0,147.8 L100.1,148.6 L100.0,149.4 L99.8,150.0 L99.5,150.6 L99.3,151.0 L99.0,151.4 L98.6,151.8 L98.2,152.2 L97.6,152.6 L97.0,153.0 L96.6,153.2 L96.2,153.4 L95.4,153.7 L95.0,153.9 L94.2,154.1 L93.8,154.2"/>
<path d="M65.0,186.7 L64.2,186.7 L63.4,186.8 L62.6,186.8 L61.8,186.9 L61.0,186.9 L60.2,186.9 L59.4,186.9 L58.6,186.9 L57.8,186.8 L57.0,186.8 L56.2,186.8 L55.4,186.7 L54.6,186.7 L54.0,186.6 L53.4,186.5 L52.6,186.4 L51.8,186.3 L51.0,186.2 L50.6,186.1 L49.8,186.0 L49.0,185.8 L48.6,185.7 L47.8,185.4 L47.4,185.3 L46.8,185.0 L46.2,184.7 L45.8,184.4 L45.4,184.1 L45.0,183.7 L44.6,183.3 L44.2,182.8 L43.8,182.2 L43.6,181.8 L43.4,181.4 L43.1,180.6 L42.9,180.2 L42.7,179.4 L42.6,179.0 L42.5,178.2 L42.4,177.4 L42.3,176.6 L42.3,175.8 L42.3,175.0 L42.3,174.2 L42.3,173.4 L42.3,172.6 L42.3,171.8 L42.4,171.0 L42.6,170.2 L42.6,169.8 L42.8,169.0 L43.0,168.2 L43.1,167.8 L43.3,167.0 L43.5,166.6 L43.8,165.8 L44.0,165.4 L44.2,165.0 L44.6,164.3 L45.0,163.8 L45.3,163.4 L45.6,163.0 L46.0,162.6 L46.5,162.2 L47.0,161.8 L47.4,161.6 L47.8,161.4 L48.6,161.1 L49.0,161.0 L49.8,160.8 L50.6,160.8 L51.4,160.7 L52.2,160.7 L53.0,160.8 L53.8,160.8 L54.6,160.9 L55.0,161.0 L55.8,161.1 L56.6,161.3 L57.4,161.4 L57.8,161.5 L58.6,161.7 L59.1,161.8 L59.8,162.0 L60.4,162.2 L61.0,162.4 L61.5,162.6 L62.2,162.9 L62.6,163.1 L63.2,163.4 L63.8,163.7 L64.2,164.0 L64.6,164.2 L65.1,164.6 L65.6,165.0 L66.1,165.4 L66.5,165.8 L66.9,166.2 L67.3,166.6 L67.6,167.0 L68.0,167.4 L68.3,167.8 L68.6,168.2 L69.0,168.7 L69.4,169.3 L69.8,169.8 L70.0,170.2 L70.2,170.6 L70.6,171.2 L70.9,171.8 L71.1,172.2 L71.4,172.8 L71.6,173.4 L71.8,174.2 L71.9,174.6 L71.9,175.4 L72.0,176.2 L72.1,177.0 L72.0,177.8 L72.0,178.6 L71.9,179.4 L71.8,179.8 L71.6,180.6 L71.4,181.4 L71.3,181.8 L71.1,182.6 L70.9,183.0 L70.6,183.7 L70.3,184.2 L70.0,184.6 L69.7,185.0 L69.3,185.4 L68.7,185.8 L68.2,186.0 L67.8,186.2 L67.0,186.3 L66.2,186.5 L65.4,186.6 L65.0,186.7"/>
<path d="M78.2,165.8 L77.4,165.9 L76.9,165.8 L76.2,165.4 L75.9,165.0 L75.7,164.6 L75.6,163.8 L75.8,163.0 L76.1,162.6 L76.5,162.2 L77.0,162.0 L77.8,161.9 L78.6,162.1 L79.0,162.5 L79.4,163.0 L79.5,163.4 L79.6,164.2 L79.4,164.8 L79.0,165.4 L78.6,165.6 L78.2,165.8"/>
<path d="M105.8,190.7 L105.0,190.8 L104.2,190.9 L103.4,190.9 L102.6,190.7 L102.1,190.6 L101.4,190.3 L101.0,190.1 L100.2,189.8 L99.8,189.6 L99.4,189.4 L99.0,188.9 L98.5,188.6 L97.8,188.2 L97.6,187.8 L97.0,187.4 L96.7,187.0 L96.3,186.6 L95.9,186.2 L95.6,185.8 L95.2,185.4 L94.8,185.0 L94.5,184.6 L94.2,184.2 L93.8,183.7 L93.4,183.2 L93.0,182.7 L92.7,182.2 L92.4,181.8 L92.1,181.4 L91.8,181.0 L91.4,180.5 L91.0,179.9 L90.8,179.4 L90.6,179.0 L90.2,178.2 L90.0,177.8 L89.8,177.2 L89.6,176.6 L89.4,176.1 L89.1,175.4 L89.0,175.0 L88.8,174.2 L88.6,173.4 L88.5,173.0 L88.4,172.2 L88.3,171.4 L88.3,170.6 L88.4,169.8 L88.5,169.0 L88.6,168.6 L88.9,167.8 L89.0,167.4 L89.4,166.7 L89.8,166.2 L90.2,165.8 L90.6,165.5 L91.0,165.2 L91.4,164.9 L92.0,164.6 L92.6,164.3 L93.2,164.2 L93.8,164.1 L94.6,164.0 L95.4,164.0 L96.2,163.9 L97.0,163.8 L97.4,163.8 L98.2,163.7 L99.0,163.6 L99.8,163.6 L100.6,163.6 L101.4,163.7 L102.2,163.7 L103.0,163.7 L103.8,163.8 L104.2,163.8 L105.0,163.9 L105.8,163.9 L106.6,163.9 L107.4,164.1 L108.1,164.2 L108.6,164.3 L109.4,164.4 L110.2,164.6 L110.6,164.6 L111.4,164.9 L111.8,165.1 L112.6,165.4 L113.0,165.6 L113.4,165.9 L114.1,166.2 L114.5,166.6 L115.0,167.0 L115.4,167.3 L115.8,167.8 L116.2,168.1 L116.5,168.6 L116.9,169.0 L117.1,169.4 L117.4,170.1 L117.7,170.6 L117.9,171.0 L118.1,171.8 L118.2,172.2 L118.5,173.0 L118.6,173.8 L118.6,174.6 L118.6,175.4 L118.5,176.2 L118.4,177.0 L118.2,177.7 L118.1,178.2 L117.8,179.0 L117.6,179.4 L117.4,180.0 L117.1,180.6 L116.9,181.0 L116.6,181.6 L116.3,182.2 L116.0,182.6 L115.8,183.0 L115.4,183.5 L115.0,184.1 L114.6,184.6 L114.3,185.0 L113.9,185.4 L113.5,185.8 L113.1,186.2 L112.7,186.6 L112.2,187.0 L111.8,187.4 L111.4,187.7 L111.0,188.0 L110.6,188.3 L110.2,188.6 L109.7,189.0 L109.0,189.4 L108.6,189.6 L108.2,189.9 L107.4,190.2 L107.0,190.4 L106.2,190.6 L105.8,190.7"/>
<path d="M61.8,148.6 L61.0,148.7 L60.2,148.8 L59.4,148.9 L58.6,148.9 L57.8,148.9 L57.0,148.9 L56.2,148.9 L55.4,148.8 L54.6,148.8 L53.8,148.7 L53.1,148.6 L52.6,148.5 L51.8,148.4 L51.0,148.2 L50.6,148.1 L49.8,148.0 L49.2,147.8 L48.6,147.7 L47.8,147.5 L47.4,147.3 L46.6,147.1 L46.2,147.0 L45.4,146.7 L45.0,146.5 L44.2,146.2 L43.8,146.1 L43.2,145.8 L42.6,145.5 L42.2,145.3 L41.6,145.0 L41.0,144.6 L40.6,144.4 L40.2,144.1 L39.7,143.8 L39.2,143.4 L38.7,143.0 L38.2,142.6 L37.8,142.2 L37.4,141.8 L37.1,141.4 L36.7,141.0 L36.5,140.6 L36.2,140.1 L35.8,139.6 L35.5,139.0 L35.3,138.6 L35.0,138.2 L34.7,137.4 L34.6,137.0 L34.2,136.3 L34.1,135.8 L33.8,135.0 L33.8,134.6 L33.6,133.8 L33.4,133.0 L33.4,132.5 L33.3,131.8 L33.2,131.0 L33.2,130.2 L33.2,129.4 L33.1,128.6 L33.1,127.8 L33.1,127.0 L33.1,126.2 L33.1,125.4 L33.1,124.6 L33.1,123.8 L33.1,123.0 L33.1,122.2 L33.1,121.4 L33.2,120.6 L33.2,119.8 L33.3,119.0 L33.3,118.2 L33.4,117.4 L33.4,116.8 L33.4,116.2 L33.5,115.4 L33.5,114.6 L33.6,113.8 L33.7,113.0 L33.8,112.4 L33.9,111.8 L34.1,111.0 L34.2,110.4 L34.4,109.8 L34.6,109.0 L34.7,108.6 L35.0,107.8 L35.2,107.4 L35.4,107.0 L35.8,106.2 L36.0,105.8 L36.3,105.4 L36.6,104.9 L37.0,104.4 L37.4,104.0 L37.8,103.5 L38.2,103.1 L38.6,102.8 L39.0,102.4 L39.4,102.1 L39.8,101.7 L40.3,101.4 L40.8,101.0 L41.4,100.6 L41.8,100.3 L42.2,100.1 L42.6,99.8 L43.3,99.4 L43.8,99.1 L44.2,98.8 L44.6,98.6 L45.4,98.2 L45.8,98.0 L46.2,97.7 L46.9,97.4 L47.4,97.1 L47.8,96.9 L48.5,96.6 L49.0,96.4 L49.4,96.2 L50.2,95.9 L50.6,95.7 L51.3,95.4 L51.8,95.2 L52.4,95.0 L53.0,94.8 L53.6,94.6 L54.2,94.4 L54.9,94.2 L55.4,94.1 L56.2,93.9 L56.9,93.8 L57.4,93.7 L58.2,93.5 L58.6,93.4 L59.4,93.3 L60.2,93.2 L61.0,93.0 L61.4,93.0 L61.8,93.0 L62.2,93.0 L63.0,92.8 L63.8,92.8 L64.6,92.7 L65.4,92.7 L66.2,92.6 L67.0,92.7 L67.6,92.6 L67.9,92.6 L68.6,92.7 L69.0,92.6 L69.4,92.7 L70.2,92.8 L71.0,92.8 L71.8,93.0 L72.6,92.9 L73.0,93.0 L73.8,93.2 L74.6,93.3 L75.0,93.5 L75.8,93.7 L76.2,93.9 L77.0,94.1 L77.4,94.3 L78.2,94.6 L78.6,94.9 L79.0,95.1 L79.4,95.4 L79.9,95.8 L80.4,96.2 L80.8,96.6 L81.1,97.0 L81.5,97.4 L81.8,97.9 L82.2,98.5 L82.5,99.0 L82.6,99.4 L83.0,100.1 L83.1,100.6 L83.4,101.0 L83.5,101.8 L83.8,102.6 L83.9,103.0 L84.1,103.8 L84.2,104.6 L84.3,105.0 L84.4,105.8 L84.5,106.6 L84.6,107.3 L84.6,107.8 L84.6,108.2 L84.7,108.6 L84.7,109.4 L84.8,110.2 L84.8,111.0 L84.8,111.8 L84.9,112.6 L84.9,113.4 L84.9,114.2 L84.9,115.0 L84.9,115.8 L84.9,116.6 L84.9,117.4 L84.9,118.2 L84.8,119.0 L84.8,119.8 L84.7,120.6 L84.6,121.4 L84.6,121.8 L84.5,122.6 L84.4,123.4 L84.3,124.2 L84.2,125.0 L84.1,125.4 L84.0,126.2 L83.9,127.0 L83.8,127.5 L83.7,128.2 L83.5,129.0 L83.4,129.4 L83.2,130.2 L83.0,130.8 L82.8,131.4 L82.6,131.9 L82.3,132.6 L82.1,133.0 L81.8,133.8 L81.6,134.2 L81.4,134.7 L81.0,135.4 L80.8,135.8 L80.6,136.2 L80.2,136.9 L79.9,137.4 L79.6,137.8 L79.4,138.2 L79.0,138.8 L78.6,139.3 L78.2,139.8 L77.9,140.2 L77.6,140.6 L77.2,141.0 L76.8,141.4 L76.4,141.8 L76.0,142.2 L75.5,142.6 L75.1,143.0 L74.6,143.4 L74.2,143.7 L73.8,144.0 L73.4,144.3 L72.9,144.6 L72.3,145.0 L71.8,145.3 L71.4,145.6 L71.0,145.8 L70.2,146.2 L69.8,146.4 L69.4,146.6 L68.6,147.0 L68.2,147.1 L67.5,147.4 L67.0,147.5 L66.2,147.8 L65.8,147.9 L65.0,148.1 L64.3,148.2 L63.8,148.3 L63.0,148.4 L62.2,148.6 L61.8,148.6"/>
<path d="M112.6,132.6 L111.8,132.8 L111.0,132.9 L110.2,132.9 L109.4,132.9 L108.6,132.9 L107.8,132.8 L107.0,132.7 L106.6,132.6 L105.8,132.4 L105.0,132.2 L104.6,132.1 L103.8,132.0 L103.3,131.8 L102.6,131.6 L102.0,131.4 L101.4,131.2 L101.0,131.0 L100.2,130.7 L99.8,130.5 L99.2,130.2 L98.6,130.0 L98.2,129.8 L97.4,129.4 L97.0,129.3 L96.4,129.0 L95.8,128.7 L95.4,128.5 L94.9,128.2 L94.2,127.8 L93.8,127.5 L93.4,127.3 L93.0,127.0 L92.5,126.6 L92.1,126.2 L91.7,125.8 L91.4,125.4 L91.0,124.7 L90.6,124.2 L90.4,123.8 L90.1,123.4 L89.8,122.7 L89.6,122.2 L89.4,121.6 L89.2,121.0 L89.0,120.2 L88.9,119.8 L88.8,119.0 L88.6,118.2 L88.6,117.8 L88.5,117.0 L88.5,116.2 L88.6,115.4 L88.6,114.8 L88.6,114.2 L88.7,113.4 L88.8,112.6 L89.0,111.8 L89.1,111.4 L89.3,110.6 L89.5,110.2 L89.8,109.6 L90.1,109.0 L90.4,108.6 L90.9,108.2 L91.4,107.8 L91.8,107.6 L92.2,107.4 L93.0,107.1 L93.4,106.9 L94.2,106.7 L95.0,106.6 L95.4,106.6 L96.2,106.5 L97.0,106.5 L97.8,106.6 L98.2,106.6 L99.0,106.7 L99.8,106.8 L100.6,106.9 L101.4,107.0 L101.8,107.0 L102.6,107.1 L103.4,107.3 L104.2,107.4 L104.6,107.4 L105.4,107.6 L106.2,107.7 L106.8,107.8 L107.4,107.9 L108.2,108.1 L108.9,108.2 L109.4,108.3 L110.2,108.5 L110.6,108.6 L111.4,108.9 L111.8,109.0 L112.6,109.3 L113.0,109.4 L113.8,109.7 L114.2,109.9 L115.0,110.2 L115.4,110.3 L116.0,110.6 L116.6,110.9 L117.0,111.2 L117.4,111.5 L117.8,112.0 L118.2,112.6 L118.3,113.0 L118.6,113.8 L118.7,114.2 L118.9,115.0 L119.0,115.7 L119.0,116.2 L119.1,117.0 L119.2,117.8 L119.2,118.6 L119.2,119.4 L119.2,120.2 L119.1,121.0 L119.1,121.8 L119.0,122.2 L118.9,123.0 L118.8,123.8 L118.7,124.6 L118.6,125.0 L118.4,125.8 L118.3,126.6 L118.2,127.0 L118.0,127.8 L117.8,128.3 L117.4,129.0 L117.2,129.4 L116.9,129.8 L116.6,130.2 L116.1,130.6 L115.7,131.0 L115.1,131.4 L114.6,131.7 L114.2,132.0 L113.8,132.2 L113.0,132.5 L112.6,132.6"/>
<path d="M91.0,153.0 L90.2,153.0 L89.8,153.0 L89.0,152.9 L88.2,152.8 L87.5,152.6 L87.0,152.4 L86.4,152.2 L85.8,151.9 L85.4,151.7 L85.0,151.4 L84.5,151.0 L84.2,150.6 L83.8,150.1 L83.5,149.4 L83.4,149.0 L83.4,148.2 L83.4,147.8 L83.7,147.0 L84.0,146.6 L84.3,146.2 L84.7,145.8 L85.3,145.4 L85.8,145.1 L86.2,144.9 L86.9,144.6 L87.4,144.4 L88.2,144.2 L88.6,144.1 L89.4,144.0 L90.2,144.0 L91.0,144.0 L91.8,144.1 L92.6,144.2 L93.0,144.3 L93.8,144.5 L94.2,144.7 L95.0,145.0 L95.4,145.2 L95.8,145.5 L96.2,145.8 L96.6,146.2 L97.0,146.6 L97.4,147.4 L97.6,147.8 L97.7,148.6 L97.5,149.4 L97.4,149.8 L97.0,150.4 L96.6,150.9 L96.2,151.3 L95.8,151.6 L95.4,151.8 L94.6,152.2 L94.2,152.4 L93.5,152.6 L93.0,152.7 L92.2,152.9 L91.4,153.0 L91.0,153.0"/>
<path d="M61.4,185.8 L60.6,185.9 L59.8,185.9 L59.0,185.9 L58.2,185.9 L57.4,185.9 L56.6,185.8 L56.2,185.8 L55.4,185.7 L54.6,185.6 L53.8,185.4 L53.4,185.3 L52.6,185.1 L51.8,185.0 L51.4,184.9 L50.6,184.7 L50.2,184.5 L49.4,184.3 L49.0,184.1 L48.4,183.8 L47.8,183.4 L47.4,183.1 L47.0,182.8 L46.6,182.4 L46.2,181.9 L45.9,181.4 L45.6,181.0 L45.4,180.5 L45.1,179.8 L45.0,179.4 L44.7,178.6 L44.6,177.8 L44.5,177.4 L44.5,176.6 L44.4,175.8 L44.4,175.0 L44.4,174.2 L44.4,173.4 L44.4,172.6 L44.5,171.8 L44.6,171.0 L44.6,170.6 L44.8,169.8 L44.9,169.0 L45.1,168.6 L45.3,167.8 L45.4,167.4 L45.7,166.6 L45.9,166.2 L46.2,165.7 L46.6,165.1 L46.9,164.6 L47.3,164.2 L47.6,163.8 L48.1,163.4 L48.6,163.0 L49.0,162.8 L49.4,162.6 L50.2,162.3 L50.6,162.2 L51.4,162.0 L52.2,161.9 L53.0,161.9 L53.8,161.8 L54.6,161.9 L55.4,161.9 L56.2,161.9 L57.0,162.0 L57.8,162.1 L58.2,162.2 L59.0,162.3 L59.8,162.6 L60.2,162.7 L61.0,163.0 L61.4,163.1 L61.8,163.4 L62.6,163.8 L63.0,164.0 L63.4,164.3 L63.8,164.6 L64.4,165.0 L64.9,165.4 L65.3,165.8 L65.7,166.2 L66.0,166.6 L66.4,167.0 L66.7,167.4 L67.0,167.8 L67.4,168.3 L67.8,168.9 L68.1,169.4 L68.4,169.8 L68.6,170.2 L69.0,170.9 L69.3,171.4 L69.5,171.8 L69.8,172.6 L70.0,173.0 L70.2,173.8 L70.2,174.2 L70.3,175.0 L70.4,175.8 L70.4,176.6 L70.4,177.4 L70.4,178.2 L70.2,179.0 L70.2,179.4 L70.0,180.2 L69.8,180.7 L69.6,181.4 L69.4,181.9 L69.1,182.6 L68.9,183.0 L68.6,183.4 L68.2,183.9 L67.8,184.2 L67.2,184.6 L66.6,184.8 L66.1,185.0 L65.4,185.2 L64.6,185.3 L64.2,185.4 L63.4,185.6 L62.6,185.7 L61.8,185.8 L61.4,185.8"/>
<path d="M104.2,186.2 L103.4,186.4 L102.6,186.4 L101.8,186.3 L101.3,186.2 L100.6,186.0 L100.2,185.7 L99.5,185.4 L99.0,185.2 L98.6,184.8 L98.2,184.5 L97.7,184.2 L97.3,183.8 L96.9,183.4 L96.4,183.0 L96.1,182.6 L95.7,182.2 L95.3,181.8 L95.0,181.4 L94.6,181.0 L94.2,180.6 L93.8,180.1 L93.4,179.7 L93.0,179.2 L92.6,178.7 L92.2,178.2 L91.9,177.8 L91.7,177.4 L91.4,176.9 L91.0,176.3 L90.7,175.8 L90.5,175.4 L90.2,174.9 L89.8,174.2 L89.6,173.8 L89.4,173.3 L89.1,172.6 L89.0,172.0 L88.9,171.4 L88.8,170.6 L89.0,169.8 L89.1,169.4 L89.4,168.6 L89.6,168.2 L89.8,167.8 L90.2,167.3 L90.6,166.8 L91.0,166.5 L91.4,166.2 L92.1,165.8 L92.6,165.5 L93.0,165.3 L93.8,165.1 L94.4,165.0 L95.0,164.9 L95.8,164.8 L96.6,164.8 L97.4,164.7 L98.2,164.7 L99.0,164.6 L99.8,164.6 L100.6,164.6 L101.4,164.6 L102.2,164.7 L103.0,164.7 L103.8,164.8 L104.6,164.9 L105.4,165.0 L105.8,165.0 L106.6,165.1 L107.4,165.3 L107.8,165.4 L108.6,165.6 L109.3,165.8 L109.8,165.9 L110.3,166.2 L111.0,166.5 L111.4,166.8 L111.8,167.0 L112.3,167.4 L112.8,167.8 L113.2,168.2 L113.6,168.6 L113.8,169.0 L114.2,169.5 L114.6,170.2 L114.7,170.6 L115.0,171.4 L115.1,171.8 L115.2,172.6 L115.3,173.4 L115.3,174.2 L115.1,175.0 L115.0,175.4 L114.8,176.2 L114.6,176.6 L114.3,177.4 L114.1,177.8 L113.8,178.3 L113.4,179.0 L113.1,179.4 L112.9,179.8 L112.6,180.2 L112.2,180.6 L111.8,181.1 L111.4,181.6 L111.0,182.0 L110.6,182.4 L110.2,182.7 L109.8,183.1 L109.4,183.4 L108.9,183.8 L108.3,184.2 L107.8,184.6 L107.4,184.9 L107.0,185.1 L106.4,185.4 L105.8,185.7 L105.4,185.9 L104.6,186.1 L104.2,186.2"/>
<path d="M60.2,147.4 L59.4,147.5 L58.6,147.5 L57.8,147.6 L57.0,147.6 L56.2,147.6 L55.4,147.5 L54.6,147.5 L54.2,147.4 L53.4,147.3 L52.6,147.2 L51.8,147.1 L51.4,147.0 L50.6,146.8 L49.8,146.7 L49.4,146.6 L48.6,146.3 L48.0,146.2 L47.4,146.0 L46.7,145.8 L46.2,145.6 L45.5,145.4 L45.0,145.2 L44.5,145.0 L43.8,144.7 L43.4,144.5 L42.7,144.2 L42.2,143.9 L41.8,143.7 L41.2,143.4 L40.6,143.0 L40.2,142.7 L39.8,142.4 L39.4,142.1 L39.0,141.8 L38.6,141.4 L38.2,141.0 L37.8,140.5 L37.4,140.0 L37.0,139.6 L36.7,139.0 L36.4,138.6 L36.1,138.2 L35.8,137.5 L35.5,137.0 L35.4,136.6 L35.1,135.8 L34.8,135.4 L34.6,134.6 L34.5,134.2 L34.3,133.4 L34.3,132.6 L34.1,132.2 L34.0,131.4 L33.9,130.6 L33.9,129.8 L33.8,129.0 L33.8,128.6 L33.8,127.8 L33.8,127.0 L33.8,126.2 L33.7,125.4 L33.7,124.6 L33.7,123.8 L33.7,123.0 L33.8,122.3 L33.8,121.8 L33.9,121.0 L33.9,120.2 L33.9,119.4 L34.0,118.6 L34.0,117.8 L34.0,117.0 L34.1,116.2 L34.1,115.4 L34.2,114.6 L34.2,114.2 L34.3,113.4 L34.4,112.6 L34.5,111.8 L34.6,111.4 L34.8,110.6 L35.0,109.8 L35.1,109.4 L35.4,108.6 L35.5,108.2 L35.8,107.5 L36.0,107.0 L36.3,106.6 L36.6,106.0 L37.0,105.4 L37.3,105.0 L37.7,104.6 L38.0,104.2 L38.4,103.8 L38.8,103.4 L39.3,103.0 L39.7,102.6 L40.2,102.2 L40.6,101.9 L41.0,101.6 L41.4,101.3 L41.9,101.0 L42.5,100.6 L43.0,100.3 L43.4,100.0 L43.8,99.8 L44.5,99.4 L45.0,99.1 L45.4,98.9 L45.9,98.6 L46.6,98.2 L47.0,98.0 L47.5,97.8 L48.2,97.5 L48.6,97.3 L49.2,97.0 L49.8,96.7 L50.2,96.6 L51.0,96.3 L51.4,96.1 L52.1,95.8 L52.6,95.6 L53.4,95.4 L53.8,95.3 L54.6,95.0 L55.0,94.9 L55.8,94.7 L56.2,94.6 L57.0,94.5 L57.8,94.3 L58.6,94.2 L59.0,94.1 L59.8,94.0 L60.6,93.9 L61.4,93.8 L61.8,93.8 L62.6,93.7 L63.4,93.7 L64.2,93.5 L65.0,93.6 L65.8,93.5 L66.6,93.5 L67.4,93.5 L68.2,93.6 L69.0,93.6 L69.8,93.6 L70.6,93.8 L70.6,93.8 L71.4,93.7 L71.8,93.9 L72.6,94.0 L73.4,94.1 L73.9,94.2 L74.6,94.4 L75.2,94.6 L75.8,94.8 L76.3,95.0 L77.0,95.4 L77.4,95.6 L77.8,95.8 L78.4,96.2 L78.9,96.6 L79.3,97.0 L79.7,97.4 L80.1,97.8 L80.4,98.2 L80.7,98.6 L81.0,99.0 L81.4,99.8 L81.6,100.2 L81.8,100.8 L82.1,101.4 L82.2,101.9 L82.5,102.6 L82.6,103.1 L82.8,103.8 L82.9,104.6 L83.0,105.0 L83.0,105.8 L83.2,106.6 L83.3,107.4 L83.3,108.2 L83.4,108.8 L83.4,109.4 L83.4,110.2 L83.5,111.0 L83.5,111.8 L83.5,112.6 L83.6,113.4 L83.6,114.2 L83.6,115.0 L83.6,115.8 L83.6,116.6 L83.6,117.4 L83.5,118.2 L83.5,119.0 L83.4,119.8 L83.4,120.2 L83.3,121.0 L83.2,121.8 L83.1,122.6 L83.0,123.4 L83.0,123.8 L82.9,124.6 L82.8,125.4 L82.7,126.2 L82.6,126.6 L82.4,127.4 L82.2,128.2 L82.1,128.6 L82.0,129.4 L81.8,130.0 L81.6,130.6 L81.4,131.1 L81.1,131.8 L81.0,132.2 L80.6,133.0 L80.4,133.4 L80.2,133.8 L79.8,134.6 L79.6,135.0 L79.4,135.4 L79.0,136.1 L78.7,136.6 L78.4,137.0 L78.2,137.4 L77.8,137.9 L77.4,138.5 L77.0,139.0 L76.7,139.4 L76.3,139.8 L76.0,140.2 L75.6,140.6 L75.1,141.0 L74.7,141.4 L74.2,141.8 L73.8,142.1 L73.4,142.4 L73.0,142.7 L72.6,143.0 L72.1,143.4 L71.5,143.8 L71.0,144.1 L70.6,144.3 L70.2,144.6 L69.4,145.0 L69.0,145.2 L68.6,145.4 L67.8,145.8 L67.4,145.9 L66.6,146.2 L66.2,146.3 L65.4,146.5 L65.0,146.7 L64.2,146.8 L63.4,147.0 L63.0,147.0 L62.2,147.1 L61.4,147.3 L60.6,147.3 L60.2,147.4"/>
<path d="M112.6,131.8 L111.8,132.0 L111.0,132.1 L110.2,132.0 L109.4,132.0 L108.6,131.9 L108.2,131.8 L107.4,131.6 L106.9,131.4 L106.2,131.1 L105.8,131.0 L105.0,130.6 L104.6,130.5 L104.1,130.2 L103.4,129.8 L103.0,129.6 L102.6,129.3 L102.1,129.0 L101.5,128.6 L101.0,128.2 L100.6,127.9 L100.2,127.6 L99.8,127.3 L99.4,127.0 L98.8,126.6 L98.2,126.3 L97.8,126.2 L97.0,125.9 L96.6,125.8 L95.8,125.5 L95.4,125.3 L94.7,125.0 L94.2,124.7 L93.8,124.5 L93.4,124.2 L93.0,123.8 L92.6,123.4 L92.2,122.9 L91.8,122.4 L91.4,121.8 L91.2,121.4 L91.0,120.9 L90.7,120.2 L90.6,119.7 L90.4,119.0 L90.3,118.2 L90.2,117.8 L90.2,117.0 L90.2,116.2 L90.2,115.8 L90.3,115.0 L90.4,114.2 L90.6,113.6 L90.8,113.0 L91.0,112.4 L91.3,111.8 L91.5,111.4 L91.8,111.0 L92.2,110.5 L92.6,110.2 L93.3,109.8 L93.8,109.6 L94.3,109.4 L95.0,109.2 L95.8,109.1 L96.6,109.0 L97.0,109.0 L97.7,109.0 L98.2,109.0 L99.0,109.1 L99.8,109.2 L100.6,109.4 L101.1,109.4 L101.8,109.5 L102.6,109.5 L103.4,109.6 L104.2,109.5 L105.0,109.5 L105.8,109.6 L106.6,109.7 L107.4,109.7 L107.8,109.8 L108.6,110.0 L109.4,110.1 L109.8,110.3 L110.6,110.5 L111.0,110.6 L111.8,111.0 L112.2,111.1 L112.8,111.4 L113.4,111.7 L113.8,111.9 L114.5,112.2 L115.0,112.5 L115.4,112.8 L115.8,113.1 L116.2,113.5 L116.6,114.1 L116.8,114.6 L117.0,115.0 L117.3,115.8 L117.4,116.3 L117.5,117.0 L117.7,117.8 L117.8,118.6 L117.8,119.0 L117.9,119.8 L117.9,120.6 L117.9,121.4 L117.9,122.2 L117.9,123.0 L117.8,123.8 L117.8,124.2 L117.7,125.0 L117.5,125.8 L117.4,126.5 L117.3,127.0 L117.0,127.8 L116.8,128.2 L116.6,128.7 L116.2,129.2 L115.8,129.7 L115.4,130.1 L115.0,130.5 L114.6,130.8 L114.2,131.1 L113.6,131.4 L113.0,131.7 L112.6,131.8"/>
<path d="M91.8,151.4 L91.0,151.4 L90.2,151.4 L89.4,151.4 L89.0,151.3 L88.2,151.0 L87.8,150.9 L87.2,150.6 L86.6,150.2 L86.2,149.8 L86.0,149.4 L85.8,149.0 L85.8,148.2 L85.9,147.8 L86.2,147.3 L86.6,146.8 L87.0,146.5 L87.4,146.2 L88.2,145.9 L88.6,145.8 L89.4,145.7 L90.2,145.6 L91.0,145.6 L91.8,145.7 L92.4,145.8 L93.0,146.1 L93.5,146.2 L94.1,146.6 L94.6,147.0 L94.9,147.4 L95.1,147.8 L95.2,148.6 L95.0,149.4 L94.7,149.8 L94.4,150.2 L93.9,150.6 L93.4,150.8 L93.0,151.0 L92.2,151.2 L91.8,151.4"/>
<path d="M59.8,185.4 L59.0,185.5 L58.2,185.5 L57.4,185.4 L57.0,185.4 L56.2,185.3 L55.4,185.1 L55.0,185.0 L54.2,184.7 L53.8,184.6 L53.0,184.3 L52.6,184.2 L51.8,183.8 L51.4,183.7 L50.8,183.4 L50.2,183.0 L49.8,182.8 L49.4,182.5 L49.0,182.2 L48.6,181.8 L48.2,181.4 L47.8,180.9 L47.4,180.2 L47.2,179.8 L47.0,179.2 L46.8,178.6 L46.6,177.9 L46.5,177.4 L46.4,176.6 L46.3,175.8 L46.3,175.0 L46.3,174.2 L46.3,173.4 L46.3,172.6 L46.4,171.8 L46.5,171.0 L46.6,170.3 L46.7,169.8 L46.9,169.0 L47.0,168.6 L47.3,167.8 L47.4,167.4 L47.8,166.6 L48.0,166.2 L48.3,165.8 L48.6,165.3 L49.0,164.8 L49.4,164.4 L49.8,164.1 L50.2,163.8 L51.0,163.4 L51.4,163.2 L52.0,163.0 L52.6,162.8 L53.4,162.6 L53.8,162.6 L54.6,162.4 L55.4,162.3 L56.2,162.3 L57.0,162.3 L57.8,162.3 L58.6,162.4 L59.4,162.4 L59.8,162.7 L60.6,162.8 L61.0,163.2 L61.6,163.4 L62.2,163.7 L62.6,164.0 L63.0,164.3 L63.4,164.6 L63.9,165.0 L64.3,165.4 L64.7,165.8 L65.0,166.2 L65.4,166.7 L65.8,167.2 L66.2,167.8 L66.5,168.2 L66.7,168.6 L67.0,169.1 L67.4,169.8 L67.6,170.2 L67.8,170.6 L68.2,171.4 L68.3,171.8 L68.6,172.5 L68.8,173.0 L68.9,173.8 L69.0,174.3 L69.0,175.0 L69.1,175.8 L69.1,176.6 L69.0,177.4 L69.0,177.8 L68.8,178.6 L68.6,179.4 L68.5,179.8 L68.3,180.6 L68.2,181.0 L67.8,181.8 L67.6,182.2 L67.3,182.6 L66.9,183.0 L66.4,183.4 L65.8,183.8 L65.4,183.9 L64.8,184.2 L64.2,184.4 L63.7,184.6 L63.0,184.8 L62.3,185.0 L61.8,185.1 L61.0,185.3 L60.2,185.4 L59.8,185.4"/>
<path d="M103.4,182.3 L102.6,182.5 L101.8,182.5 L101.0,182.5 L100.2,182.3 L99.8,182.1 L99.1,181.8 L98.6,181.5 L98.2,181.3 L97.8,180.9 L97.3,180.6 L96.9,180.2 L96.4,179.8 L95.9,179.4 L95.5,179.0 L95.1,178.6 L94.6,178.2 L94.2,177.8 L93.8,177.5 L93.4,177.1 L93.0,176.7 L92.6,176.3 L92.2,175.8 L91.8,175.4 L91.5,175.0 L91.1,174.6 L90.8,174.2 L90.4,173.8 L90.2,173.4 L89.8,172.8 L89.5,172.2 L89.4,171.8 L89.2,171.0 L89.3,170.2 L89.4,169.8 L89.8,169.0 L90.0,168.6 L90.3,168.2 L90.6,167.8 L91.1,167.4 L91.6,167.0 L92.2,166.6 L92.6,166.5 L93.1,166.2 L93.8,166.0 L94.4,165.8 L95.0,165.7 L95.8,165.6 L96.6,165.5 L97.4,165.5 L98.2,165.4 L98.8,165.4 L99.4,165.4 L100.2,165.4 L100.6,165.4 L101.4,165.5 L102.2,165.5 L103.0,165.6 L103.8,165.7 L104.6,165.8 L105.0,165.8 L105.8,166.0 L106.6,166.2 L107.0,166.3 L107.8,166.6 L108.2,166.7 L108.9,167.0 L109.4,167.4 L109.8,167.5 L110.2,167.9 L110.7,168.2 L111.1,168.6 L111.4,169.0 L111.8,169.5 L112.2,170.2 L112.3,170.6 L112.5,171.4 L112.6,172.2 L112.6,172.3 L112.6,173.0 L112.4,173.8 L112.2,174.4 L111.9,175.0 L111.7,175.4 L111.4,175.9 L111.0,176.5 L110.6,177.0 L110.3,177.4 L110.0,177.8 L109.6,178.2 L109.2,178.6 L108.8,179.0 L108.4,179.4 L107.9,179.8 L107.4,180.2 L107.0,180.4 L106.6,180.7 L106.1,181.0 L105.5,181.4 L105.0,181.7 L104.6,181.9 L103.8,182.2 L103.4,182.3"/>
<path d="M57.4,146.2 L56.6,146.2 L55.8,146.2 L55.3,146.2 L54.6,146.1 L53.8,146.1 L53.0,145.9 L52.3,145.8 L51.8,145.7 L51.0,145.6 L50.2,145.4 L49.8,145.3 L49.0,145.2 L48.4,145.0 L47.8,144.8 L47.0,144.6 L46.6,144.5 L45.8,144.2 L45.4,144.0 L44.8,143.8 L44.2,143.5 L43.8,143.4 L43.0,143.0 L42.6,142.8 L42.2,142.6 L41.6,142.2 L41.0,141.8 L40.6,141.6 L40.2,141.3 L39.8,140.9 L39.4,140.6 L39.0,140.2 L38.6,139.8 L38.2,139.4 L37.8,138.8 L37.4,138.3 L37.2,137.8 L36.9,137.4 L36.6,137.0 L36.2,136.2 L36.1,135.8 L35.8,135.1 L35.5,134.6 L35.4,133.8 L35.2,133.4 L35.0,132.6 L35.0,132.2 L34.9,131.4 L34.7,130.6 L34.7,129.8 L34.6,129.4 L34.5,128.6 L34.5,127.8 L34.5,127.0 L34.5,126.2 L34.5,125.4 L34.4,124.6 L34.4,123.8 L34.5,123.0 L34.5,122.2 L34.5,121.4 L34.5,120.6 L34.6,119.8 L34.6,119.1 L34.6,118.6 L34.6,117.8 L34.7,117.0 L34.7,116.2 L34.7,115.4 L34.8,114.6 L34.9,113.8 L35.0,113.0 L35.0,112.6 L35.2,111.8 L35.3,111.0 L35.4,110.6 L35.6,109.8 L35.8,109.3 L36.0,108.6 L36.2,108.1 L36.6,107.4 L36.8,107.0 L37.0,106.6 L37.4,106.0 L37.8,105.4 L38.1,105.0 L38.5,104.6 L38.9,104.2 L39.3,103.8 L39.7,103.4 L40.2,103.0 L40.6,102.7 L41.0,102.4 L41.4,102.1 L41.8,101.8 L42.4,101.4 L43.0,101.0 L43.4,100.8 L43.8,100.5 L44.4,100.2 L45.0,99.8 L45.4,99.6 L45.8,99.4 L46.5,99.0 L47.0,98.8 L47.4,98.6 L48.1,98.2 L48.6,98.0 L49.0,97.8 L49.8,97.4 L50.2,97.3 L50.9,97.0 L51.4,96.8 L52.0,96.6 L52.6,96.4 L53.1,96.2 L53.8,96.0 L54.5,95.8 L55.0,95.7 L55.8,95.5 L56.2,95.4 L57.0,95.2 L57.8,95.0 L58.2,95.0 L59.0,94.9 L59.8,94.8 L60.6,94.7 L61.2,94.6 L61.8,94.5 L62.6,94.6 L63.4,94.5 L64.2,94.4 L65.0,94.4 L65.8,94.3 L66.6,94.5 L67.4,94.4 L68.2,94.5 L69.0,94.5 L69.4,94.6 L69.8,94.6 L70.3,94.6 L71.0,94.8 L71.8,94.8 L72.6,95.0 L73.0,95.2 L73.8,95.3 L74.3,95.4 L75.0,95.8 L75.4,95.9 L76.0,96.2 L76.6,96.5 L77.0,96.8 L77.4,97.0 L77.9,97.4 L78.3,97.8 L78.7,98.2 L79.1,98.6 L79.4,99.0 L79.8,99.6 L80.1,100.2 L80.3,100.6 L80.6,101.3 L80.8,101.8 L81.0,102.2 L81.2,103.0 L81.4,103.7 L81.5,104.2 L81.7,105.0 L81.8,105.8 L81.8,106.3 L82.0,107.0 L82.0,107.8 L82.1,108.6 L82.2,109.4 L82.2,109.6 L82.2,110.2 L82.2,110.8 L82.2,111.4 L82.2,112.2 L82.3,113.0 L82.3,113.8 L82.3,114.6 L82.3,115.4 L82.2,116.2 L82.3,117.0 L82.2,117.8 L82.2,118.4 L82.1,119.0 L82.1,119.8 L82.0,120.6 L81.9,121.4 L81.8,122.2 L81.8,122.6 L81.7,123.4 L81.6,124.2 L81.5,125.0 L81.4,125.4 L81.3,126.2 L81.1,127.0 L81.0,127.6 L80.8,128.2 L80.6,129.0 L80.5,129.4 L80.2,130.2 L80.1,130.6 L79.8,131.3 L79.6,131.8 L79.4,132.3 L79.0,133.0 L78.8,133.4 L78.6,133.9 L78.2,134.6 L78.0,135.0 L77.7,135.4 L77.4,135.9 L77.0,136.6 L76.7,137.0 L76.4,137.4 L76.1,137.8 L75.8,138.2 L75.4,138.7 L75.0,139.1 L74.6,139.5 L74.2,139.9 L73.8,140.3 L73.4,140.6 L72.9,141.0 L72.4,141.4 L71.8,141.8 L71.4,142.1 L71.0,142.4 L70.6,142.6 L70.0,143.0 L69.4,143.4 L69.0,143.6 L68.6,143.8 L67.8,144.2 L67.4,144.4 L66.8,144.6 L66.2,144.8 L65.6,145.0 L65.0,145.2 L64.2,145.4 L63.8,145.5 L63.0,145.7 L62.2,145.8 L61.8,145.8 L61.0,145.9 L60.2,146.0 L59.4,146.1 L58.6,146.2 L57.8,146.2 L57.4,146.2"/>
<path d="M111.8,131.0 L111.0,131.1 L110.2,131.1 L109.6,131.0 L109.0,130.9 L108.2,130.6 L107.8,130.5 L107.2,130.2 L106.6,129.9 L106.2,129.6 L105.8,129.4 L105.2,129.0 L104.7,128.6 L104.2,128.2 L103.8,127.8 L103.4,127.4 L103.0,127.0 L102.6,126.6 L102.3,126.2 L102.0,125.8 L101.8,125.4 L101.4,124.9 L101.0,124.4 L100.6,124.0 L100.2,123.7 L99.4,123.5 L98.6,123.4 L97.9,123.4 L97.4,123.4 L96.6,123.2 L95.8,123.0 L95.4,122.9 L94.9,122.6 L94.3,122.2 L93.8,121.8 L93.4,121.4 L93.0,121.0 L92.7,120.6 L92.5,120.2 L92.2,119.6 L92.0,119.0 L91.8,118.3 L91.7,117.8 L91.7,117.0 L91.7,116.2 L91.8,115.7 L92.0,115.0 L92.2,114.4 L92.5,113.8 L92.7,113.4 L93.0,113.0 L93.4,112.5 L93.8,112.2 L94.4,111.8 L95.0,111.5 L95.4,111.4 L96.2,111.2 L97.0,111.1 L97.8,111.1 L98.6,111.2 L99.4,111.4 L99.8,111.5 L100.6,111.7 L101.0,111.8 L101.8,112.0 L102.6,112.1 L103.4,111.9 L103.9,111.8 L104.6,111.6 L105.4,111.4 L105.8,111.4 L106.6,111.3 L107.4,111.3 L108.1,111.4 L108.6,111.5 L109.4,111.7 L109.8,111.8 L110.6,112.1 L111.0,112.3 L111.6,112.6 L112.2,112.9 L112.6,113.2 L113.0,113.4 L113.5,113.8 L114.0,114.2 L114.5,114.6 L114.8,115.0 L115.1,115.4 L115.4,115.9 L115.7,116.6 L115.8,117.0 L116.1,117.8 L116.2,118.2 L116.4,119.0 L116.6,119.8 L116.6,120.2 L116.7,121.0 L116.8,121.8 L116.8,122.6 L116.8,123.4 L116.8,124.2 L116.7,125.0 L116.6,125.5 L116.4,126.2 L116.2,127.0 L116.1,127.4 L115.8,128.0 L115.4,128.6 L115.1,129.0 L114.7,129.4 L114.3,129.8 L113.8,130.2 L113.4,130.4 L113.0,130.6 L112.2,130.9 L111.8,131.0"/>
<path d="M59.0,185.0 L58.2,185.0 L57.6,185.0 L57.0,184.9 L56.2,184.7 L55.8,184.6 L55.0,184.3 L54.6,184.1 L54.0,183.8 L53.4,183.4 L53.0,183.2 L52.6,183.0 L52.0,182.6 L51.5,182.2 L51.0,181.8 L50.6,181.4 L50.2,181.0 L49.9,180.6 L49.6,180.2 L49.3,179.8 L49.0,179.1 L48.8,178.6 L48.6,177.9 L48.5,177.4 L48.3,176.6 L48.2,175.8 L48.2,175.0 L48.2,174.6 L48.2,173.8 L48.2,173.0 L48.2,172.4 L48.3,171.8 L48.4,171.0 L48.5,170.2 L48.6,169.8 L48.8,169.0 L49.0,168.4 L49.2,167.8 L49.4,167.4 L49.8,166.6 L50.1,166.2 L50.4,165.8 L50.7,165.4 L51.1,165.0 L51.6,164.6 L52.2,164.2 L52.6,164.0 L53.0,163.7 L53.7,163.4 L54.2,163.2 L54.7,163.0 L55.4,162.8 L56.0,162.6 L56.6,162.5 L57.4,162.5 L58.2,162.5 L59.0,162.5 L59.4,162.6 L60.2,162.9 L60.6,163.0 L61.4,163.4 L61.8,163.7 L62.2,164.0 L62.6,164.3 L63.0,164.6 L63.4,165.0 L63.8,165.4 L64.2,165.8 L64.6,166.4 L65.0,167.0 L65.3,167.4 L65.5,167.8 L65.8,168.4 L66.1,169.0 L66.3,169.4 L66.6,170.1 L66.8,170.6 L67.0,171.2 L67.2,171.8 L67.4,172.4 L67.6,173.0 L67.7,173.8 L67.7,174.6 L67.8,175.4 L67.7,176.2 L67.7,177.0 L67.5,177.8 L67.4,178.4 L67.2,179.0 L67.0,179.7 L66.8,180.2 L66.6,180.8 L66.3,181.4 L66.0,181.8 L65.6,182.2 L65.1,182.6 L64.6,182.9 L64.2,183.2 L63.8,183.4 L63.1,183.8 L62.6,184.1 L62.2,184.2 L61.4,184.5 L61.0,184.7 L60.2,184.9 L59.4,185.0 L59.0,185.0"/>
<path d="M101.8,179.0 L101.0,179.1 L100.2,179.1 L99.8,179.0 L99.0,178.8 L98.6,178.6 L98.0,178.2 L97.4,177.8 L97.0,177.6 L96.6,177.3 L96.1,177.0 L95.5,176.6 L95.0,176.3 L94.6,176.1 L94.2,175.8 L93.6,175.4 L93.0,175.0 L92.6,174.7 L92.2,174.4 L91.8,174.1 L91.4,173.8 L91.0,173.4 L90.6,172.9 L90.2,172.4 L89.9,171.8 L89.8,171.4 L89.7,170.6 L89.8,170.2 L90.2,169.4 L90.5,169.0 L90.8,168.6 L91.3,168.2 L91.8,167.8 L92.2,167.5 L92.6,167.3 L93.3,167.0 L93.8,166.8 L94.4,166.6 L95.0,166.5 L95.8,166.4 L96.6,166.3 L97.4,166.2 L97.8,166.2 L98.6,166.2 L99.4,166.1 L100.2,166.2 L100.7,166.2 L101.4,166.3 L102.2,166.4 L103.0,166.5 L103.8,166.6 L104.2,166.7 L105.0,166.8 L105.5,167.0 L106.2,167.2 L106.8,167.4 L107.4,167.7 L107.8,168.0 L108.2,168.2 L108.6,168.6 L109.0,169.0 L109.5,169.4 L109.8,170.0 L110.0,170.6 L110.2,171.4 L110.1,172.2 L109.9,173.0 L109.7,173.4 L109.4,173.8 L109.0,174.5 L108.6,174.9 L108.2,175.3 L107.8,175.7 L107.4,176.0 L107.0,176.4 L106.6,176.7 L106.1,177.0 L105.5,177.4 L105.0,177.7 L104.6,177.9 L104.0,178.2 L103.4,178.5 L103.0,178.7 L102.2,178.9 L101.8,179.0"/>
<path d="M60.6,144.6 L59.8,144.7 L59.0,144.8 L58.2,144.9 L57.4,144.9 L56.6,144.9 L55.8,144.9 L55.0,144.8 L54.2,144.7 L53.4,144.7 L52.9,144.6 L52.2,144.5 L51.4,144.3 L50.6,144.2 L50.2,144.1 L49.4,143.9 L48.9,143.8 L48.2,143.6 L47.4,143.4 L47.0,143.3 L46.2,143.0 L45.8,142.9 L45.1,142.6 L44.6,142.4 L44.2,142.2 L43.4,141.8 L43.0,141.6 L42.6,141.4 L41.9,141.0 L41.4,140.7 L41.0,140.4 L40.6,140.1 L40.2,139.8 L39.8,139.4 L39.4,139.0 L39.0,138.6 L38.6,138.1 L38.2,137.6 L37.8,137.0 L37.6,136.6 L37.4,136.2 L37.0,135.5 L36.7,135.0 L36.6,134.6 L36.3,133.8 L36.2,133.4 L35.9,132.6 L35.8,131.8 L35.6,131.4 L35.6,130.6 L35.4,129.9 L35.4,129.4 L35.3,128.6 L35.3,127.8 L35.3,127.0 L35.2,126.2 L35.2,125.4 L35.1,124.6 L35.1,123.8 L35.1,123.0 L35.1,122.2 L35.2,121.4 L35.2,120.6 L35.2,119.8 L35.2,119.0 L35.3,118.2 L35.3,117.4 L35.3,116.6 L35.3,115.8 L35.4,115.0 L35.4,114.6 L35.5,113.8 L35.6,113.0 L35.7,112.2 L35.8,111.7 L36.0,111.0 L36.2,110.2 L36.3,109.8 L36.6,109.0 L36.7,108.6 L37.0,107.9 L37.3,107.4 L37.5,107.0 L37.8,106.5 L38.2,105.9 L38.6,105.4 L39.0,105.0 L39.3,104.6 L39.8,104.2 L40.2,103.8 L40.6,103.5 L41.0,103.1 L41.4,102.8 L41.8,102.5 L42.3,102.2 L42.9,101.8 L43.4,101.5 L43.8,101.2 L44.2,101.0 L44.8,100.6 L45.4,100.3 L45.8,100.1 L46.3,99.8 L47.0,99.4 L47.4,99.2 L47.9,99.0 L48.6,98.6 L49.0,98.5 L49.7,98.2 L50.2,98.0 L50.6,97.8 L51.4,97.5 L51.8,97.4 L52.6,97.0 L53.0,96.9 L53.8,96.7 L54.2,96.6 L55.0,96.4 L55.8,96.2 L56.2,96.2 L57.0,96.0 L57.8,95.9 L58.2,95.8 L59.0,95.7 L59.8,95.6 L60.6,95.4 L61.0,95.4 L61.4,95.5 L62.2,95.4 L62.6,95.4 L63.4,95.3 L64.2,95.3 L65.0,95.3 L65.8,95.3 L66.6,95.4 L67.4,95.3 L68.0,95.4 L68.6,95.5 L69.4,95.6 L70.2,95.6 L70.9,95.8 L71.4,95.9 L72.2,96.0 L72.6,96.2 L73.4,96.3 L74.0,96.6 L74.6,96.9 L75.0,97.0 L75.6,97.4 L76.2,97.7 L76.6,98.0 L77.0,98.4 L77.4,98.8 L77.8,99.2 L78.2,99.7 L78.5,100.2 L78.8,100.6 L79.0,101.0 L79.4,101.8 L79.5,102.2 L79.8,102.9 L79.9,103.4 L80.1,104.2 L80.2,104.7 L80.4,105.4 L80.5,106.2 L80.6,106.6 L80.7,107.4 L80.8,108.2 L80.8,109.0 L80.8,109.8 L80.9,110.6 L80.9,111.4 L81.0,112.2 L80.9,113.0 L81.0,113.8 L81.0,114.6 L80.9,115.4 L81.0,116.2 L80.9,117.0 L80.9,117.8 L80.8,118.6 L80.8,119.4 L80.7,120.2 L80.6,121.0 L80.6,121.4 L80.5,122.2 L80.4,123.0 L80.3,123.8 L80.2,124.2 L80.1,125.0 L79.9,125.8 L79.8,126.5 L79.7,127.0 L79.5,127.8 L79.4,128.2 L79.2,129.0 L79.0,129.5 L78.7,130.2 L78.6,130.6 L78.2,131.4 L78.0,131.8 L77.8,132.3 L77.4,133.0 L77.2,133.4 L77.0,133.8 L76.6,134.5 L76.3,135.0 L76.0,135.4 L75.8,135.8 L75.4,136.3 L75.0,136.9 L74.6,137.4 L74.2,137.8 L73.8,138.2 L73.5,138.6 L73.0,139.0 L72.6,139.4 L72.2,139.7 L71.8,140.0 L71.4,140.3 L71.0,140.6 L70.5,141.0 L69.9,141.4 L69.4,141.7 L69.0,141.9 L68.5,142.2 L67.8,142.6 L67.4,142.8 L67.0,143.0 L66.2,143.3 L65.8,143.4 L65.0,143.7 L64.6,143.8 L63.8,144.0 L63.1,144.2 L62.6,144.3 L61.8,144.4 L61.0,144.5 L60.6,144.6"/>
<path d="M111.4,129.8 L110.6,129.8 L109.9,129.8 L109.4,129.7 L108.6,129.4 L108.2,129.3 L107.7,129.0 L107.1,128.6 L106.6,128.3 L106.2,127.9 L105.8,127.5 L105.4,127.1 L105.0,126.6 L104.6,126.2 L104.3,125.8 L104.1,125.4 L103.8,124.9 L103.5,124.2 L103.3,123.8 L103.0,123.1 L102.8,122.6 L102.6,121.8 L102.5,121.4 L102.3,120.6 L102.2,120.2 L101.8,119.6 L101.3,119.8 L100.8,120.2 L100.2,120.6 L99.8,120.9 L99.4,121.0 L98.6,121.3 L98.2,121.4 L97.4,121.5 L96.7,121.4 L96.2,121.3 L95.5,121.0 L95.0,120.7 L94.6,120.4 L94.2,120.0 L93.8,119.5 L93.5,119.0 L93.3,118.6 L93.1,117.8 L93.1,117.0 L93.2,116.2 L93.4,115.4 L93.6,115.0 L93.9,114.6 L94.2,114.2 L94.6,113.8 L95.1,113.4 L95.8,113.1 L96.2,112.9 L97.0,112.8 L97.8,112.8 L98.6,112.9 L99.0,113.0 L99.7,113.4 L100.2,113.7 L100.6,114.0 L101.0,114.4 L101.4,114.9 L101.8,115.4 L102.1,115.8 L102.6,115.9 L103.0,115.6 L103.4,115.2 L103.8,114.7 L104.2,114.3 L104.6,114.0 L105.0,113.8 L105.7,113.4 L106.2,113.2 L107.0,113.0 L107.4,113.0 L108.2,113.0 L108.6,113.1 L109.4,113.2 L109.8,113.4 L110.6,113.8 L111.0,114.0 L111.4,114.3 L111.9,114.6 L112.4,115.0 L112.8,115.4 L113.2,115.8 L113.6,116.2 L113.8,116.6 L114.2,117.2 L114.5,117.8 L114.7,118.2 L115.0,119.0 L115.1,119.4 L115.3,120.2 L115.4,120.6 L115.6,121.4 L115.6,122.2 L115.7,123.0 L115.7,123.8 L115.6,124.6 L115.5,125.4 L115.4,125.8 L115.1,126.6 L114.9,127.0 L114.6,127.6 L114.2,128.1 L113.8,128.6 L113.4,128.9 L113.0,129.2 L112.6,129.4 L111.8,129.7 L111.4,129.8"/>
<path d="M59.4,184.2 L58.6,184.3 L57.8,184.3 L57.3,184.2 L56.6,184.0 L56.0,183.8 L55.4,183.5 L55.0,183.2 L54.6,183.0 L54.1,182.6 L53.6,182.2 L53.2,181.8 L52.7,181.4 L52.3,181.0 L52.0,180.6 L51.7,180.2 L51.4,179.8 L51.0,179.0 L50.8,178.6 L50.6,178.1 L50.4,177.4 L50.2,176.7 L50.1,176.2 L50.0,175.4 L50.0,174.6 L50.0,173.8 L50.0,173.0 L50.0,172.2 L50.1,171.4 L50.2,170.8 L50.3,170.2 L50.5,169.4 L50.6,169.0 L51.0,168.2 L51.1,167.8 L51.4,167.2 L51.8,166.6 L52.1,166.2 L52.4,165.8 L52.8,165.4 L53.3,165.0 L53.8,164.6 L54.2,164.3 L54.6,164.0 L55.0,163.8 L55.8,163.4 L56.2,163.2 L56.9,163.0 L57.4,162.9 L58.2,162.9 L59.0,162.9 L59.5,163.0 L60.2,163.2 L60.7,163.4 L61.4,163.8 L61.8,164.1 L62.2,164.4 L62.6,164.8 L63.0,165.3 L63.4,165.7 L63.7,166.2 L64.0,166.6 L64.3,167.0 L64.6,167.7 L64.9,168.2 L65.0,168.6 L65.4,169.4 L65.5,169.8 L65.8,170.6 L65.9,171.0 L66.1,171.8 L66.2,172.3 L66.3,173.0 L66.4,173.8 L66.4,174.6 L66.4,175.4 L66.3,176.2 L66.2,177.0 L66.1,177.4 L65.9,178.2 L65.8,178.6 L65.6,179.4 L65.3,179.8 L65.0,180.5 L64.6,181.0 L64.3,181.4 L63.9,181.8 L63.4,182.2 L63.0,182.5 L62.6,182.8 L62.2,183.1 L61.7,183.4 L61.0,183.8 L60.6,183.9 L59.8,184.2 L59.4,184.2"/>
<path d="M101.4,176.2 L100.6,176.4 L99.8,176.4 L99.0,176.3 L98.6,176.2 L97.8,175.9 L97.4,175.7 L96.6,175.4 L96.2,175.3 L95.5,175.0 L95.0,174.8 L94.6,174.6 L93.8,174.3 L93.4,174.1 L92.9,173.8 L92.3,173.4 L91.8,173.1 L91.4,172.7 L91.0,172.3 L90.7,171.8 L90.5,171.4 L90.5,170.6 L90.6,170.0 L91.0,169.4 L91.4,169.0 L91.8,168.7 L92.2,168.4 L92.6,168.1 L93.3,167.8 L93.8,167.6 L94.4,167.4 L95.0,167.2 L95.8,167.1 L96.5,167.0 L97.0,167.0 L97.8,166.9 L98.6,166.9 L99.4,166.9 L100.2,166.9 L101.0,167.0 L101.4,167.1 L102.2,167.2 L103.0,167.3 L103.4,167.4 L104.2,167.6 L104.7,167.8 L105.4,168.0 L105.8,168.2 L106.3,168.6 L106.9,169.0 L107.3,169.4 L107.6,169.8 L107.8,170.2 L108.0,171.0 L108.0,171.8 L107.8,172.2 L107.4,172.9 L107.0,173.3 L106.6,173.7 L106.2,174.0 L105.8,174.3 L105.4,174.6 L104.6,175.0 L104.2,175.2 L103.8,175.4 L103.0,175.7 L102.6,175.9 L101.8,176.1 L101.4,176.2"/>
<path d="M57.4,143.5 L56.6,143.5 L55.8,143.5 L55.0,143.4 L54.6,143.4 L53.8,143.3 L53.0,143.2 L52.2,143.1 L51.7,143.0 L51.0,142.9 L50.2,142.7 L49.7,142.6 L49.0,142.5 L48.2,142.2 L47.8,142.1 L47.0,141.9 L46.6,141.7 L45.8,141.5 L45.4,141.3 L44.7,141.0 L44.2,140.8 L43.8,140.6 L43.1,140.2 L42.6,139.9 L42.2,139.7 L41.7,139.4 L41.3,139.0 L40.8,138.6 L40.3,138.2 L39.9,137.8 L39.6,137.4 L39.2,137.0 L39.0,136.6 L38.6,136.1 L38.2,135.5 L37.9,135.0 L37.7,134.6 L37.4,134.0 L37.2,133.4 L37.0,133.0 L36.8,132.2 L36.6,131.7 L36.5,131.0 L36.3,130.2 L36.2,129.4 L36.2,129.0 L36.1,128.2 L36.1,127.4 L36.0,126.6 L35.9,125.8 L35.9,125.0 L35.8,124.2 L35.8,123.7 L35.8,123.3 L35.8,122.6 L35.8,122.1 L35.8,121.7 L35.8,121.0 L35.8,120.2 L35.9,119.4 L35.9,118.6 L35.9,117.8 L35.9,117.0 L35.9,116.2 L36.0,115.4 L36.0,114.6 L36.1,113.8 L36.2,113.0 L36.2,112.6 L36.4,111.8 L36.6,111.0 L36.7,110.6 L36.9,109.8 L37.1,109.4 L37.4,108.6 L37.5,108.2 L37.8,107.7 L38.2,107.0 L38.5,106.6 L38.8,106.2 L39.1,105.8 L39.4,105.4 L39.8,105.0 L40.2,104.6 L40.6,104.2 L41.1,103.8 L41.6,103.4 L42.1,103.0 L42.6,102.7 L43.0,102.4 L43.4,102.1 L43.9,101.8 L44.6,101.4 L45.0,101.2 L45.4,100.9 L46.0,100.6 L46.6,100.3 L47.0,100.1 L47.6,99.8 L48.2,99.5 L48.6,99.3 L49.2,99.0 L49.8,98.8 L50.3,98.6 L51.0,98.3 L51.4,98.2 L52.2,97.9 L52.7,97.8 L53.4,97.5 L53.9,97.4 L54.6,97.2 L55.4,97.1 L55.9,97.0 L56.6,96.8 L57.4,96.7 L57.8,96.6 L58.6,96.5 L59.4,96.4 L60.2,96.4 L61.0,96.3 L61.8,96.3 L62.6,96.2 L63.3,96.2 L63.8,96.2 L64.2,96.3 L65.0,96.3 L65.8,96.3 L66.6,96.4 L67.4,96.4 L68.2,96.5 L68.6,96.6 L69.4,96.7 L70.2,96.8 L70.9,97.0 L71.4,97.0 L72.1,97.4 L72.6,97.5 L73.4,97.8 L73.8,98.0 L74.2,98.3 L74.8,98.6 L75.3,99.0 L75.8,99.4 L76.2,99.8 L76.6,100.2 L76.9,100.6 L77.2,101.0 L77.4,101.4 L77.8,102.1 L78.0,102.6 L78.2,103.2 L78.4,103.8 L78.6,104.2 L78.7,105.0 L78.9,105.8 L79.0,106.2 L79.1,107.0 L79.2,107.8 L79.3,108.6 L79.3,109.4 L79.4,110.0 L79.4,110.6 L79.4,111.4 L79.4,112.2 L79.5,113.0 L79.5,113.8 L79.5,114.6 L79.5,115.4 L79.5,116.2 L79.4,117.0 L79.4,117.7 L79.4,118.2 L79.3,119.0 L79.3,119.8 L79.2,120.6 L79.1,121.4 L79.0,122.0 L78.9,122.6 L78.8,123.4 L78.7,124.2 L78.6,124.8 L78.5,125.4 L78.3,126.2 L78.2,126.7 L78.0,127.4 L77.8,128.2 L77.7,128.6 L77.4,129.3 L77.2,129.8 L77.0,130.3 L76.7,131.0 L76.5,131.4 L76.2,132.0 L75.9,132.6 L75.7,133.0 L75.4,133.5 L75.0,134.1 L74.7,134.6 L74.4,135.0 L74.1,135.4 L73.8,135.9 L73.4,136.3 L73.0,136.8 L72.6,137.2 L72.2,137.6 L71.8,138.0 L71.4,138.3 L71.0,138.6 L70.6,139.0 L70.0,139.4 L69.4,139.8 L69.0,140.1 L68.6,140.3 L68.2,140.6 L67.5,141.0 L67.0,141.3 L66.6,141.5 L65.8,141.8 L65.4,142.0 L64.7,142.2 L64.2,142.4 L63.4,142.6 L63.0,142.7 L62.2,142.8 L61.4,143.0 L61.0,143.0 L60.2,143.2 L59.4,143.3 L58.6,143.3 L57.8,143.4 L57.4,143.5"/>
<path d="M98.6,119.8 L97.8,119.9 L97.0,119.9 L96.2,119.8 L95.8,119.5 L95.4,119.2 L95.0,118.7 L94.6,118.2 L94.6,117.8 L94.5,117.0 L94.6,116.2 L94.9,115.8 L95.0,115.4 L95.4,115.0 L95.8,114.6 L96.6,114.2 L97.0,114.2 L97.8,114.2 L98.2,114.2 L99.0,114.6 L99.4,115.0 L99.8,115.4 L100.0,115.8 L100.2,116.2 L100.3,117.0 L100.2,117.8 L100.2,118.2 L99.8,118.8 L99.4,119.2 L99.0,119.5 L98.6,119.8"/>
<path d="M111.0,128.3 L110.2,128.3 L109.6,128.2 L109.0,128.0 L108.5,127.8 L107.8,127.4 L107.4,127.1 L107.0,126.7 L106.6,126.3 L106.2,125.9 L105.9,125.4 L105.6,125.0 L105.4,124.6 L105.0,123.9 L104.8,123.4 L104.6,122.8 L104.4,122.2 L104.2,121.4 L104.2,121.0 L104.1,120.2 L104.1,119.4 L104.2,118.8 L104.3,118.2 L104.5,117.4 L104.7,117.0 L105.0,116.5 L105.4,116.0 L105.8,115.6 L106.2,115.3 L106.7,115.0 L107.4,114.8 L108.2,114.7 L109.0,114.8 L109.7,115.0 L110.2,115.2 L110.6,115.5 L111.1,115.8 L111.5,116.2 L111.9,116.6 L112.3,117.0 L112.6,117.4 L113.0,118.0 L113.3,118.6 L113.5,119.0 L113.8,119.7 L114.0,120.2 L114.2,121.0 L114.3,121.4 L114.4,122.2 L114.4,123.0 L114.4,123.8 L114.3,124.6 L114.2,125.0 L113.9,125.8 L113.7,126.2 L113.4,126.8 L113.0,127.2 L112.6,127.6 L112.2,127.9 L111.4,128.2 L111.0,128.3"/>
<path d="M59.4,183.0 L58.6,183.1 L57.8,183.1 L57.3,183.0 L56.6,182.7 L56.2,182.5 L55.7,182.2 L55.1,181.8 L54.6,181.4 L54.3,181.0 L54.0,180.6 L53.6,180.2 L53.4,179.8 L53.0,179.2 L52.7,178.6 L52.5,178.2 L52.2,177.4 L52.1,177.0 L51.9,176.2 L51.8,175.6 L51.7,175.0 L51.7,174.2 L51.7,173.4 L51.7,172.6 L51.8,171.8 L51.8,171.4 L52.0,170.6 L52.2,169.8 L52.3,169.4 L52.6,168.6 L52.7,168.2 L53.0,167.7 L53.4,167.0 L53.7,166.6 L54.0,166.2 L54.4,165.8 L54.8,165.4 L55.3,165.0 L55.8,164.7 L56.2,164.4 L56.6,164.2 L57.4,163.9 L58.2,163.8 L59.0,163.8 L59.8,164.0 L60.2,164.2 L61.0,164.6 L61.4,164.9 L61.8,165.3 L62.2,165.6 L62.6,166.1 L62.9,166.6 L63.2,167.0 L63.4,167.4 L63.8,168.2 L64.0,168.6 L64.2,169.1 L64.4,169.8 L64.6,170.5 L64.7,171.0 L64.9,171.8 L65.0,172.6 L65.0,173.0 L65.1,173.8 L65.1,174.6 L65.0,175.4 L65.0,175.8 L64.8,176.6 L64.6,177.4 L64.5,177.8 L64.2,178.6 L64.0,179.0 L63.8,179.5 L63.4,180.1 L63.0,180.6 L62.7,181.0 L62.3,181.4 L61.8,181.8 L61.4,182.1 L61.0,182.4 L60.6,182.6 L59.8,182.9 L59.4,183.0"/>
<path d="M101.8,174.3 L101.0,174.4 L100.2,174.6 L99.4,174.6 L98.6,174.5 L97.8,174.4 L97.0,174.3 L96.6,174.2 L95.8,174.0 L95.1,173.8 L94.6,173.7 L94.0,173.4 L93.4,173.2 L93.0,172.9 L92.5,172.6 L92.1,172.2 L91.7,171.8 L91.4,171.0 L91.6,170.2 L91.8,169.8 L92.2,169.3 L92.7,169.0 L93.3,168.6 L93.8,168.4 L94.2,168.2 L95.0,168.0 L95.8,167.8 L96.2,167.7 L97.0,167.6 L97.8,167.6 L98.6,167.6 L99.4,167.6 L100.2,167.6 L101.0,167.7 L101.5,167.8 L102.2,167.9 L103.0,168.2 L103.4,168.3 L104.1,168.6 L104.6,168.8 L105.0,169.1 L105.4,169.4 L105.8,169.8 L106.2,170.6 L106.2,171.0 L106.2,171.4 L105.8,172.1 L105.4,172.6 L105.0,172.9 L104.6,173.2 L104.2,173.4 L103.4,173.8 L103.0,173.9 L102.2,174.1 L101.8,174.3"/>
<path d="M57.8,141.8 L57.0,141.9 L56.2,141.9 L55.4,141.9 L54.6,141.9 L53.8,141.8 L53.4,141.8 L52.6,141.7 L51.8,141.5 L51.1,141.4 L50.6,141.3 L49.8,141.1 L49.2,141.0 L48.6,140.9 L47.8,140.6 L47.4,140.5 L46.6,140.2 L46.2,140.1 L45.5,139.8 L45.0,139.6 L44.5,139.4 L43.8,139.0 L43.4,138.8 L43.0,138.6 L42.4,138.2 L41.8,137.8 L41.4,137.4 L41.0,137.1 L40.6,136.7 L40.2,136.2 L39.8,135.8 L39.6,135.4 L39.3,135.0 L39.0,134.5 L38.6,133.8 L38.4,133.4 L38.2,133.0 L37.8,132.2 L37.7,131.8 L37.5,131.0 L37.3,130.6 L37.2,129.8 L37.1,129.0 L37.0,128.5 L36.9,127.8 L36.8,127.0 L36.8,126.2 L36.7,125.4 L36.6,124.8 L36.5,124.2 L36.5,123.4 L36.5,122.6 L36.5,121.8 L36.5,121.0 L36.5,120.2 L36.5,119.4 L36.5,118.6 L36.5,117.8 L36.5,117.0 L36.5,116.2 L36.6,115.4 L36.6,114.7 L36.6,114.2 L36.7,113.4 L36.9,112.6 L37.0,111.9 L37.1,111.4 L37.3,110.6 L37.4,110.2 L37.7,109.4 L37.8,109.0 L38.2,108.2 L38.4,107.8 L38.7,107.4 L39.0,106.9 L39.4,106.4 L39.8,105.9 L40.2,105.4 L40.6,105.0 L41.0,104.7 L41.4,104.3 L41.8,104.0 L42.2,103.7 L42.6,103.4 L43.1,103.0 L43.7,102.6 L44.2,102.3 L44.6,102.1 L45.0,101.8 L45.7,101.4 L46.2,101.1 L46.6,100.9 L47.3,100.6 L47.8,100.3 L48.2,100.1 L48.9,99.8 L49.4,99.6 L49.8,99.4 L50.6,99.1 L51.0,99.0 L51.8,98.7 L52.2,98.6 L53.0,98.3 L53.5,98.2 L54.2,98.1 L55.0,97.9 L55.4,97.7 L56.2,97.6 L57.0,97.5 L57.8,97.4 L58.2,97.4 L59.0,97.3 L59.8,97.3 L60.6,97.3 L61.4,97.2 L62.2,97.2 L63.0,97.2 L63.8,97.3 L64.6,97.3 L65.0,97.4 L65.8,97.4 L66.6,97.4 L67.4,97.6 L68.2,97.8 L68.6,97.8 L69.4,98.0 L70.1,98.2 L70.6,98.3 L71.4,98.6 L71.8,98.7 L72.3,99.0 L73.0,99.3 L73.4,99.6 L73.8,99.9 L74.2,100.2 L74.6,100.6 L75.0,101.0 L75.4,101.6 L75.8,102.2 L76.0,102.6 L76.2,103.0 L76.6,103.8 L76.7,104.2 L77.0,105.0 L77.1,105.4 L77.2,106.2 L77.4,107.0 L77.5,107.4 L77.6,108.2 L77.6,109.0 L77.7,109.8 L77.8,110.6 L77.8,111.4 L77.8,112.2 L77.8,113.0 L77.8,113.5 L77.9,114.2 L77.8,115.0 L77.8,115.8 L77.8,116.3 L77.8,117.0 L77.7,117.8 L77.7,118.6 L77.6,119.4 L77.5,120.2 L77.4,121.0 L77.4,121.4 L77.3,122.2 L77.2,123.0 L77.0,123.8 L77.0,124.2 L76.8,125.0 L76.7,125.8 L76.6,126.2 L76.4,127.0 L76.2,127.4 L76.0,128.2 L75.8,128.6 L75.5,129.4 L75.3,129.8 L75.0,130.4 L74.7,131.0 L74.5,131.4 L74.2,132.0 L73.9,132.6 L73.6,133.0 L73.3,133.4 L73.0,133.9 L72.6,134.5 L72.2,135.0 L71.8,135.4 L71.5,135.8 L71.1,136.2 L70.6,136.6 L70.2,137.0 L69.8,137.3 L69.4,137.6 L69.0,137.9 L68.6,138.2 L68.1,138.6 L67.4,139.0 L67.0,139.3 L66.6,139.5 L66.0,139.8 L65.4,140.1 L65.0,140.3 L64.2,140.6 L63.8,140.7 L63.0,141.0 L62.6,141.1 L61.8,141.3 L61.0,141.4 L60.6,141.5 L59.8,141.6 L59.0,141.7 L58.2,141.8 L57.8,141.8"/>
<path d="M111.4,126.2 L110.6,126.3 L109.8,126.3 L109.0,126.2 L108.6,125.9 L108.2,125.8 L107.8,125.4 L107.4,125.0 L107.0,124.6 L106.6,124.0 L106.2,123.4 L106.2,123.0 L105.8,122.2 L105.8,121.8 L105.7,121.0 L105.7,120.2 L105.7,119.4 L105.8,118.6 L106.1,118.2 L106.2,117.8 L106.6,117.4 L107.0,117.0 L107.7,116.6 L108.2,116.6 L109.0,116.6 L109.4,116.7 L110.1,117.0 L110.6,117.4 L111.0,117.8 L111.4,118.2 L111.8,118.6 L111.9,119.0 L112.2,119.4 L112.6,120.2 L112.6,120.6 L112.9,121.4 L113.0,121.8 L113.0,122.6 L113.0,123.4 L112.9,123.8 L112.6,124.6 L112.5,125.0 L112.2,125.4 L111.8,125.8 L111.4,126.2"/>
<path d="M59.0,181.4 L58.2,181.5 L57.7,181.4 L57.0,181.2 L56.6,180.9 L56.1,180.6 L55.6,180.2 L55.3,179.8 L55.0,179.4 L54.6,178.9 L54.2,178.2 L54.1,177.8 L53.8,177.1 L53.6,176.6 L53.4,175.8 L53.4,175.4 L53.3,174.6 L53.2,173.8 L53.2,173.0 L53.3,172.2 L53.4,171.4 L53.5,171.0 L53.7,170.2 L53.8,169.8 L54.1,169.0 L54.3,168.6 L54.6,168.0 L55.0,167.5 L55.3,167.0 L55.7,166.6 L56.2,166.2 L56.6,165.9 L57.0,165.7 L57.8,165.4 L58.2,165.4 L59.0,165.4 L59.4,165.5 L60.2,165.8 L60.6,166.0 L61.0,166.4 L61.4,166.8 L61.8,167.2 L62.2,167.8 L62.4,168.2 L62.7,168.6 L63.0,169.4 L63.1,169.8 L63.3,170.6 L63.5,171.0 L63.6,171.8 L63.7,172.6 L63.7,173.4 L63.7,174.2 L63.6,175.0 L63.5,175.8 L63.4,176.2 L63.2,177.0 L63.0,177.5 L62.7,178.2 L62.5,178.6 L62.2,179.1 L61.8,179.6 L61.4,180.1 L61.0,180.4 L60.6,180.8 L60.2,181.0 L59.4,181.4 L59.0,181.4"/>
<path d="M101.0,173.4 L100.2,173.4 L99.4,173.4 L98.6,173.5 L97.8,173.4 L97.0,173.4 L96.6,173.4 L95.8,173.1 L95.0,173.0 L94.6,172.7 L94.2,172.6 L93.6,172.2 L93.2,171.8 L93.0,171.4 L92.9,170.6 L93.0,170.2 L93.4,169.7 L93.8,169.4 L94.5,169.0 L95.0,168.9 L95.5,168.6 L96.2,168.6 L97.0,168.5 L97.8,168.3 L98.6,168.2 L98.6,168.2 L99.4,168.3 L100.2,168.5 L101.0,168.6 L101.7,168.6 L102.2,168.9 L102.8,169.0 L103.4,169.4 L103.8,169.7 L104.2,170.1 L104.6,170.6 L104.6,171.0 L104.6,171.4 L104.2,171.8 L103.8,172.2 L103.4,172.6 L102.6,172.8 L102.2,173.0 L101.4,173.2 L101.0,173.4"/>
<path d="M57.4,140.2 L56.6,140.2 L55.8,140.3 L55.0,140.3 L54.2,140.2 L53.5,140.2 L53.0,140.1 L52.2,140.0 L51.4,139.9 L50.8,139.8 L50.2,139.6 L49.4,139.5 L49.0,139.4 L48.2,139.2 L47.6,139.0 L47.0,138.8 L46.4,138.6 L45.8,138.3 L45.4,138.2 L44.6,137.8 L44.2,137.6 L43.8,137.4 L43.2,137.0 L42.6,136.6 L42.2,136.3 L41.8,135.9 L41.4,135.5 L41.0,135.1 L40.6,134.7 L40.3,134.2 L40.0,133.8 L39.7,133.4 L39.4,132.8 L39.0,132.2 L38.9,131.8 L38.6,131.1 L38.4,130.6 L38.2,129.9 L38.1,129.4 L37.8,128.6 L37.8,128.2 L37.7,127.4 L37.6,126.6 L37.6,125.8 L37.4,125.1 L37.4,124.6 L37.3,123.8 L37.2,123.0 L37.2,122.2 L37.2,121.4 L37.1,120.6 L37.2,119.8 L37.2,119.0 L37.2,118.2 L37.2,117.4 L37.2,116.6 L37.2,115.8 L37.3,115.0 L37.3,114.2 L37.4,113.4 L37.4,112.9 L37.6,112.2 L37.8,111.4 L37.8,111.0 L38.1,110.2 L38.2,109.8 L38.6,109.0 L38.8,108.6 L39.0,108.1 L39.4,107.4 L39.7,107.0 L40.1,106.6 L40.4,106.2 L40.7,105.8 L41.1,105.4 L41.6,105.0 L42.0,104.6 L42.5,104.2 L43.0,103.8 L43.4,103.6 L43.8,103.3 L44.2,103.0 L44.8,102.6 L45.4,102.3 L45.8,102.1 L46.2,101.8 L46.9,101.4 L47.4,101.2 L47.8,101.0 L48.6,100.6 L49.0,100.5 L49.5,100.2 L50.2,100.0 L50.6,99.8 L51.4,99.5 L51.8,99.4 L52.6,99.2 L53.0,99.0 L53.8,98.9 L54.6,98.8 L55.0,98.6 L55.8,98.5 L56.6,98.5 L57.4,98.4 L58.2,98.2 L58.6,98.2 L59.4,98.2 L60.2,98.2 L61.0,98.2 L61.8,98.2 L62.2,98.2 L63.0,98.3 L63.8,98.4 L64.6,98.5 L65.4,98.6 L66.2,98.6 L66.6,98.8 L67.4,98.9 L67.8,99.0 L68.6,99.3 L69.3,99.4 L69.8,99.6 L70.3,99.8 L71.0,100.2 L71.4,100.5 L71.8,100.6 L72.3,101.0 L72.7,101.4 L73.1,101.8 L73.5,102.2 L73.8,102.6 L74.2,103.2 L74.5,103.8 L74.7,104.2 L75.0,104.9 L75.1,105.4 L75.4,106.2 L75.4,106.6 L75.5,107.4 L75.7,108.2 L75.8,108.6 L75.9,109.4 L75.9,110.2 L76.0,111.0 L76.0,111.8 L76.0,112.6 L76.0,113.4 L76.0,114.2 L76.0,115.0 L76.0,115.8 L76.0,116.6 L75.9,117.4 L75.9,118.2 L75.8,119.0 L75.8,119.5 L75.7,120.2 L75.6,121.0 L75.5,121.8 L75.4,122.5 L75.3,123.0 L75.1,123.8 L75.0,124.6 L74.9,125.0 L74.7,125.8 L74.6,126.3 L74.3,127.0 L74.2,127.5 L73.9,128.2 L73.7,128.6 L73.4,129.4 L73.2,129.8 L73.0,130.2 L72.6,130.9 L72.3,131.4 L72.0,131.8 L71.8,132.2 L71.4,132.8 L71.0,133.4 L70.6,133.8 L70.3,134.2 L69.9,134.6 L69.5,135.0 L69.1,135.4 L68.6,135.8 L68.2,136.1 L67.8,136.4 L67.4,136.7 L67.0,137.0 L66.4,137.4 L65.8,137.8 L65.4,138.0 L65.0,138.2 L64.2,138.6 L63.8,138.8 L63.2,139.0 L62.6,139.2 L62.0,139.4 L61.4,139.5 L60.6,139.7 L60.2,139.8 L59.4,139.9 L58.6,140.0 L57.8,140.1 L57.4,140.2"/>
<path d="M59.8,179.0 L59.0,179.2 L58.2,179.3 L57.4,179.0 L57.0,178.8 L56.6,178.6 L56.2,178.2 L55.8,177.5 L55.5,177.0 L55.4,176.6 L55.0,175.8 L55.0,175.4 L54.9,174.6 L54.8,173.8 L54.9,173.0 L54.9,172.2 L55.0,171.4 L55.1,171.0 L55.4,170.2 L55.6,169.8 L55.8,169.3 L56.2,168.8 L56.6,168.4 L57.0,168.0 L57.4,167.8 L58.2,167.5 L59.0,167.5 L59.8,167.8 L60.2,168.1 L60.6,168.5 L61.0,169.0 L61.3,169.4 L61.5,169.8 L61.8,170.5 L61.9,171.0 L62.1,171.8 L62.2,172.2 L62.2,173.0 L62.2,173.8 L62.2,174.6 L62.1,175.0 L61.9,175.8 L61.8,176.2 L61.4,177.0 L61.2,177.4 L61.0,177.8 L60.6,178.3 L60.2,178.6 L59.8,179.0"/>
<path d="M57.4,137.5 L56.6,137.6 L55.8,137.6 L55.0,137.6 L54.2,137.6 L53.4,137.6 L52.6,137.5 L51.9,137.4 L51.4,137.3 L50.6,137.2 L49.8,137.0 L49.4,136.9 L48.6,136.7 L48.2,136.6 L47.4,136.3 L47.0,136.1 L46.2,135.8 L45.8,135.6 L45.4,135.4 L44.7,135.0 L44.2,134.7 L43.8,134.4 L43.4,134.1 L43.0,133.7 L42.6,133.3 L42.2,133.0 L41.8,132.4 L41.4,131.8 L41.0,131.4 L40.8,131.0 L40.6,130.6 L40.2,129.8 L40.1,129.4 L39.8,128.6 L39.7,128.2 L39.5,127.4 L39.4,127.0 L39.2,126.2 L39.0,125.4 L38.9,125.0 L38.9,124.2 L38.7,123.4 L38.6,122.6 L38.6,122.2 L38.5,121.4 L38.5,120.6 L38.5,119.8 L38.5,119.0 L38.5,118.2 L38.5,117.4 L38.5,116.6 L38.5,115.8 L38.6,115.0 L38.6,114.6 L38.7,113.8 L38.8,113.0 L39.0,112.2 L39.1,111.8 L39.4,111.0 L39.5,110.6 L39.8,109.8 L40.0,109.4 L40.2,109.0 L40.6,108.3 L41.0,107.8 L41.3,107.4 L41.6,107.0 L42.0,106.6 L42.4,106.2 L42.8,105.8 L43.2,105.4 L43.7,105.0 L44.2,104.6 L44.6,104.4 L45.0,104.1 L45.4,103.8 L46.1,103.4 L46.6,103.1 L47.0,102.9 L47.5,102.6 L48.2,102.3 L48.6,102.1 L49.3,101.8 L49.8,101.6 L50.3,101.4 L51.0,101.2 L51.6,101.0 L52.2,100.8 L53.0,100.7 L53.4,100.5 L54.2,100.4 L55.0,100.3 L55.8,100.2 L56.2,100.2 L56.9,100.2 L57.0,100.2 L57.8,100.2 L58.5,100.2 L58.7,100.2 L59.4,100.2 L59.8,100.2 L60.6,100.3 L61.4,100.4 L62.2,100.5 L62.6,100.6 L63.4,100.8 L64.2,100.9 L64.7,101.0 L65.4,101.3 L65.9,101.4 L66.6,101.7 L67.0,101.8 L67.8,102.1 L68.2,102.4 L68.6,102.6 L69.2,103.0 L69.7,103.4 L70.1,103.8 L70.5,104.2 L70.8,104.6 L71.0,105.0 L71.4,105.6 L71.7,106.2 L71.8,106.6 L72.1,107.4 L72.2,107.8 L72.4,108.6 L72.6,109.4 L72.6,109.8 L72.7,110.6 L72.8,111.4 L72.9,112.2 L72.9,113.0 L73.0,113.8 L72.9,114.6 L73.0,115.4 L73.0,116.2 L73.0,117.0 L72.9,117.8 L72.9,118.6 L72.8,119.4 L72.7,120.2 L72.6,120.8 L72.5,121.4 L72.4,122.2 L72.2,123.0 L72.2,123.4 L72.0,124.2 L71.8,125.0 L71.7,125.4 L71.4,126.2 L71.3,126.6 L71.0,127.2 L70.7,127.8 L70.5,128.2 L70.2,128.8 L69.9,129.4 L69.6,129.8 L69.4,130.2 L69.0,130.8 L68.6,131.3 L68.2,131.8 L67.9,132.2 L67.5,132.6 L67.1,133.0 L66.7,133.4 L66.2,133.8 L65.8,134.1 L65.4,134.4 L65.0,134.7 L64.5,135.0 L63.9,135.4 L63.4,135.7 L63.0,135.9 L62.3,136.2 L61.8,136.4 L61.3,136.6 L60.6,136.8 L59.8,137.0 L59.4,137.1 L58.6,137.3 L57.8,137.4 L57.4,137.5"/>
<path d="M55.0,135.0 L54.2,135.0 L53.4,135.0 L53.0,135.0 L52.2,134.9 L51.4,134.8 L50.6,134.6 L50.2,134.5 L49.4,134.3 L49.0,134.2 L48.2,133.9 L47.8,133.8 L47.0,133.4 L46.6,133.2 L46.2,133.0 L45.5,132.6 L45.0,132.2 L44.6,131.9 L44.2,131.6 L43.8,131.2 L43.4,130.7 L43.0,130.2 L42.7,129.8 L42.4,129.4 L42.2,129.0 L41.8,128.3 L41.5,127.8 L41.4,127.4 L41.1,126.6 L41.0,126.2 L40.7,125.4 L40.6,124.7 L40.5,124.2 L40.3,123.4 L40.2,122.8 L40.1,122.2 L40.0,121.4 L39.9,120.6 L39.9,119.8 L39.8,119.0 L39.8,118.2 L39.8,117.4 L39.9,116.6 L39.9,115.8 L40.0,115.0 L40.1,114.2 L40.2,113.5 L40.3,113.0 L40.5,112.2 L40.7,111.8 L41.0,111.0 L41.1,110.6 L41.4,110.0 L41.8,109.4 L42.0,109.0 L42.3,108.6 L42.6,108.2 L43.0,107.7 L43.4,107.3 L43.8,106.9 L44.2,106.5 L44.6,106.2 L45.0,105.8 L45.6,105.4 L46.1,105.0 L46.6,104.7 L47.0,104.5 L47.5,104.2 L48.2,103.8 L48.6,103.6 L49.1,103.4 L49.8,103.1 L50.2,103.0 L51.0,102.7 L51.4,102.6 L52.2,102.4 L53.0,102.3 L53.4,102.2 L54.2,102.1 L55.0,102.0 L55.8,102.0 L56.6,102.0 L57.4,102.1 L58.2,102.2 L58.6,102.3 L59.4,102.4 L60.2,102.6 L60.6,102.7 L61.4,102.9 L62.0,103.0 L62.6,103.2 L63.1,103.4 L63.8,103.6 L64.6,103.5 L65.4,103.6 L66.2,103.6 L67.0,103.7 L67.4,104.0 L68.2,104.2 L68.6,104.5 L69.0,104.8 L69.5,105.0 L69.9,105.4 L70.3,105.8 L70.6,106.4 L71.0,107.0 L71.1,107.4 L71.4,108.1 L71.5,108.6 L71.5,109.4 L71.5,110.2 L71.5,111.0 L71.2,111.4 L71.1,112.2 L70.8,112.6 L70.6,113.0 L70.2,113.7 L69.9,114.2 L69.9,115.0 L69.9,115.8 L69.9,116.6 L69.9,117.4 L69.9,118.2 L69.8,119.0 L69.8,119.4 L69.7,120.2 L69.6,121.0 L69.5,121.8 L69.4,122.2 L69.2,123.0 L69.0,123.8 L68.9,124.2 L68.6,125.0 L68.5,125.4 L68.2,126.0 L67.9,126.6 L67.7,127.0 L67.4,127.6 L67.0,128.2 L66.8,128.6 L66.5,129.0 L66.2,129.4 L65.8,129.9 L65.4,130.3 L65.0,130.8 L64.6,131.1 L64.2,131.5 L63.8,131.8 L63.3,132.2 L62.7,132.6 L62.2,132.9 L61.8,133.2 L61.4,133.4 L60.6,133.8 L60.2,133.9 L59.4,134.2 L59.0,134.3 L58.2,134.5 L57.8,134.6 L57.0,134.8 L56.2,134.9 L55.4,135.0 L55.0,135.0"/>
<path d="M56.6,132.3 L55.8,132.4 L55.0,132.5 L54.2,132.6 L53.4,132.6 L52.6,132.5 L51.8,132.4 L51.0,132.3 L50.6,132.2 L49.8,132.0 L49.3,131.8 L48.6,131.5 L48.2,131.4 L47.5,131.0 L47.0,130.7 L46.6,130.5 L46.2,130.2 L45.7,129.8 L45.3,129.4 L44.9,129.0 L44.5,128.6 L44.2,128.2 L43.8,127.6 L43.4,127.0 L43.2,126.6 L43.0,126.2 L42.6,125.4 L42.5,125.0 L42.2,124.2 L42.1,123.8 L41.9,123.0 L41.8,122.6 L41.6,121.8 L41.5,121.0 L41.4,120.5 L41.3,119.8 L41.3,119.0 L41.2,118.2 L41.2,117.4 L41.3,116.6 L41.3,115.8 L41.4,115.2 L41.5,114.6 L41.7,113.8 L41.8,113.2 L42.0,112.6 L42.2,112.0 L42.4,111.4 L42.6,111.0 L43.0,110.3 L43.3,109.8 L43.6,109.4 L43.9,109.0 L44.2,108.6 L44.6,108.2 L45.0,107.8 L45.4,107.4 L45.9,107.0 L46.4,106.6 L46.9,106.2 L47.4,105.9 L47.8,105.7 L48.2,105.4 L49.0,105.0 L49.4,104.9 L50.0,104.6 L50.6,104.4 L51.4,104.2 L51.8,104.1 L52.6,103.9 L53.4,103.9 L54.2,103.8 L55.0,103.8 L55.8,103.9 L56.6,104.0 L57.4,104.1 L57.8,104.2 L58.6,104.4 L59.2,104.6 L59.8,104.8 L60.2,105.0 L61.0,105.3 L61.7,105.4 L62.2,105.5 L63.0,105.5 L63.8,105.4 L64.2,105.4 L65.0,105.3 L65.8,105.4 L66.2,105.4 L67.0,105.7 L67.4,105.8 L68.0,106.2 L68.5,106.6 L68.8,107.0 L69.1,107.4 L69.4,108.0 L69.6,108.6 L69.7,109.4 L69.7,110.2 L69.5,111.0 L69.4,111.4 L69.0,112.2 L68.7,112.6 L68.4,113.0 L68.1,113.4 L67.8,113.9 L67.5,114.6 L67.3,115.0 L67.1,115.8 L67.2,116.6 L67.2,117.4 L67.1,118.2 L67.1,119.0 L67.0,119.7 L66.9,120.2 L66.8,121.0 L66.6,121.8 L66.5,122.2 L66.3,123.0 L66.2,123.4 L65.9,124.2 L65.7,124.6 L65.4,125.3 L65.1,125.8 L64.9,126.2 L64.6,126.7 L64.2,127.3 L63.8,127.8 L63.5,128.2 L63.1,128.6 L62.7,129.0 L62.3,129.4 L61.8,129.8 L61.4,130.1 L61.0,130.4 L60.6,130.7 L60.0,131.0 L59.4,131.3 L59.0,131.5 L58.2,131.8 L57.8,131.9 L57.0,132.2 L56.6,132.3"/>
<path d="M54.6,130.2 L53.8,130.3 L53.0,130.3 L52.2,130.2 L51.8,130.2 L51.0,130.0 L50.3,129.8 L49.8,129.6 L49.3,129.4 L48.6,129.1 L48.2,128.9 L47.7,128.6 L47.2,128.2 L46.7,127.8 L46.3,127.4 L45.9,127.0 L45.5,126.6 L45.2,126.2 L44.9,125.8 L44.6,125.2 L44.2,124.6 L44.1,124.2 L43.8,123.6 L43.6,123.0 L43.4,122.5 L43.2,121.8 L43.0,121.0 L42.9,120.6 L42.8,119.8 L42.7,119.0 L42.7,118.2 L42.7,117.4 L42.7,116.6 L42.8,115.8 L42.9,115.0 L43.0,114.6 L43.2,113.8 L43.4,113.2 L43.6,112.6 L43.8,112.2 L44.2,111.4 L44.4,111.0 L44.7,110.6 L45.0,110.1 L45.4,109.6 L45.8,109.2 L46.2,108.7 L46.6,108.4 L47.0,108.0 L47.4,107.7 L47.9,107.4 L48.5,107.0 L49.0,106.7 L49.4,106.5 L50.2,106.2 L50.6,106.1 L51.4,105.8 L51.8,105.7 L52.6,105.6 L53.4,105.6 L54.2,105.6 L55.0,105.6 L55.8,105.7 L56.2,105.8 L57.0,106.0 L57.4,106.2 L58.2,106.5 L58.6,106.7 L59.2,107.0 L59.8,107.3 L60.2,107.6 L60.6,107.8 L61.2,108.2 L61.8,108.6 L62.2,108.8 L63.0,108.8 L63.4,108.4 L63.8,108.1 L64.2,107.8 L65.0,107.5 L65.8,107.5 L66.6,107.7 L67.0,108.0 L67.4,108.5 L67.6,109.0 L67.7,109.8 L67.5,110.6 L67.2,111.0 L66.9,111.4 L66.2,111.8 L65.8,112.0 L65.0,112.2 L64.6,112.5 L64.4,113.0 L64.4,113.8 L64.5,114.6 L64.6,115.4 L64.6,115.8 L64.7,116.6 L64.7,117.4 L64.7,118.2 L64.6,119.0 L64.6,119.4 L64.5,120.2 L64.3,121.0 L64.2,121.4 L64.0,122.2 L63.8,122.7 L63.5,123.4 L63.4,123.8 L63.0,124.5 L62.7,125.0 L62.4,125.4 L62.2,125.8 L61.8,126.3 L61.4,126.7 L61.0,127.1 L60.6,127.5 L60.2,127.9 L59.8,128.2 L59.2,128.6 L58.6,129.0 L58.2,129.2 L57.7,129.4 L57.0,129.7 L56.6,129.8 L55.8,130.0 L55.0,130.2 L54.6,130.2"/>
<path d="M53.8,128.2 L53.0,128.2 L52.6,128.2 L51.8,128.1 L51.0,127.9 L50.6,127.8 L49.8,127.4 L49.4,127.2 L49.0,127.0 L48.4,126.6 L47.8,126.2 L47.4,125.8 L47.0,125.4 L46.7,125.0 L46.4,124.6 L46.1,124.2 L45.8,123.8 L45.4,123.0 L45.2,122.6 L45.0,122.1 L44.7,121.4 L44.6,120.9 L44.4,120.2 L44.3,119.4 L44.2,118.6 L44.2,118.2 L44.2,117.4 L44.2,117.0 L44.3,116.2 L44.4,115.4 L44.6,114.6 L44.7,114.2 L45.0,113.4 L45.2,113.0 L45.4,112.5 L45.8,111.8 L46.0,111.4 L46.3,111.0 L46.7,110.6 L47.0,110.2 L47.4,109.8 L47.8,109.4 L48.4,109.0 L48.9,108.6 L49.4,108.3 L49.8,108.1 L50.6,107.8 L51.0,107.7 L51.8,107.5 L52.2,107.4 L53.0,107.3 L53.8,107.3 L54.6,107.4 L55.0,107.4 L55.8,107.6 L56.3,107.8 L57.0,108.1 L57.4,108.3 L57.9,108.6 L58.5,109.0 L59.0,109.4 L59.4,109.7 L59.8,110.1 L60.2,110.5 L60.6,111.0 L60.9,111.4 L61.1,111.8 L61.4,112.3 L61.7,113.0 L61.9,113.4 L62.1,114.2 L62.2,114.6 L62.4,115.4 L62.5,116.2 L62.6,117.0 L62.6,117.4 L62.6,118.1 L62.6,118.6 L62.5,119.4 L62.3,120.2 L62.2,120.8 L62.0,121.4 L61.8,122.0 L61.5,122.6 L61.4,123.0 L61.0,123.6 L60.6,124.2 L60.3,124.6 L60.0,125.0 L59.7,125.4 L59.3,125.8 L58.8,126.2 L58.3,126.6 L57.8,126.9 L57.4,127.2 L56.9,127.4 L56.2,127.7 L55.8,127.8 L55.0,128.0 L54.2,128.2 L53.8,128.2"/>
<path d="M54.6,126.2 L53.8,126.3 L53.0,126.3 L52.2,126.2 L51.8,126.2 L51.0,125.9 L50.6,125.8 L49.9,125.4 L49.4,125.1 L49.0,124.8 L48.6,124.5 L48.2,124.1 L47.8,123.6 L47.4,123.1 L47.1,122.6 L46.8,122.2 L46.6,121.7 L46.3,121.0 L46.2,120.6 L46.0,119.8 L45.8,119.0 L45.8,118.6 L45.7,117.8 L45.8,117.0 L45.8,116.5 L45.9,115.8 L46.1,115.0 L46.2,114.6 L46.6,113.8 L46.7,113.4 L47.0,112.9 L47.4,112.3 L47.8,111.8 L48.1,111.4 L48.6,111.0 L49.0,110.6 L49.4,110.3 L49.8,110.1 L50.3,109.8 L51.0,109.5 L51.4,109.3 L52.2,109.2 L53.0,109.1 L53.8,109.1 L54.6,109.2 L55.4,109.4 L55.8,109.5 L56.4,109.8 L57.0,110.2 L57.4,110.4 L57.8,110.7 L58.2,111.1 L58.6,111.5 L59.0,112.0 L59.4,112.6 L59.7,113.0 L59.9,113.4 L60.2,114.1 L60.4,114.6 L60.6,115.4 L60.7,115.8 L60.8,116.6 L60.9,117.4 L60.9,118.2 L60.8,119.0 L60.6,119.8 L60.5,120.2 L60.3,121.0 L60.1,121.4 L59.8,122.1 L59.5,122.6 L59.3,123.0 L59.0,123.4 L58.6,123.9 L58.2,124.3 L57.8,124.6 L57.3,125.0 L56.7,125.4 L56.2,125.7 L55.8,125.8 L55.0,126.1 L54.6,126.2"/>
<path d="M55.0,124.2 L54.2,124.3 L53.4,124.3 L52.6,124.3 L51.8,124.2 L51.4,124.1 L50.6,123.8 L50.2,123.4 L49.8,123.1 L49.4,122.7 L49.0,122.3 L48.6,121.8 L48.4,121.4 L48.2,121.0 L47.8,120.3 L47.8,119.8 L47.5,119.0 L47.4,118.6 L47.4,117.8 L47.4,117.0 L47.4,116.6 L47.7,115.8 L47.8,115.0 L48.1,114.6 L48.2,114.2 L48.6,113.7 L49.0,113.0 L49.4,112.6 L49.8,112.2 L50.2,112.0 L50.6,111.8 L51.0,111.4 L51.8,111.3 L52.2,111.0 L53.0,111.0 L53.8,111.0 L54.3,111.0 L55.0,111.3 L55.5,111.4 L56.2,111.8 L56.6,112.2 L57.0,112.5 L57.4,112.9 L57.8,113.3 L58.2,113.8 L58.3,114.2 L58.6,114.6 L58.8,115.4 L59.0,115.8 L59.0,116.6 L59.1,117.4 L59.1,118.2 L59.0,119.0 L59.0,119.8 L58.7,120.2 L58.6,120.7 L58.2,121.4 L57.9,121.8 L57.8,122.2 L57.4,122.6 L57.0,123.0 L56.6,123.4 L55.8,123.8 L55.4,123.9 L55.0,124.2"/>
<path d="M35.2,140 C34.4,132 34.0,124 34.2,117 C34.6,110 36.5,104 40.5,99.5 C44.5,95.5 50,93 57,91.6 C64,90.8 71,91 77,92.3 L82,94.5" stroke-width="2.4" stroke-opacity="0.9" stroke-linecap="round"/>
<path d="M34.6,132 C34.1,126 34.0,121 34.2,116 C34.6,110 36.5,104 40.5,99.5 C44.5,95.5 50,93.2 57,91.8 C63,91 68,91 72,91.3" stroke-width="4.2" stroke-opacity="0.75" stroke-linecap="round"/>
</g>
<g clip-path="url(#cp2)" fill="none" stroke="#000" stroke-width="1.0" stroke-linejoin="round">
<path d="M199.7,120.2 L199.7,119.4 L199.8,118.6 L199.8,117.8 L199.8,117.0 L199.8,116.2 L199.9,115.4 L199.9,114.6 L199.9,113.8 L199.9,113.0 L199.9,112.2 L200.0,111.4 L200.0,110.6 L200.0,109.8 L200.0,109.0 L200.0,108.2 L200.4,107.8 L200.9,107.7 L201.3,107.3 L201.7,106.9 L202.3,106.6 L202.9,106.4 L203.3,106.0 L203.7,105.5 L204.1,105.4 L204.5,105.0 L204.9,104.4 L205.3,103.9 L205.7,103.4 L205.9,103.0 L206.2,102.6 L206.5,102.2 L206.9,101.7 L207.3,101.1 L207.7,100.6 L208.0,100.2 L208.3,99.8 L208.6,99.4 L209.0,99.0 L209.4,98.6 L209.8,98.2 L210.3,97.8 L210.8,97.4 L211.2,97.0 L211.6,96.6 L212.1,96.2 L212.5,95.9 L212.9,95.6 L213.3,95.3 L213.7,95.0 L214.1,94.6 L214.7,94.2 L215.3,93.8 L215.7,93.6 L216.1,93.4 L216.8,93.0 L217.3,92.8 L217.7,92.6 L218.4,92.2 L218.9,92.0 L219.3,91.8 L220.1,91.4 L220.5,91.3 L221.1,91.0 L221.7,90.8 L222.1,90.6 L222.9,90.2 L223.3,90.2 L224.1,90.1 L224.9,90.0 L225.4,89.8 L226.1,89.7 L226.9,89.6 L227.7,89.5 L228.4,89.4 L228.9,89.3 L229.7,89.3 L230.5,89.2 L231.3,89.3 L232.1,89.3 L232.9,89.4 L233.3,89.5 L234.1,89.5 L234.9,89.6 L235.5,89.8 L236.1,89.9 L236.9,90.0 L237.7,90.2 L238.1,90.3 L238.9,90.5 L239.5,90.6 L240.1,90.8 L240.6,91.0 L241.3,91.3 L241.7,91.5 L242.4,91.8 L242.9,92.0 L243.3,92.2 L244.1,92.6 L244.5,92.8 L244.9,93.0 L245.6,93.4 L246.1,93.7 L246.5,93.9 L247.0,94.2 L247.7,94.6 L248.1,94.9 L248.5,95.1 L249.0,95.4 L249.5,95.8 L250.1,96.2 L250.5,96.5 L250.9,96.9 L251.3,97.2 L251.7,97.5 L252.1,97.8 L252.5,98.2 L252.9,98.6 L253.3,99.0 L254.0,99.4 L254.4,99.8 L254.8,100.2 L255.2,100.6 L255.7,100.8 L256.1,101.2 L256.5,101.6 L256.9,102.0 L257.3,102.4 L257.7,102.8 L258.1,103.2 L258.5,103.6 L258.9,103.9 L259.3,103.8 L260.1,103.4 L260.5,103.2 L260.9,103.0 L261.6,102.6 L262.1,102.5 L262.5,102.2 L263.3,101.8 L263.7,101.8 L264.5,101.5 L264.9,101.4 L265.7,101.3 L266.5,101.3 L267.3,101.0 L267.7,101.0 L268.5,101.0 L269.3,100.9 L270.1,100.8 L270.9,100.6 L271.3,100.6 L272.1,100.6 L272.9,100.6 L273.7,100.6 L274.5,100.6 L275.3,100.6 L276.1,100.6 L276.5,100.7 L276.9,100.6 L277.3,100.8 L278.1,100.8 L278.9,100.9 L279.7,101.0 L280.5,101.0 L280.9,101.1 L281.7,101.4 L282.1,101.5 L282.9,101.8 L283.3,102.1 L283.7,102.2 L284.2,102.6 L284.6,103.0 L285.0,103.4 L285.4,103.8 L285.7,104.2 L286.1,104.9 L286.2,105.4 L286.5,105.8 L286.7,106.6 L286.9,107.0 L287.0,107.8 L287.2,108.6 L287.3,109.0 L287.3,109.8 L287.3,110.6 L287.4,111.4 L287.4,112.2 L287.4,113.0 L287.4,113.8 L287.4,114.6 L287.3,115.4 L287.3,116.2 L287.3,116.7 L287.0,117.4 L286.9,118.2 L286.9,118.7 L286.6,119.4 L286.5,120.2 L286.2,120.6 L286.1,121.1 L285.7,121.8 L285.4,122.2 L285.0,122.6 L284.6,123.0 L284.1,123.4 L283.7,123.6 L283.3,123.8 L282.6,124.2 L282.1,124.3 L281.5,124.6 L280.9,124.7 L280.1,124.8 L279.7,125.0 L279.2,125.0 L278.5,125.0 L278.1,125.0 L277.7,124.8 L276.9,124.9 L276.1,124.7 L275.3,124.7 L274.5,124.7 L273.7,124.6 L272.9,124.6 L272.1,124.6 L271.7,124.5 L270.9,124.4 L270.1,124.3 L269.3,124.3 L268.5,124.2 L267.7,124.2 L266.9,124.2 L266.5,124.2 L265.7,124.0 L264.9,123.9 L264.1,123.8 L263.7,123.6 L262.9,123.4 L262.5,123.4 L261.7,123.0 L261.3,122.8 L260.5,122.6 L259.8,123.0 L259.7,123.4 L259.5,124.2 L259.3,125.0 L259.3,125.4 L259.1,126.2 L259.0,127.0 L258.9,127.7 L258.7,128.2 L258.6,129.0 L258.5,129.4 L258.2,130.2 L258.1,130.6 L257.9,131.4 L258.1,131.8 L258.9,132.1 L259.3,132.4 L260.1,132.6 L260.5,132.8 L261.3,133.0 L262.1,133.0 L262.5,133.3 L263.3,133.3 L264.1,133.3 L264.9,133.4 L265.7,133.4 L266.5,133.4 L267.3,133.4 L268.1,133.4 L268.9,133.4 L269.7,133.4 L270.5,133.4 L271.3,133.4 L272.1,133.4 L272.9,133.4 L273.7,133.4 L274.5,133.4 L275.3,133.4 L276.1,133.4 L276.5,133.4 L277.3,133.8 L277.7,133.8 L278.5,134.2 L278.9,134.6 L279.3,134.9 L279.7,135.3 L280.1,135.7 L280.5,136.2 L280.9,136.6 L280.9,137.0 L281.3,137.8 L281.3,138.2 L281.3,139.0 L281.3,139.8 L281.3,140.3 L281.0,141.0 L280.9,141.8 L280.5,142.2 L280.2,142.6 L279.9,143.0 L279.7,143.4 L279.3,143.8 L278.5,144.2 L278.1,144.5 L277.7,144.6 L277.3,145.0 L276.5,145.1 L276.1,145.4 L275.3,145.8 L274.9,145.8 L274.1,145.9 L273.7,146.2 L272.9,146.2 L272.1,146.2 L271.3,146.2 L270.5,146.2 L269.7,146.2 L268.9,146.3 L268.1,146.3 L267.3,146.4 L266.6,146.6 L266.1,146.6 L265.3,146.6 L264.5,146.6 L263.7,147.0 L263.3,147.0 L262.5,147.4 L262.1,147.4 L261.3,147.8 L260.9,147.8 L260.1,148.2 L259.7,148.2 L258.9,148.6 L258.5,148.7 L258.1,149.0 L257.3,149.4 L256.9,149.4 L256.5,149.8 L255.7,149.9 L255.3,150.2 L254.5,150.3 L254.0,150.6 L253.3,150.8 L252.7,151.0 L252.6,151.8 L252.6,152.6 L252.5,153.1 L252.2,153.8 L252.2,154.6 L252.2,155.4 L252.2,156.2 L252.2,157.0 L251.8,157.4 L251.8,158.2 L252.2,158.6 L252.2,159.4 L252.6,159.8 L252.6,160.6 L252.9,161.3 L253.0,161.8 L253.3,162.5 L253.4,163.0 L253.4,163.8 L253.8,164.2 L253.8,165.0 L254.1,165.7 L254.2,166.2 L254.2,167.0 L254.6,167.4 L254.6,168.2 L254.9,168.9 L255.0,169.4 L255.0,170.2 L255.4,170.6 L255.4,171.4 L255.7,172.1 L255.8,172.6 L255.8,173.4 L256.1,174.1 L256.2,174.6 L256.2,175.4 L256.6,175.8 L256.6,176.6 L256.9,177.3 L257.0,177.8 L256.6,178.2 L256.5,178.7 L256.2,179.4 L255.8,179.8 L255.7,180.3 L255.4,181.0 L255.0,181.4 L254.9,181.9 L254.6,182.6 L254.2,183.0 L254.1,183.5 L253.9,184.2 L253.5,184.6 L253.3,185.2 L253.1,185.8 L252.7,186.2 L252.5,186.8 L252.3,187.4 L251.9,187.8 L251.7,188.4 L251.3,188.9 L251.1,189.4 L250.8,189.8 L250.4,190.2 L250.0,190.6 L249.7,191.0 L249.3,191.7 L248.9,192.2 L248.5,192.6 L248.4,193.0 L248.0,193.4 L247.6,193.8 L247.2,194.2 L246.8,194.6 L246.5,195.2 L246.1,195.6 L245.7,196.0 L245.4,196.6 L245.0,197.0 L244.5,197.2 L243.7,197.3 L243.3,197.7 L242.8,197.8 L242.1,198.2 L241.7,198.4 L241.3,198.6 L240.5,199.0 L240.1,199.2 L239.7,199.4 L238.9,199.8 L238.5,200.0 L237.9,200.2 L237.3,200.4 L236.8,200.6 L236.1,200.8 L235.6,201.0 L234.9,201.2 L234.1,201.4 L233.7,201.5 L232.9,201.7 L232.1,201.8 L231.7,201.9 L230.9,201.9 L230.1,202.0 L229.3,202.1 L228.5,202.1 L227.7,202.1 L226.9,202.1 L226.1,202.1 L225.3,202.0 L224.5,201.9 L223.7,201.8 L223.3,201.7 L222.5,201.6 L221.7,201.5 L221.3,201.4 L220.5,201.2 L219.9,201.0 L219.3,200.8 L218.5,200.6 L218.1,200.5 L217.3,200.3 L216.9,200.2 L216.1,200.1 L215.3,200.0 L214.5,199.9 L213.7,199.9 L212.9,199.9 L212.1,199.9 L211.3,199.9 L210.5,199.9 L209.7,199.9 L208.9,199.9 L208.1,199.9 L207.3,199.9 L206.5,199.9 L205.7,199.9 L204.9,199.9 L204.1,199.9 L203.3,199.9 L202.5,199.9 L201.7,199.9 L200.9,199.9 L200.1,199.9 L200.0,199.4 L200.0,198.6 L200.0,197.8 L200.0,197.0 L200.0,196.2 L200.0,195.4 L200.0,194.6 L200.0,193.8 L200.0,193.0 L200.0,192.2 L200.0,191.4 L200.0,190.6 L200.0,189.8 L200.0,189.0 L200.0,188.2 L200.0,187.4 L200.0,186.6 L200.0,185.8 L200.0,185.0 L200.0,184.2 L200.0,183.4 L200.0,182.6 L200.0,181.8 L200.0,181.0 L200.0,180.2 L200.0,179.4 L200.0,178.6 L200.0,177.8 L200.0,177.0 L200.0,176.2 L200.0,175.4 L200.0,174.6 L200.0,173.8 L200.0,173.0 L200.0,172.2 L200.0,171.4 L200.0,170.6 L200.0,169.8 L200.0,169.0 L200.0,168.2 L200.0,167.4 L200.0,166.6 L200.0,165.8 L200.0,165.0 L200.0,164.2 L200.0,163.4 L200.0,162.6 L200.0,161.8 L200.0,161.0 L200.0,160.2 L200.0,159.4 L200.0,158.6 L200.0,157.8 L200.0,157.0 L200.0,156.2 L200.0,155.4 L200.0,154.6 L200.0,153.8 L200.0,153.0 L200.0,152.2 L200.0,151.4 L200.0,150.6 L200.0,149.8 L200.0,149.0 L200.0,148.2 L200.0,147.4 L200.0,146.6 L200.0,145.8 L200.0,145.0 L200.0,144.2 L199.9,143.4 L199.9,142.6 L199.9,141.8 L199.9,141.0 L199.8,140.2 L199.8,139.4 L199.8,138.6 L199.8,137.8 L199.8,137.0 L199.7,136.2"/>
<path d="M231.3,200.6 L230.5,200.7 L229.7,200.8 L228.9,200.8 L228.1,200.9 L227.3,200.9 L226.5,200.8 L225.7,200.8 L224.9,200.7 L224.4,200.6 L223.7,200.5 L222.9,200.4 L222.2,200.2 L221.7,200.1 L220.9,199.9 L220.3,199.8 L219.7,199.6 L219.0,199.4 L218.5,199.3 L217.7,199.1 L217.3,199.0 L216.5,198.8 L215.7,198.7 L214.9,198.6 L214.5,198.6 L213.7,198.5 L212.9,198.5 L212.1,198.5 L211.3,198.5 L210.5,198.5 L209.7,198.5 L208.9,198.5 L208.1,198.5 L207.3,198.5 L206.5,198.5 L205.7,198.5 L204.9,198.5 L204.1,198.5 L203.3,198.5 L202.5,198.5 L201.7,198.5 L201.4,197.8 L201.4,197.0 L201.4,196.2 L201.4,195.4 L201.4,194.6 L201.4,193.8 L201.4,193.0 L201.4,192.2 L201.4,191.4 L201.4,190.6 L201.4,189.8 L201.4,189.0 L201.4,188.2 L201.4,187.4 L201.4,186.6 L201.4,185.8 L201.4,185.0 L201.4,184.2 L201.4,183.4 L201.4,182.6 L201.4,181.8 L201.4,181.0 L201.4,180.2 L201.4,179.4 L201.3,178.6 L201.3,177.8 L201.3,177.0 L201.3,176.2 L201.3,175.4 L201.3,174.6 L201.3,173.8 L201.4,173.0 L201.4,172.2 L201.4,171.4 L201.4,170.6 L201.4,169.8 L201.4,169.0 L201.4,168.2 L201.4,167.4 L201.4,166.6 L201.4,165.8 L201.4,165.0 L201.4,164.2 L201.4,163.4 L201.4,162.6 L201.4,161.8 L201.4,161.0 L201.4,160.2 L201.4,159.4 L201.4,158.6 L201.4,157.8 L201.4,157.0 L201.4,156.2 L201.4,155.4 L201.4,154.6 L201.4,153.8 L201.4,153.0 L201.4,152.2 L201.4,151.4 L201.4,150.6 L201.4,149.8 L201.4,149.0 L201.4,148.2 L201.4,147.4 L201.4,146.6 L201.4,145.8 L201.4,145.0 L201.3,144.2 L201.3,143.4 L201.3,142.6 L201.3,142.2 L201.3,141.8 L201.3,141.4 L201.3,140.6 L201.2,139.8 L201.2,139.0 L201.2,138.2 L201.2,137.4 L201.1,136.6 L201.1,135.8 L201.1,135.0 L201.1,134.2 L201.0,133.4 L201.0,132.6 L201.0,131.8 L201.0,131.0 L201.0,130.2 L201.0,129.4 L200.9,128.6 L201.0,127.8 L201.0,127.0 L201.0,126.2 L201.0,125.4 L201.0,124.6 L201.0,123.8 L201.1,123.0 L201.1,122.2 L201.1,121.4 L201.1,120.6 L201.2,119.8 L201.2,119.0 L201.2,118.2 L201.2,117.4 L201.3,116.6 L201.3,115.8 L201.3,115.0 L201.3,114.4 L201.3,113.8 L201.3,113.0 L201.4,112.2 L201.4,111.4 L201.4,110.6 L201.4,109.8 L201.5,109.0 L202.1,108.6 L202.5,108.2 L202.9,108.1 L203.3,107.8 L204.0,107.4 L204.4,107.0 L204.9,106.7 L205.3,106.4 L205.7,106.2 L206.1,105.7 L206.5,105.0 L206.8,104.6 L207.2,104.2 L207.4,103.8 L207.7,103.3 L208.1,102.9 L208.5,102.4 L208.8,101.8 L209.2,101.4 L209.5,101.0 L209.7,100.6 L210.1,100.2 L210.5,99.8 L211.1,99.4 L211.6,99.0 L212.0,98.6 L212.4,98.2 L212.8,97.8 L213.3,97.5 L213.7,97.2 L214.1,96.9 L214.5,96.5 L214.9,96.1 L215.3,95.8 L215.9,95.4 L216.5,95.1 L216.9,94.9 L217.4,94.6 L218.1,94.3 L218.5,94.0 L219.0,93.8 L219.7,93.5 L220.1,93.3 L220.6,93.0 L221.3,92.7 L221.7,92.5 L222.3,92.2 L222.9,91.9 L223.3,91.8 L224.1,91.6 L224.9,91.5 L225.7,91.4 L226.1,91.2 L226.9,91.1 L227.7,91.0 L228.5,91.0 L228.9,90.9 L229.7,90.7 L230.5,90.7 L231.3,90.7 L232.1,90.8 L232.9,90.9 L233.7,91.0 L234.1,91.0 L234.9,91.2 L235.7,91.3 L236.5,91.4 L236.9,91.5 L237.7,91.7 L238.4,91.8 L238.9,91.9 L239.7,92.2 L240.1,92.3 L240.8,92.6 L241.3,92.8 L241.7,93.0 L242.5,93.4 L242.9,93.6 L243.4,93.8 L244.1,94.1 L244.5,94.4 L245.0,94.6 L245.5,95.0 L246.1,95.3 L246.5,95.5 L247.0,95.8 L247.7,96.2 L248.1,96.5 L248.5,96.7 L249.0,97.0 L249.5,97.4 L250.0,97.8 L250.4,98.2 L250.9,98.6 L251.3,98.8 L251.7,99.2 L252.1,99.6 L252.5,100.0 L252.9,100.3 L253.4,100.6 L253.7,101.0 L254.1,101.4 L254.5,101.8 L255.1,102.2 L255.5,102.6 L255.9,103.0 L256.3,103.4 L256.7,103.8 L257.0,104.2 L257.4,104.6 L257.4,105.4 L257.5,106.2 L257.6,107.0 L257.7,107.4 L257.9,108.2 L258.0,109.0 L258.0,109.8 L258.1,110.3 L258.2,111.0 L258.3,111.8 L258.4,112.6 L258.5,113.4 L258.5,114.1 L258.5,114.6 L258.6,115.4 L258.6,116.2 L258.6,117.0 L258.6,117.8 L258.5,118.6 L258.5,119.3 L258.4,119.8 L258.3,120.6 L258.3,121.4 L258.1,122.2 L258.1,122.6 L258.0,123.4 L257.9,124.2 L257.8,125.0 L257.7,125.5 L257.6,126.2 L257.4,127.0 L257.3,127.4 L257.1,128.2 L256.9,128.9 L256.7,129.4 L256.5,130.2 L256.3,130.6 L256.1,131.4 L256.1,131.8 L255.8,132.6 L255.6,133.0 L255.3,133.8 L255.2,134.2 L254.9,134.9 L254.7,135.4 L254.5,135.9 L254.1,136.6 L254.0,137.0 L253.7,137.7 L253.5,138.2 L253.3,138.9 L253.1,139.4 L252.9,139.9 L252.7,140.6 L252.5,141.3 L252.2,141.8 L252.1,142.3 L252.0,143.0 L251.9,143.8 L251.8,144.6 L251.8,145.4 L251.7,145.9 L251.4,146.6 L251.3,147.4 L251.3,148.2 L251.3,148.6 L251.3,149.4 L251.2,150.2 L251.2,151.0 L251.2,151.8 L251.0,152.6 L250.8,153.0 L250.8,153.8 L250.8,154.6 L250.8,155.4 L250.8,156.2 L250.5,156.8 L250.4,157.4 L250.4,158.2 L250.5,158.8 L250.8,159.4 L250.9,160.0 L251.2,160.6 L251.2,161.4 L251.4,161.8 L251.7,162.6 L251.8,163.0 L252.0,163.8 L252.1,164.3 L252.4,165.0 L252.5,165.8 L252.7,166.2 L252.8,167.0 L252.9,167.4 L253.2,168.2 L253.3,168.9 L253.5,169.4 L253.7,170.2 L253.7,170.6 L254.0,171.4 L254.1,172.2 L254.2,172.6 L254.4,173.4 L254.5,174.2 L254.6,174.6 L254.8,175.4 L254.9,175.9 L255.2,176.6 L255.2,177.4 L255.0,178.2 L254.8,178.6 L254.5,179.3 L254.2,179.8 L254.1,180.2 L253.7,181.0 L253.5,181.4 L253.3,181.9 L253.0,182.6 L252.8,183.0 L252.5,183.6 L252.2,184.2 L252.0,184.6 L251.7,185.4 L251.5,185.8 L251.3,186.2 L250.9,187.0 L250.7,187.4 L250.5,187.8 L250.1,188.4 L249.8,189.0 L249.4,189.4 L249.1,189.8 L248.8,190.2 L248.5,190.6 L248.1,191.2 L247.7,191.7 L247.3,192.2 L247.1,192.6 L246.7,193.0 L246.3,193.4 L245.9,193.8 L245.6,194.2 L245.3,194.6 L244.9,195.0 L244.5,195.4 L244.1,195.9 L243.3,196.1 L242.9,196.4 L242.5,196.6 L241.8,197.0 L241.3,197.2 L240.9,197.4 L240.2,197.8 L239.7,198.0 L239.3,198.2 L238.5,198.6 L238.1,198.8 L237.5,199.0 L236.9,199.3 L236.5,199.4 L235.7,199.6 L235.3,199.8 L234.5,200.0 L233.7,200.2 L233.3,200.3 L232.5,200.4 L231.7,200.6 L231.3,200.6"/>
<path d="M274.9,117.8 L274.1,117.9 L273.3,118.0 L272.5,118.0 L271.7,118.0 L270.9,117.9 L270.1,117.9 L269.3,117.8 L268.8,117.8 L268.1,117.7 L267.3,117.6 L266.7,117.4 L266.1,117.2 L265.7,117.0 L265.1,116.6 L264.7,116.2 L264.3,115.8 L264.0,115.4 L263.7,115.0 L263.3,114.3 L263.1,113.8 L262.9,113.1 L262.8,112.6 L262.8,111.8 L262.9,111.0 L263.0,110.6 L263.2,109.8 L263.4,109.4 L263.7,109.0 L264.1,108.5 L264.5,108.1 L264.9,107.8 L265.6,107.4 L266.1,107.2 L266.7,107.0 L267.3,106.8 L268.1,106.6 L268.5,106.6 L269.3,106.5 L270.1,106.4 L270.9,106.4 L271.7,106.4 L272.5,106.4 L273.3,106.5 L274.1,106.6 L274.5,106.6 L275.3,106.8 L275.9,107.0 L276.5,107.3 L276.9,107.5 L277.4,107.8 L277.8,108.2 L278.1,108.6 L278.5,109.2 L278.8,109.8 L279.0,110.2 L279.2,111.0 L279.3,111.8 L279.3,112.6 L279.2,113.4 L278.9,114.2 L278.8,114.6 L278.5,115.2 L278.1,115.8 L277.8,116.2 L277.4,116.6 L277.0,117.0 L276.5,117.3 L276.1,117.5 L275.3,117.7 L274.9,117.8"/>
<path d="M230.9,199.4 L230.1,199.5 L229.3,199.5 L228.5,199.6 L227.7,199.6 L226.9,199.6 L226.1,199.5 L225.3,199.4 L224.9,199.4 L224.1,199.3 L223.3,199.1 L222.8,199.0 L222.1,198.8 L221.3,198.6 L220.9,198.5 L220.1,198.3 L219.7,198.2 L218.9,197.9 L218.4,197.8 L217.7,197.6 L216.9,197.4 L216.5,197.3 L215.7,197.2 L214.9,197.1 L214.1,197.1 L213.3,197.0 L212.5,197.0 L211.7,197.0 L210.9,197.0 L210.1,197.0 L209.7,197.0 L208.9,197.0 L208.1,197.0 L207.3,197.0 L206.5,197.0 L205.7,197.0 L204.9,197.0 L204.1,197.0 L203.3,197.0 L202.9,196.2 L202.9,195.4 L202.9,194.6 L202.9,193.8 L202.9,193.0 L202.9,192.2 L202.9,191.4 L202.9,190.6 L202.9,189.8 L202.9,189.0 L202.9,188.4 L202.9,187.8 L202.9,187.0 L202.9,186.2 L202.9,185.4 L202.9,184.6 L202.9,183.8 L202.9,183.0 L202.9,182.2 L202.9,181.4 L202.9,180.6 L202.8,179.8 L202.8,179.0 L202.8,178.2 L202.8,177.4 L202.8,176.6 L202.8,175.8 L202.8,175.0 L202.8,174.2 L202.8,173.4 L202.9,172.6 L202.9,171.8 L202.9,171.0 L202.9,170.2 L202.9,169.4 L202.9,168.6 L202.9,167.8 L202.9,167.0 L202.9,166.2 L202.9,165.4 L202.9,164.6 L202.9,163.8 L202.9,163.0 L202.9,162.5 L202.9,161.8 L202.9,161.0 L202.9,160.2 L202.9,159.4 L202.9,158.6 L202.9,157.8 L202.9,157.0 L202.9,156.2 L202.9,155.4 L202.9,154.6 L202.9,153.8 L202.9,153.0 L202.9,152.2 L202.9,151.8 L202.9,151.0 L202.9,150.2 L202.9,149.4 L202.9,148.6 L202.9,147.8 L202.9,147.0 L202.9,146.2 L202.9,145.4 L202.9,144.6 L202.9,143.8 L202.8,143.0 L202.8,142.2 L202.8,141.4 L202.8,140.6 L202.8,139.8 L202.8,139.0 L202.8,138.2 L202.7,137.4 L202.7,136.6 L202.7,135.8 L202.7,135.0 L202.7,134.2 L202.7,133.4 L202.6,132.6 L202.6,131.8 L202.6,131.0 L202.6,130.2 L202.6,129.4 L202.6,128.6 L202.6,127.8 L202.6,127.0 L202.6,126.2 L202.6,125.4 L202.6,124.6 L202.7,123.8 L202.7,123.0 L202.7,122.2 L202.7,121.4 L202.7,120.6 L202.8,119.8 L202.8,119.0 L202.8,118.2 L202.8,117.4 L202.8,116.6 L202.8,115.8 L202.8,115.0 L202.8,114.2 L202.9,113.4 L202.9,112.6 L202.9,111.8 L202.9,111.0 L202.9,110.2 L203.0,109.8 L203.6,109.4 L204.1,109.1 L204.5,108.9 L204.9,108.6 L205.5,108.2 L206.1,107.9 L206.5,107.6 L206.9,107.3 L207.3,106.9 L207.7,106.2 L208.0,105.8 L208.4,105.4 L208.7,105.0 L208.9,104.6 L209.3,104.1 L209.7,103.6 L210.1,103.0 L210.4,102.6 L210.7,102.2 L210.9,101.8 L211.3,101.3 L211.7,101.0 L212.3,100.6 L212.8,100.2 L213.2,99.8 L213.6,99.4 L214.0,99.0 L214.5,98.7 L214.9,98.4 L215.3,98.0 L215.7,97.7 L216.1,97.3 L216.5,97.0 L217.2,96.6 L217.7,96.3 L218.1,96.1 L218.7,95.8 L219.3,95.5 L219.7,95.3 L220.3,95.0 L220.9,94.7 L221.3,94.5 L221.9,94.2 L222.5,93.9 L222.9,93.7 L223.6,93.4 L224.1,93.2 L224.9,93.2 L225.7,93.1 L226.1,93.0 L226.9,92.7 L227.7,92.7 L228.5,92.6 L228.9,92.6 L229.7,92.4 L230.5,92.3 L231.3,92.3 L232.1,92.4 L232.9,92.5 L233.7,92.5 L234.1,92.6 L234.9,92.8 L235.7,92.9 L236.5,93.0 L236.9,93.1 L237.7,93.3 L238.5,93.4 L238.9,93.5 L239.7,93.8 L240.1,94.0 L240.6,94.2 L241.3,94.5 L241.7,94.7 L242.4,95.0 L242.9,95.2 L243.3,95.4 L244.0,95.8 L244.5,96.1 L244.9,96.3 L245.4,96.6 L246.1,97.0 L246.5,97.2 L246.9,97.5 L247.5,97.8 L248.1,98.2 L248.5,98.4 L248.9,98.8 L249.3,99.2 L249.7,99.5 L250.1,99.8 L250.6,100.2 L251.0,100.6 L251.5,101.0 L251.9,101.4 L252.4,101.8 L252.8,102.2 L253.2,102.6 L253.6,103.0 L254.1,103.3 L254.5,103.7 L254.9,104.1 L255.3,104.5 L255.7,104.9 L255.8,105.4 L255.9,106.2 L256.0,107.0 L256.1,107.5 L256.2,108.2 L256.2,109.0 L256.4,109.8 L256.5,110.6 L256.5,111.0 L256.6,111.8 L256.7,112.6 L256.8,113.4 L256.8,114.2 L256.9,115.0 L256.9,115.4 L256.9,116.2 L256.9,117.0 L256.9,117.8 L256.9,118.2 L256.9,119.0 L256.8,119.8 L256.8,120.6 L256.7,121.4 L256.6,122.2 L256.5,122.9 L256.5,123.4 L256.3,124.2 L256.2,125.0 L256.1,125.5 L256.0,126.2 L255.8,127.0 L255.7,127.4 L255.5,128.2 L255.3,128.7 L255.1,129.4 L254.9,130.0 L254.7,130.6 L254.5,131.0 L254.2,131.8 L254.1,132.2 L253.8,133.0 L253.6,133.4 L253.3,134.1 L253.1,134.6 L252.9,135.1 L252.6,135.8 L252.4,136.2 L252.2,137.0 L252.0,137.4 L251.7,138.0 L251.5,138.6 L251.3,139.0 L251.1,139.8 L250.9,140.6 L250.8,141.0 L250.5,141.8 L250.4,142.2 L250.3,143.0 L250.2,143.8 L250.2,144.6 L250.2,145.4 L250.0,145.8 L249.8,146.6 L249.7,147.4 L249.7,148.2 L249.7,149.0 L249.7,149.8 L249.7,150.6 L249.7,151.4 L249.7,151.8 L249.4,152.6 L249.3,153.4 L249.3,153.8 L249.3,154.6 L249.3,155.4 L249.1,156.2 L248.9,157.0 L248.9,157.8 L248.9,158.6 L249.1,159.4 L249.3,159.8 L249.5,160.6 L249.7,161.0 L249.8,161.8 L250.1,162.5 L250.2,163.0 L250.5,163.7 L250.6,164.2 L250.8,165.0 L250.9,165.4 L251.1,166.2 L251.3,166.8 L251.4,167.4 L251.6,168.2 L251.8,168.6 L251.9,169.4 L252.1,170.0 L252.2,170.6 L252.4,171.4 L252.6,171.8 L252.7,172.6 L252.9,173.3 L253.0,173.8 L253.1,174.6 L253.3,175.3 L253.4,175.8 L253.6,176.6 L253.7,177.0 L253.7,177.5 L253.4,178.2 L253.2,178.6 L252.9,179.2 L252.6,179.8 L252.4,180.2 L252.1,180.9 L251.9,181.4 L251.7,181.8 L251.3,182.6 L251.2,183.0 L250.9,183.6 L250.6,184.2 L250.5,184.6 L250.1,185.4 L249.9,185.8 L249.7,186.3 L249.3,187.0 L249.0,187.4 L248.8,187.8 L248.5,188.3 L248.1,188.8 L247.7,189.3 L247.4,189.8 L247.1,190.2 L246.8,190.6 L246.4,191.0 L246.1,191.5 L245.7,192.0 L245.3,192.4 L244.9,192.9 L244.5,193.3 L244.1,193.8 L243.7,194.2 L243.3,194.6 L242.9,194.8 L242.5,195.0 L241.8,195.4 L241.3,195.7 L240.9,195.9 L240.4,196.2 L239.7,196.6 L239.3,196.8 L238.8,197.0 L238.1,197.3 L237.7,197.5 L237.1,197.8 L236.5,198.0 L236.1,198.2 L235.3,198.5 L234.9,198.6 L234.1,198.8 L233.3,199.0 L232.9,199.1 L232.1,199.2 L231.3,199.4 L230.9,199.4"/>
<path d="M270.5,113.8 L270.1,113.8 L269.3,113.6 L268.7,113.4 L268.1,113.0 L267.7,112.6 L267.6,112.2 L267.7,111.4 L268.0,111.0 L268.5,110.7 L268.9,110.5 L269.7,110.3 L270.5,110.2 L270.5,110.2 L271.3,110.3 L272.1,110.5 L272.5,110.7 L273.0,111.0 L273.3,111.4 L273.4,112.2 L273.3,112.6 L272.9,113.1 L272.4,113.4 L271.7,113.6 L270.9,113.8 L270.5,113.8"/>
<path d="M230.1,198.2 L229.3,198.3 L228.5,198.3 L227.7,198.3 L226.9,198.3 L226.1,198.2 L225.7,198.2 L224.9,198.1 L224.1,197.9 L223.5,197.8 L222.9,197.7 L222.1,197.5 L221.7,197.4 L220.9,197.1 L220.5,197.0 L219.7,196.7 L219.3,196.6 L218.5,196.3 L218.1,196.2 L217.3,195.9 L216.8,195.8 L216.1,195.7 L215.3,195.5 L214.5,195.5 L213.7,195.4 L213.3,195.4 L212.5,195.4 L211.7,195.4 L210.9,195.4 L210.1,195.4 L209.3,195.4 L208.5,195.4 L207.7,195.4 L206.9,195.4 L206.1,195.4 L205.3,195.4 L204.5,195.0 L204.5,194.2 L204.5,193.4 L204.5,192.6 L204.5,191.8 L204.5,191.0 L204.5,190.2 L204.5,189.4 L204.5,188.6 L204.5,187.8 L204.5,187.0 L204.5,186.2 L204.5,185.4 L204.5,184.6 L204.5,183.8 L204.5,183.0 L204.5,182.2 L204.5,181.4 L204.5,180.8 L204.5,180.2 L204.5,179.4 L204.5,178.6 L204.5,177.8 L204.5,177.0 L204.5,176.2 L204.5,175.4 L204.5,174.6 L204.5,173.8 L204.5,173.0 L204.5,172.2 L204.5,171.7 L204.5,171.0 L204.5,170.2 L204.5,169.4 L204.5,168.6 L204.5,167.8 L204.5,167.0 L204.5,166.2 L204.5,165.4 L204.5,164.6 L204.5,163.8 L204.5,163.0 L204.5,162.2 L204.5,161.4 L204.5,160.6 L204.5,159.8 L204.5,159.0 L204.5,158.2 L204.5,157.4 L204.5,156.6 L204.5,155.8 L204.5,155.0 L204.5,154.2 L204.5,153.4 L204.5,152.6 L204.5,151.8 L204.5,151.0 L204.5,150.2 L204.5,149.4 L204.5,148.6 L204.5,147.8 L204.5,147.0 L204.5,146.2 L204.5,145.4 L204.5,144.6 L204.5,143.8 L204.5,143.0 L204.5,142.5 L204.5,141.8 L204.5,141.0 L204.5,140.2 L204.4,139.4 L204.4,138.6 L204.4,137.8 L204.4,137.0 L204.4,136.2 L204.3,135.4 L204.3,134.6 L204.3,133.8 L204.3,133.0 L204.3,132.2 L204.3,131.4 L204.3,130.6 L204.3,129.8 L204.2,129.0 L204.2,128.2 L204.2,127.4 L204.3,126.6 L204.3,125.8 L204.3,125.0 L204.3,124.2 L204.3,123.4 L204.4,122.6 L204.4,121.8 L204.4,121.0 L204.4,120.2 L204.4,119.4 L204.4,118.6 L204.5,117.8 L204.5,117.0 L204.5,116.2 L204.5,115.4 L204.5,114.6 L204.5,114.2 L204.5,113.4 L204.5,112.6 L204.5,111.8 L204.5,111.0 L204.9,110.6 L205.6,110.2 L206.1,109.8 L206.5,109.6 L206.9,109.4 L207.5,109.0 L208.0,108.6 L208.4,108.2 L208.7,107.8 L209.0,107.4 L209.3,106.9 L209.7,106.4 L210.1,105.9 L210.4,105.4 L210.8,105.0 L211.1,104.6 L211.4,104.2 L211.7,103.7 L212.1,103.1 L212.4,102.6 L212.9,102.3 L213.3,102.0 L213.7,101.7 L214.1,101.3 L214.5,100.9 L214.9,100.5 L215.4,100.2 L215.9,99.8 L216.3,99.4 L216.8,99.0 L217.2,98.6 L217.7,98.3 L218.1,98.1 L218.6,97.8 L219.3,97.4 L219.7,97.2 L220.1,97.0 L220.9,96.6 L221.3,96.4 L221.7,96.2 L222.5,95.8 L222.9,95.6 L223.3,95.4 L224.1,95.0 L224.5,94.9 L225.3,94.8 L226.1,94.7 L226.5,94.6 L227.3,94.3 L228.1,94.3 L228.9,94.2 L229.3,94.1 L230.1,94.0 L230.9,93.9 L231.7,94.0 L232.5,94.0 L233.3,94.1 L234.1,94.2 L234.5,94.3 L235.3,94.4 L236.1,94.4 L236.8,94.6 L237.3,94.7 L238.1,94.8 L238.8,95.0 L239.3,95.2 L239.8,95.4 L240.5,95.7 L240.9,95.8 L241.7,96.2 L242.1,96.4 L242.6,96.6 L243.3,97.0 L243.7,97.2 L244.1,97.4 L244.8,97.8 L245.3,98.1 L245.7,98.3 L246.1,98.6 L246.8,99.0 L247.3,99.3 L247.7,99.6 L248.1,100.0 L248.5,100.3 L248.9,100.6 L249.3,101.0 L249.9,101.4 L250.3,101.8 L250.7,102.2 L251.1,102.6 L251.6,103.0 L251.9,103.4 L252.3,103.8 L252.7,104.2 L253.2,104.6 L253.6,105.0 L253.9,105.4 L254.2,105.8 L254.4,106.6 L254.5,107.2 L254.6,107.8 L254.7,108.6 L254.9,109.4 L255.0,109.8 L255.1,110.6 L255.3,111.4 L255.3,111.8 L255.4,112.6 L255.5,113.4 L255.5,114.2 L255.6,115.0 L255.6,115.8 L255.6,116.6 L255.7,117.4 L255.6,118.2 L255.6,119.0 L255.5,119.8 L255.4,120.6 L255.4,121.4 L255.3,122.1 L255.2,122.6 L255.2,123.4 L255.0,124.2 L254.9,124.9 L254.8,125.4 L254.6,126.2 L254.5,126.7 L254.3,127.4 L254.1,128.2 L253.9,128.6 L253.7,129.3 L253.5,129.8 L253.3,130.3 L253.0,131.0 L252.9,131.4 L252.6,132.2 L252.4,132.6 L252.1,133.3 L251.9,133.8 L251.7,134.3 L251.4,135.0 L251.2,135.4 L250.9,136.1 L250.7,136.6 L250.5,137.1 L250.2,137.8 L250.0,138.2 L249.8,139.0 L249.6,139.4 L249.4,140.2 L249.2,140.6 L248.9,141.4 L248.8,141.8 L248.6,142.6 L248.6,143.4 L248.5,144.2 L248.5,144.9 L248.4,145.4 L248.1,146.2 L248.1,146.6 L248.1,147.4 L248.1,148.2 L248.1,149.0 L248.1,149.8 L248.1,150.6 L248.1,151.4 L247.8,152.2 L247.7,152.8 L247.7,153.4 L247.7,154.2 L247.7,155.0 L247.5,155.8 L247.3,156.6 L247.3,157.0 L247.3,157.8 L247.3,158.6 L247.3,159.0 L247.5,159.8 L247.7,160.2 L247.9,161.0 L248.1,161.5 L248.2,162.2 L248.5,163.0 L248.6,163.4 L248.9,164.2 L249.0,164.6 L249.2,165.4 L249.3,165.8 L249.5,166.6 L249.7,167.3 L249.8,167.8 L250.0,168.6 L250.2,169.0 L250.3,169.8 L250.5,170.4 L250.6,171.0 L250.8,171.8 L251.0,172.2 L251.1,173.0 L251.3,173.7 L251.4,174.2 L251.5,175.0 L251.7,175.7 L251.8,176.2 L252.0,177.0 L251.7,177.8 L251.6,178.2 L251.3,178.8 L251.0,179.4 L250.9,179.8 L250.5,180.6 L250.3,181.0 L250.1,181.5 L249.8,182.2 L249.7,182.6 L249.3,183.4 L249.1,183.8 L248.9,184.4 L248.6,185.0 L248.4,185.4 L248.1,186.1 L247.8,186.6 L247.6,187.0 L247.3,187.4 L246.9,188.0 L246.5,188.5 L246.2,189.0 L245.9,189.4 L245.6,189.8 L245.3,190.2 L244.9,190.8 L244.5,191.2 L244.1,191.7 L243.7,192.1 L243.3,192.6 L242.9,193.0 L242.5,193.4 L242.1,193.6 L241.7,193.9 L241.1,194.2 L240.5,194.6 L240.1,194.8 L239.7,195.1 L239.1,195.4 L238.5,195.7 L238.1,195.9 L237.5,196.2 L236.9,196.5 L236.5,196.7 L235.7,197.0 L235.3,197.1 L234.5,197.4 L234.1,197.5 L233.3,197.7 L232.9,197.8 L232.1,197.9 L231.3,198.1 L230.5,198.2 L230.1,198.2"/>
<path d="M228.9,197.0 L228.1,197.0 L227.3,197.0 L226.9,197.0 L226.1,196.9 L225.3,196.8 L224.5,196.7 L224.1,196.6 L223.3,196.4 L222.6,196.2 L222.1,196.0 L221.3,195.8 L220.9,195.7 L220.2,195.4 L219.7,195.2 L219.2,195.0 L218.5,194.7 L218.1,194.5 L217.4,194.2 L216.9,193.9 L216.5,193.7 L215.8,193.4 L215.3,193.2 L214.9,192.9 L214.2,192.6 L213.7,192.3 L213.3,192.1 L212.6,191.8 L212.1,191.5 L211.7,191.3 L211.1,191.0 L210.5,190.6 L210.1,190.4 L209.7,190.2 L209.4,189.4 L209.3,189.0 L209.0,188.2 L208.9,187.7 L208.7,187.0 L208.5,186.5 L208.3,185.8 L208.2,185.0 L208.1,184.6 L207.9,183.8 L207.8,183.0 L207.7,182.5 L207.6,181.8 L207.5,181.0 L207.4,180.2 L207.4,179.4 L207.3,178.6 L207.3,178.2 L207.3,177.4 L207.3,176.6 L207.3,175.8 L207.3,175.4 L207.3,174.6 L207.4,173.8 L207.5,173.0 L207.6,172.2 L207.7,171.4 L207.8,171.0 L207.9,170.2 L208.0,169.4 L208.1,169.0 L208.3,168.2 L208.5,167.4 L208.6,167.0 L208.8,166.2 L208.9,165.7 L209.1,165.0 L209.3,164.4 L209.5,163.8 L209.7,163.1 L209.9,162.6 L210.1,161.9 L210.3,161.4 L210.5,160.8 L210.8,160.2 L210.9,159.8 L211.3,159.0 L211.4,158.6 L211.7,157.9 L211.9,157.4 L212.1,156.6 L212.2,156.2 L212.1,155.5 L212.0,155.0 L211.7,154.2 L211.6,153.8 L211.3,153.1 L211.1,152.6 L210.9,152.2 L210.6,151.4 L210.4,151.0 L210.1,150.2 L210.0,149.8 L209.7,149.0 L209.5,148.6 L209.3,148.0 L209.1,147.4 L208.9,146.7 L208.7,146.2 L208.5,145.5 L208.4,145.0 L208.2,144.2 L208.0,143.8 L207.8,143.0 L207.7,142.5 L207.6,141.8 L207.4,141.0 L207.3,140.5 L207.2,139.8 L207.0,139.0 L206.9,138.6 L206.9,138.2 L206.8,137.8 L206.7,137.0 L206.7,136.2 L206.6,135.4 L206.5,134.6 L206.5,134.5 L206.5,134.1 L206.4,133.4 L206.4,132.6 L206.5,131.8 L206.4,131.0 L206.3,130.2 L206.4,129.4 L206.3,128.6 L206.3,127.8 L206.3,127.0 L206.4,126.2 L206.4,125.4 L206.5,124.7 L206.6,124.2 L206.6,123.4 L206.7,122.6 L206.7,121.8 L206.8,121.0 L206.9,120.6 L207.0,119.8 L207.1,119.0 L207.2,118.2 L207.3,117.4 L207.4,117.0 L207.5,116.2 L207.6,115.4 L207.7,115.0 L207.8,114.2 L208.0,113.4 L208.1,113.0 L208.5,112.5 L208.9,112.0 L209.3,111.6 L209.7,111.1 L210.1,110.7 L210.5,110.2 L210.8,109.8 L211.1,109.4 L211.4,109.0 L211.7,108.5 L212.1,108.0 L212.5,107.5 L212.8,107.0 L213.2,106.6 L213.5,106.2 L213.8,105.8 L214.1,105.4 L214.5,104.9 L214.9,104.5 L215.3,104.2 L215.7,103.8 L216.1,103.4 L216.5,103.0 L217.0,102.6 L217.5,102.2 L217.9,101.8 L218.4,101.4 L218.8,101.0 L219.3,100.6 L219.7,100.4 L220.1,100.1 L220.6,99.8 L221.2,99.4 L221.7,99.1 L222.1,98.9 L222.6,98.6 L223.3,98.2 L223.7,98.0 L224.1,97.8 L224.8,97.4 L225.3,97.2 L226.0,97.0 L226.5,96.8 L227.2,96.6 L227.7,96.4 L228.5,96.3 L228.9,96.2 L229.7,96.0 L230.5,95.9 L231.2,95.8 L231.7,95.8 L232.5,95.8 L233.3,95.8 L233.7,95.8 L234.5,95.9 L235.3,95.9 L236.1,96.1 L236.9,96.2 L237.3,96.2 L238.1,96.4 L238.8,96.6 L239.3,96.8 L239.9,97.0 L240.5,97.2 L240.9,97.4 L241.7,97.7 L242.1,97.9 L242.7,98.2 L243.3,98.5 L243.7,98.7 L244.2,99.0 L244.9,99.4 L245.3,99.7 L245.7,99.9 L246.1,100.2 L246.7,100.6 L247.2,101.0 L247.7,101.4 L248.1,101.8 L248.5,102.1 L248.9,102.4 L249.3,102.8 L249.7,103.2 L250.1,103.6 L250.5,104.0 L250.9,104.5 L251.3,105.0 L251.6,105.4 L252.0,105.8 L252.3,106.2 L252.5,106.6 L252.9,107.4 L253.0,107.8 L253.3,108.6 L253.4,109.0 L253.6,109.8 L253.7,110.2 L253.9,111.0 L254.0,111.8 L254.1,112.5 L254.1,113.0 L254.2,113.8 L254.3,114.6 L254.3,115.4 L254.4,116.2 L254.4,117.0 L254.4,117.8 L254.3,118.6 L254.3,119.4 L254.2,120.2 L254.1,121.0 L254.1,121.4 L254.0,122.2 L253.9,123.0 L253.8,123.8 L253.7,124.4 L253.5,125.0 L253.4,125.8 L253.2,126.2 L253.1,127.0 L252.9,127.4 L252.6,128.2 L252.5,128.6 L252.2,129.4 L252.1,129.8 L251.8,130.6 L251.6,131.0 L251.3,131.8 L251.1,132.2 L250.9,132.7 L250.6,133.4 L250.4,133.8 L250.1,134.4 L249.9,135.0 L249.7,135.4 L249.4,136.2 L249.1,136.6 L248.9,137.0 L248.5,137.8 L248.4,138.2 L248.1,138.8 L247.8,139.4 L247.7,139.8 L247.3,140.5 L247.1,141.0 L246.9,141.5 L246.5,142.2 L246.3,142.6 L246.1,143.1 L245.9,143.8 L245.7,144.2 L245.3,144.9 L245.1,145.4 L244.9,145.9 L244.5,146.6 L244.4,147.0 L244.1,147.5 L243.8,148.2 L243.6,148.6 L243.3,149.2 L243.0,149.8 L242.8,150.2 L242.5,150.8 L242.1,151.4 L241.9,151.8 L241.7,152.2 L241.3,153.0 L241.1,153.4 L240.9,154.1 L240.7,154.6 L240.6,155.4 L240.9,156.2 L241.1,156.6 L241.3,157.1 L241.7,157.8 L241.9,158.2 L242.1,158.7 L242.5,159.3 L242.8,159.8 L243.0,160.2 L243.3,160.7 L243.7,161.3 L244.0,161.8 L244.2,162.2 L244.5,162.7 L244.9,163.4 L245.1,163.8 L245.4,164.2 L245.7,164.8 L245.9,165.4 L246.1,165.8 L246.5,166.6 L246.6,167.0 L246.9,167.6 L247.1,168.2 L247.3,168.7 L247.6,169.4 L247.7,169.9 L247.9,170.6 L248.1,171.1 L248.3,171.8 L248.5,172.6 L248.5,173.0 L248.7,173.8 L248.8,174.6 L248.9,175.0 L249.0,175.8 L249.1,176.6 L249.0,177.4 L248.9,178.1 L248.8,178.6 L248.6,179.4 L248.5,179.9 L248.3,180.6 L248.1,181.4 L248.0,181.8 L247.8,182.6 L247.6,183.0 L247.3,183.8 L247.1,184.2 L246.9,184.8 L246.6,185.4 L246.4,185.8 L246.1,186.4 L245.7,187.0 L245.5,187.4 L245.2,187.8 L244.9,188.3 L244.5,188.9 L244.1,189.4 L243.8,189.8 L243.5,190.2 L243.1,190.6 L242.7,191.0 L242.4,191.4 L242.0,191.8 L241.5,192.2 L241.0,192.6 L240.5,193.0 L240.1,193.2 L239.7,193.5 L239.3,193.8 L238.6,194.2 L238.1,194.5 L237.7,194.7 L237.1,195.0 L236.5,195.3 L236.1,195.4 L235.3,195.8 L234.9,195.9 L234.1,196.2 L233.7,196.3 L232.9,196.5 L232.4,196.6 L231.7,196.7 L230.9,196.9 L230.1,196.9 L229.3,197.0 L228.9,197.0"/>
<path d="M226.9,157.9 L226.1,158.0 L225.3,157.9 L224.7,157.8 L224.1,157.6 L223.5,157.4 L222.9,157.1 L222.5,156.8 L222.1,156.5 L221.6,156.2 L221.1,155.8 L220.8,155.4 L220.4,155.0 L220.1,154.5 L219.7,154.2 L219.3,153.6 L219.0,153.0 L218.7,152.6 L218.5,152.2 L218.1,151.5 L218.0,151.0 L217.7,150.4 L217.4,149.8 L217.2,149.4 L216.9,148.6 L216.7,148.2 L216.5,147.8 L216.1,147.3 L215.7,146.9 L215.3,146.6 L214.9,146.2 L214.4,145.8 L214.0,145.4 L213.7,145.0 L213.3,144.6 L212.9,144.1 L212.5,143.8 L212.1,143.2 L211.8,142.6 L211.5,142.2 L211.2,141.8 L210.9,141.0 L210.7,140.6 L210.4,140.2 L210.1,139.6 L209.9,139.0 L209.7,138.5 L209.6,137.8 L209.4,137.0 L209.2,136.6 L209.1,135.8 L208.9,135.0 L208.8,134.6 L208.8,133.8 L208.7,133.0 L208.7,132.2 L208.6,131.4 L208.5,130.6 L208.5,130.5 L208.6,129.8 L208.5,129.0 L208.5,129.0 L208.6,128.2 L208.5,127.4 L208.7,126.6 L208.7,125.8 L208.8,125.0 L208.9,124.4 L209.0,123.8 L209.1,123.0 L209.3,122.3 L209.4,121.8 L209.7,121.0 L209.8,120.6 L210.0,119.8 L210.1,119.3 L210.4,118.6 L210.5,118.2 L210.9,117.4 L211.0,117.0 L211.3,116.3 L211.5,115.8 L211.7,115.4 L212.1,114.6 L212.3,114.2 L212.5,113.7 L212.8,113.0 L213.0,112.6 L213.3,112.0 L213.6,111.4 L213.9,111.0 L214.1,110.6 L214.5,109.9 L214.9,109.4 L215.1,109.0 L215.4,108.6 L215.7,108.2 L216.1,107.6 L216.5,107.1 L216.9,106.6 L217.3,106.2 L217.6,105.8 L218.0,105.4 L218.4,105.0 L218.8,104.6 L219.3,104.2 L219.7,103.8 L220.1,103.5 L220.5,103.1 L220.9,102.8 L221.3,102.5 L221.8,102.2 L222.4,101.8 L222.9,101.5 L223.3,101.3 L223.8,101.0 L224.5,100.6 L224.9,100.4 L225.4,100.2 L226.1,99.9 L226.5,99.7 L227.3,99.4 L227.7,99.2 L228.3,99.0 L228.9,98.7 L229.3,98.6 L230.1,98.3 L230.5,98.1 L231.3,97.9 L231.8,97.8 L232.5,97.7 L233.3,97.6 L234.1,97.6 L234.9,97.6 L235.7,97.6 L236.5,97.7 L237.3,97.8 L237.7,97.9 L238.5,98.1 L238.9,98.2 L239.7,98.4 L240.1,98.6 L240.9,98.9 L241.3,99.1 L242.1,99.4 L242.5,99.6 L242.9,99.8 L243.6,100.2 L244.1,100.5 L244.5,100.8 L244.9,101.0 L245.5,101.4 L246.0,101.8 L246.5,102.2 L246.9,102.5 L247.3,102.8 L247.7,103.2 L248.1,103.6 L248.5,103.9 L248.9,104.4 L249.3,104.8 L249.7,105.3 L250.1,105.8 L250.4,106.2 L250.7,106.6 L250.9,107.0 L251.3,107.7 L251.6,108.2 L251.8,108.6 L252.1,109.4 L252.2,109.8 L252.4,110.6 L252.5,111.0 L252.7,111.8 L252.8,112.6 L252.9,113.4 L252.9,113.8 L253.0,114.6 L253.1,115.4 L253.1,116.2 L253.1,117.0 L253.1,117.8 L253.0,118.6 L253.0,119.4 L252.9,120.2 L252.9,120.6 L252.8,121.4 L252.7,122.2 L252.6,123.0 L252.5,123.6 L252.4,124.2 L252.2,125.0 L252.1,125.5 L251.9,126.2 L251.7,126.9 L251.5,127.4 L251.3,128.0 L251.1,128.6 L250.9,129.0 L250.6,129.8 L250.5,130.2 L250.1,131.0 L249.9,131.4 L249.7,132.0 L249.4,132.6 L249.3,133.0 L248.9,133.8 L248.7,134.2 L248.5,134.7 L248.2,135.4 L247.9,135.8 L247.6,136.2 L247.3,136.9 L247.0,137.4 L246.9,137.8 L246.5,138.3 L246.2,139.0 L245.9,139.4 L245.6,139.8 L245.3,140.4 L245.0,141.0 L244.6,141.4 L244.3,141.8 L244.0,142.2 L243.7,142.6 L243.3,143.1 L242.9,143.5 L242.5,144.0 L242.1,144.4 L241.7,144.8 L241.3,145.2 L240.9,145.6 L240.5,146.0 L240.1,146.4 L239.7,146.7 L239.3,147.0 L238.5,147.4 L238.1,147.7 L237.7,147.9 L237.0,148.2 L236.5,148.5 L236.1,148.7 L235.4,149.0 L235.0,149.4 L234.7,149.8 L234.4,150.2 L234.1,150.8 L233.7,151.4 L233.5,151.8 L233.3,152.3 L233.0,153.0 L232.6,153.4 L232.3,153.8 L232.0,154.2 L231.7,154.7 L231.3,155.2 L230.9,155.5 L230.5,156.0 L230.1,156.3 L229.7,156.6 L229.2,157.0 L228.5,157.3 L228.1,157.5 L227.3,157.7 L226.9,157.9"/>
<path d="M231.7,195.5 L230.9,195.6 L230.1,195.7 L229.3,195.7 L228.5,195.8 L227.7,195.7 L226.9,195.7 L226.1,195.6 L225.3,195.5 L224.9,195.4 L224.1,195.2 L223.3,195.0 L222.9,194.9 L222.1,194.6 L221.7,194.5 L221.0,194.2 L220.5,194.0 L220.1,193.8 L219.4,193.4 L218.9,193.1 L218.5,192.9 L218.0,192.6 L217.5,192.2 L217.0,191.8 L216.5,191.4 L216.1,191.0 L215.7,190.7 L215.3,190.3 L214.9,189.9 L214.5,189.4 L214.1,189.0 L213.9,188.6 L213.5,188.2 L213.3,187.8 L212.9,187.2 L212.5,186.6 L212.3,186.2 L212.1,185.7 L211.8,185.0 L211.6,184.6 L211.3,183.9 L211.1,183.4 L210.9,182.8 L210.8,182.2 L210.6,181.4 L210.5,181.0 L210.4,180.2 L210.3,179.4 L210.2,178.6 L210.2,177.8 L210.2,177.0 L210.3,176.2 L210.3,175.4 L210.4,174.6 L210.5,174.1 L210.7,173.4 L210.9,172.6 L211.0,172.2 L211.3,171.4 L211.4,171.0 L211.7,170.3 L212.0,169.8 L212.2,169.4 L212.5,168.7 L212.8,168.2 L213.0,167.8 L213.3,167.4 L213.7,166.8 L214.1,166.3 L214.5,165.8 L214.9,165.4 L215.2,165.0 L215.7,164.6 L216.1,164.2 L216.5,163.8 L216.9,163.5 L217.3,163.2 L217.7,162.9 L218.1,162.6 L218.7,162.2 L219.3,161.8 L219.7,161.6 L220.1,161.4 L220.9,161.0 L221.3,160.8 L221.9,160.6 L222.5,160.4 L223.0,160.2 L223.7,160.0 L224.5,159.8 L224.9,159.7 L225.7,159.5 L226.5,159.4 L227.0,159.4 L227.7,159.4 L228.5,159.4 L229.3,159.4 L229.7,159.4 L230.5,159.5 L231.3,159.6 L232.1,159.8 L232.5,159.9 L233.3,160.1 L233.7,160.2 L234.5,160.4 L234.9,160.6 L235.7,160.9 L236.1,161.1 L236.7,161.4 L237.3,161.7 L237.7,161.9 L238.1,162.2 L238.7,162.6 L239.3,163.0 L239.7,163.3 L240.1,163.6 L240.5,164.0 L240.9,164.3 L241.3,164.7 L241.7,165.2 L242.1,165.6 L242.5,166.1 L242.9,166.5 L243.2,167.0 L243.5,167.4 L243.7,167.8 L244.1,168.3 L244.4,169.0 L244.7,169.4 L244.9,169.8 L245.2,170.6 L245.4,171.0 L245.6,171.8 L245.8,172.2 L246.1,173.0 L246.1,173.4 L246.3,174.2 L246.4,175.0 L246.5,175.6 L246.6,176.2 L246.6,177.0 L246.6,177.8 L246.6,178.6 L246.5,179.4 L246.5,179.8 L246.3,180.6 L246.2,181.4 L246.1,181.9 L245.9,182.6 L245.7,183.2 L245.5,183.8 L245.3,184.3 L245.0,185.0 L244.9,185.4 L244.5,186.1 L244.2,186.6 L244.0,187.0 L243.7,187.4 L243.3,188.0 L242.9,188.6 L242.6,189.0 L242.2,189.4 L241.9,189.8 L241.5,190.2 L241.1,190.6 L240.7,191.0 L240.2,191.4 L239.8,191.8 L239.3,192.2 L238.9,192.4 L238.5,192.7 L238.0,193.0 L237.4,193.4 L236.9,193.7 L236.5,193.9 L235.8,194.2 L235.3,194.4 L234.8,194.6 L234.1,194.8 L233.6,195.0 L232.9,195.2 L232.1,195.4 L231.7,195.5"/>
<path d="M227.3,154.2 L226.5,154.4 L225.7,154.4 L224.9,154.3 L224.4,154.2 L223.7,153.9 L223.3,153.7 L222.9,153.4 L222.3,153.0 L221.8,152.6 L221.5,152.2 L221.1,151.8 L220.9,151.4 L220.5,150.9 L220.1,150.2 L219.8,149.8 L219.6,149.4 L219.3,148.9 L218.9,148.2 L218.8,147.8 L218.5,147.3 L218.1,146.7 L217.7,146.2 L217.4,145.8 L217.1,145.4 L216.7,145.0 L216.3,144.6 L216.0,144.2 L215.6,143.8 L215.3,143.4 L214.9,143.0 L214.5,142.5 L214.1,142.0 L213.7,141.5 L213.4,141.0 L213.2,140.6 L212.9,140.1 L212.5,139.5 L212.3,139.0 L212.1,138.5 L211.8,137.8 L211.7,137.4 L211.4,136.6 L211.3,135.8 L211.2,135.4 L211.0,134.6 L210.8,134.2 L210.9,133.4 L210.9,133.4 L210.8,132.6 L210.7,131.8 L210.7,131.0 L210.7,130.2 L210.8,129.4 L210.8,128.6 L210.8,127.8 L210.9,127.4 L210.9,126.7 L210.9,126.4 L211.0,125.8 L211.2,125.0 L211.3,124.2 L211.3,123.8 L211.5,123.0 L211.6,122.2 L211.7,121.7 L211.8,121.0 L212.0,120.2 L212.1,119.7 L212.3,119.0 L212.5,118.2 L212.6,117.8 L212.7,117.0 L212.9,116.4 L213.1,115.8 L213.3,115.0 L213.5,114.6 L213.7,113.9 L213.9,113.4 L214.1,113.0 L214.5,112.2 L214.7,111.8 L214.9,111.4 L215.3,110.7 L215.6,110.2 L215.9,109.8 L216.1,109.4 L216.5,108.9 L216.9,108.3 L217.3,107.8 L217.6,107.4 L217.9,107.0 L218.2,106.6 L218.6,106.2 L219.0,105.8 L219.4,105.4 L219.8,105.0 L220.3,104.6 L220.8,104.2 L221.3,103.8 L221.7,103.5 L222.1,103.2 L222.5,102.9 L223.0,102.6 L223.7,102.2 L224.1,102.0 L224.5,101.8 L225.2,101.4 L225.7,101.2 L226.1,101.0 L226.9,100.7 L227.3,100.5 L228.1,100.3 L228.5,100.1 L229.3,99.9 L229.8,99.8 L230.5,99.7 L231.3,99.5 L232.1,99.5 L232.9,99.4 L233.4,99.4 L233.9,99.4 L234.5,99.4 L235.3,99.4 L236.1,99.4 L236.9,99.5 L237.7,99.6 L238.5,99.8 L238.9,99.8 L239.7,100.1 L240.1,100.2 L240.9,100.5 L241.3,100.6 L242.1,101.0 L242.5,101.2 L242.9,101.4 L243.6,101.8 L244.1,102.1 L244.5,102.4 L244.9,102.7 L245.4,103.0 L245.9,103.4 L246.4,103.8 L246.9,104.2 L247.3,104.6 L247.7,105.0 L248.1,105.4 L248.4,105.8 L248.7,106.2 L249.0,106.6 L249.3,107.0 L249.7,107.6 L250.1,108.2 L250.3,108.6 L250.5,109.0 L250.8,109.8 L251.0,110.2 L251.2,111.0 L251.3,111.4 L251.4,112.2 L251.5,113.0 L251.6,113.8 L251.7,114.2 L251.7,115.0 L251.8,115.8 L251.8,116.6 L251.8,117.4 L251.8,118.2 L251.7,119.0 L251.7,119.4 L251.6,120.2 L251.5,121.0 L251.4,121.8 L251.3,122.6 L251.3,123.0 L251.1,123.8 L250.9,124.6 L250.8,125.0 L250.6,125.8 L250.5,126.3 L250.2,127.0 L250.1,127.4 L249.8,128.2 L249.6,128.6 L249.3,129.3 L249.1,129.8 L248.9,130.2 L248.6,131.0 L248.4,131.4 L248.1,132.1 L247.9,132.6 L247.7,133.1 L247.4,133.8 L247.1,134.2 L246.8,134.6 L246.5,135.3 L246.3,135.8 L246.0,136.2 L245.7,136.6 L245.3,137.4 L245.1,137.8 L244.9,138.2 L244.5,138.7 L244.2,139.4 L243.8,139.8 L243.5,140.2 L243.1,140.6 L242.8,141.0 L242.4,141.4 L242.1,141.8 L241.7,142.5 L241.3,142.9 L240.9,143.3 L240.5,143.7 L240.1,144.0 L239.7,144.4 L239.2,144.6 L238.6,145.0 L238.1,145.4 L237.7,145.6 L237.3,145.9 L236.5,146.2 L236.1,146.4 L235.7,146.6 L235.0,147.0 L234.5,147.3 L234.1,147.5 L233.7,147.9 L233.3,148.2 L232.9,148.7 L232.5,149.3 L232.2,149.8 L231.9,150.2 L231.6,150.6 L231.3,151.1 L230.9,151.6 L230.5,152.1 L230.1,152.5 L229.7,152.9 L229.3,153.2 L228.9,153.5 L228.4,153.8 L227.7,154.1 L227.3,154.2"/>
<path d="M231.3,194.3 L230.5,194.5 L229.7,194.5 L228.9,194.6 L228.1,194.6 L227.3,194.5 L226.5,194.5 L225.7,194.3 L225.3,194.2 L224.5,194.1 L223.8,193.8 L223.3,193.7 L222.6,193.4 L222.1,193.3 L221.7,193.0 L220.9,192.6 L220.5,192.5 L220.1,192.2 L219.4,191.8 L218.9,191.4 L218.5,191.2 L218.1,190.9 L217.7,190.5 L217.3,190.2 L216.9,189.8 L216.5,189.3 L216.1,188.9 L215.7,188.5 L215.3,187.9 L214.9,187.4 L214.6,187.0 L214.4,186.6 L214.1,186.1 L213.7,185.4 L213.5,185.0 L213.3,184.4 L213.0,183.8 L212.9,183.3 L212.6,182.6 L212.5,181.8 L212.4,181.4 L212.2,180.6 L212.1,179.8 L212.1,179.0 L212.1,178.6 L212.0,177.8 L212.1,177.2 L212.1,176.6 L212.1,175.8 L212.2,175.0 L212.5,174.2 L212.5,173.8 L212.7,173.0 L212.9,172.6 L213.3,171.8 L213.4,171.4 L213.7,170.8 L213.9,170.2 L214.2,169.8 L214.5,169.4 L214.9,168.7 L215.3,168.2 L215.5,167.8 L215.8,167.4 L216.2,167.0 L216.6,166.6 L216.9,166.2 L217.4,165.8 L217.8,165.4 L218.4,165.0 L218.9,164.6 L219.3,164.3 L219.7,164.0 L220.1,163.8 L220.9,163.4 L221.3,163.1 L221.7,163.0 L222.5,162.6 L222.9,162.4 L223.7,162.2 L224.1,162.1 L224.9,161.8 L225.6,161.8 L226.1,161.6 L226.9,161.5 L227.7,161.5 L228.5,161.4 L229.3,161.5 L230.1,161.5 L230.9,161.6 L231.5,161.8 L232.1,161.8 L232.9,162.0 L233.3,162.2 L234.1,162.4 L234.5,162.6 L235.3,163.0 L235.7,163.1 L236.3,163.4 L236.9,163.8 L237.3,163.9 L237.7,164.2 L238.2,164.6 L238.8,165.0 L239.2,165.4 L239.7,165.8 L240.1,166.2 L240.5,166.6 L240.9,167.0 L241.3,167.4 L241.6,167.8 L241.9,168.2 L242.1,168.6 L242.5,169.1 L242.9,169.8 L243.2,170.2 L243.3,170.6 L243.7,171.4 L243.9,171.8 L244.1,172.6 L244.4,173.0 L244.5,173.8 L244.7,174.2 L244.8,175.0 L244.9,175.8 L245.0,176.2 L245.1,177.0 L245.2,177.8 L245.1,178.6 L245.0,179.4 L244.9,180.1 L244.9,180.6 L244.8,181.4 L244.5,182.2 L244.5,182.6 L244.1,183.4 L244.1,183.8 L243.7,184.5 L243.6,185.0 L243.3,185.4 L242.9,186.2 L242.7,186.6 L242.4,187.0 L242.1,187.4 L241.7,188.0 L241.3,188.5 L240.9,189.0 L240.5,189.4 L240.1,189.8 L239.7,190.2 L239.3,190.6 L238.9,190.9 L238.5,191.3 L238.1,191.4 L237.6,191.8 L236.9,192.2 L236.5,192.5 L236.1,192.7 L235.4,193.0 L234.9,193.3 L234.5,193.4 L233.7,193.7 L233.3,193.8 L232.5,194.1 L231.7,194.2 L231.3,194.3"/>
<path d="M226.5,152.3 L225.7,152.4 L225.1,152.2 L224.5,151.9 L224.1,151.6 L223.7,151.3 L223.3,150.9 L222.9,150.4 L222.5,149.8 L222.3,149.4 L222.0,149.0 L221.7,148.4 L221.4,147.8 L221.2,147.4 L220.9,146.7 L220.7,146.2 L220.5,145.8 L220.1,145.0 L219.9,144.6 L219.7,144.2 L219.3,143.5 L219.0,143.0 L218.7,142.6 L218.4,142.2 L218.1,141.8 L217.7,141.3 L217.3,140.8 L216.9,140.3 L216.5,139.8 L216.2,139.4 L216.0,139.0 L215.7,138.6 L215.3,137.8 L215.0,137.4 L214.8,137.0 L214.5,136.4 L214.3,135.8 L214.1,135.3 L213.9,134.6 L213.7,134.2 L213.6,133.4 L213.3,132.6 L213.3,132.2 L213.3,131.4 L213.1,130.6 L213.1,129.8 L213.0,129.0 L213.0,128.2 L213.0,127.4 L213.0,126.6 L213.0,125.8 L213.0,125.0 L213.1,124.2 L213.1,123.4 L213.2,122.6 L213.3,122.1 L213.4,121.4 L213.5,120.6 L213.6,119.8 L213.7,119.2 L213.8,118.6 L214.0,117.8 L214.1,117.2 L214.2,116.6 L214.4,115.8 L214.5,115.4 L214.8,114.6 L214.9,114.1 L215.2,113.4 L215.4,113.0 L215.7,112.3 L215.9,111.8 L216.2,111.4 L216.5,110.8 L216.8,110.2 L217.1,109.8 L217.3,109.4 L217.7,108.9 L218.1,108.3 L218.5,107.8 L218.8,107.4 L219.2,107.0 L219.5,106.6 L219.9,106.2 L220.4,105.8 L220.8,105.4 L221.3,105.0 L221.7,104.7 L222.1,104.4 L222.5,104.1 L222.9,103.8 L223.5,103.4 L224.1,103.1 L224.5,102.9 L225.0,102.6 L225.7,102.3 L226.1,102.1 L226.8,101.8 L227.3,101.6 L228.0,101.4 L228.5,101.2 L229.3,101.0 L229.7,100.9 L230.5,100.8 L231.3,100.7 L232.1,100.6 L232.5,100.6 L233.3,100.6 L234.1,100.6 L234.5,100.6 L235.3,100.7 L236.1,100.8 L236.9,100.9 L237.3,101.0 L238.1,101.2 L238.7,101.4 L239.3,101.6 L239.8,101.8 L240.5,102.1 L240.9,102.2 L241.7,102.6 L242.1,102.8 L242.5,103.0 L243.1,103.4 L243.7,103.8 L244.1,104.1 L244.5,104.4 L244.9,104.7 L245.3,105.0 L245.8,105.4 L246.2,105.8 L246.5,106.2 L246.9,106.6 L247.3,107.1 L247.7,107.6 L248.1,108.2 L248.4,108.6 L248.6,109.0 L248.9,109.6 L249.2,110.2 L249.3,110.6 L249.5,111.4 L249.7,112.1 L249.8,112.6 L249.9,113.4 L250.0,114.2 L250.1,115.0 L250.1,115.8 L250.1,116.2 L250.1,117.0 L250.1,117.6 L250.1,118.2 L250.0,119.0 L249.9,119.8 L249.9,120.6 L249.7,121.4 L249.7,121.8 L249.6,122.6 L249.4,123.4 L249.3,123.8 L249.1,124.6 L248.9,125.2 L248.7,125.8 L248.5,126.2 L248.2,127.0 L248.1,127.4 L247.7,128.2 L247.5,128.6 L247.3,129.3 L247.0,129.8 L246.9,130.2 L246.5,130.8 L246.3,131.4 L246.0,131.8 L245.7,132.6 L245.4,133.0 L245.3,133.4 L244.9,134.0 L244.5,134.6 L244.2,135.0 L244.0,135.4 L243.7,135.8 L243.3,136.5 L242.9,137.0 L242.8,137.4 L242.4,137.8 L242.0,138.2 L241.7,138.8 L241.3,139.2 L240.9,139.6 L240.5,140.0 L240.1,140.6 L239.7,140.9 L239.3,141.2 L238.9,141.4 L238.5,141.9 L238.0,142.2 L237.3,142.5 L236.9,142.8 L236.5,143.0 L235.7,143.4 L235.3,143.6 L234.9,143.8 L234.1,144.1 L233.7,144.3 L233.2,144.6 L232.7,145.0 L232.2,145.4 L231.8,145.8 L231.5,146.2 L231.3,146.6 L230.9,147.2 L230.6,147.8 L230.3,148.2 L230.1,148.6 L229.7,149.3 L229.4,149.8 L229.1,150.2 L228.7,150.6 L228.5,151.0 L228.0,151.4 L227.5,151.8 L226.9,152.1 L226.5,152.3"/>
<path d="M231.7,193.9 L230.9,194.0 L230.1,194.1 L229.3,194.2 L228.5,194.2 L227.7,194.2 L226.9,194.1 L226.1,194.0 L225.3,193.9 L224.9,193.8 L224.1,193.5 L223.6,193.4 L222.9,193.2 L222.5,193.0 L221.7,192.6 L221.3,192.4 L220.8,192.2 L220.2,191.8 L219.7,191.5 L219.3,191.3 L218.9,191.0 L218.5,190.6 L218.0,190.2 L217.5,189.8 L217.1,189.4 L216.7,189.0 L216.4,188.6 L216.1,188.2 L215.7,187.7 L215.3,187.2 L214.9,186.6 L214.7,186.2 L214.5,185.8 L214.1,185.2 L213.9,184.6 L213.7,184.2 L213.4,183.4 L213.2,183.0 L213.0,182.2 L212.9,181.7 L212.7,181.0 L212.6,180.2 L212.5,179.4 L212.5,178.8 L212.5,178.2 L212.5,177.7 L212.5,177.1 L212.5,177.0 L212.6,176.2 L212.7,175.4 L212.9,174.6 L213.0,174.2 L213.2,173.4 L213.3,173.0 L213.6,172.2 L213.8,171.8 L214.1,171.0 L214.3,170.6 L214.6,170.2 L214.9,169.6 L215.3,169.0 L215.6,168.6 L215.9,168.2 L216.2,167.8 L216.5,167.4 L216.9,167.0 L217.3,166.6 L217.7,166.2 L218.2,165.8 L218.7,165.4 L219.2,165.0 L219.7,164.7 L220.1,164.4 L220.5,164.2 L221.2,163.8 L221.7,163.5 L222.1,163.4 L222.9,163.0 L223.3,162.9 L224.1,162.6 L224.5,162.5 L225.3,162.3 L226.1,162.2 L226.5,162.1 L227.3,162.0 L228.1,162.0 L228.9,162.0 L229.7,162.0 L230.5,162.1 L231.0,162.2 L231.7,162.3 L232.5,162.5 L232.9,162.6 L233.7,162.8 L234.2,163.0 L234.9,163.3 L235.3,163.5 L235.9,163.8 L236.5,164.1 L236.9,164.3 L237.4,164.6 L237.9,165.0 L238.4,165.4 L238.9,165.7 L239.3,166.1 L239.7,166.5 L240.1,166.9 L240.5,167.3 L240.9,167.7 L241.3,168.2 L241.5,168.6 L241.8,169.0 L242.1,169.4 L242.5,170.0 L242.8,170.6 L243.0,171.0 L243.3,171.6 L243.6,172.2 L243.7,172.6 L244.0,173.4 L244.1,174.0 L244.3,174.6 L244.4,175.4 L244.5,175.9 L244.6,176.6 L244.6,177.4 L244.7,178.2 L244.6,179.0 L244.6,179.8 L244.5,180.2 L244.4,181.0 L244.2,181.8 L244.1,182.2 L243.9,183.0 L243.7,183.6 L243.4,184.2 L243.3,184.6 L242.9,185.4 L242.7,185.8 L242.5,186.2 L242.1,186.8 L241.7,187.4 L241.4,187.8 L241.1,188.2 L240.8,188.6 L240.4,189.0 L240.0,189.4 L239.6,189.8 L239.2,190.2 L238.7,190.6 L238.2,191.0 L237.7,191.3 L237.3,191.6 L236.9,191.9 L236.3,192.2 L235.7,192.5 L235.3,192.7 L234.6,193.0 L234.1,193.2 L233.5,193.4 L232.9,193.6 L232.1,193.8 L231.7,193.9"/>
<path d="M226.5,150.2 L225.7,150.3 L225.3,150.2 L224.8,149.8 L224.5,149.4 L224.1,148.9 L223.8,148.2 L223.6,147.8 L223.3,147.0 L223.2,146.6 L223.0,145.8 L222.8,145.4 L222.6,144.6 L222.5,144.0 L222.4,143.4 L222.2,142.6 L222.1,142.2 L221.9,141.4 L221.7,140.8 L221.5,140.2 L221.3,139.8 L220.9,139.2 L220.5,138.7 L220.1,138.3 L219.7,137.9 L219.3,137.4 L219.0,137.0 L218.6,136.6 L218.4,136.2 L218.0,135.8 L217.7,135.4 L217.3,134.7 L217.1,134.2 L216.8,133.8 L216.5,133.1 L216.3,132.6 L216.1,132.2 L215.9,131.4 L215.7,130.8 L215.6,130.2 L215.4,129.4 L215.3,128.6 L215.3,128.2 L215.1,127.4 L215.1,126.6 L215.0,125.8 L215.0,125.0 L215.0,124.2 L214.9,123.4 L215.0,122.6 L215.0,121.8 L215.0,121.0 L215.1,120.2 L215.2,119.4 L215.3,118.6 L215.3,118.2 L215.5,117.4 L215.6,116.6 L215.7,116.0 L215.8,115.4 L216.0,114.6 L216.2,114.2 L216.4,113.4 L216.6,113.0 L216.9,112.3 L217.1,111.8 L217.3,111.4 L217.7,110.7 L218.0,110.2 L218.3,109.8 L218.5,109.4 L218.9,108.9 L219.3,108.3 L219.7,107.8 L220.1,107.4 L220.5,107.0 L220.9,106.6 L221.3,106.2 L221.7,105.9 L222.1,105.5 L222.5,105.2 L222.9,104.9 L223.4,104.6 L224.1,104.2 L224.5,103.9 L224.9,103.7 L225.6,103.4 L226.1,103.2 L226.5,103.0 L227.3,102.7 L227.7,102.6 L228.5,102.3 L229.0,102.2 L229.7,102.0 L230.5,101.9 L231.3,101.8 L231.7,101.8 L232.5,101.8 L233.3,101.8 L233.9,101.8 L234.5,101.9 L235.3,101.9 L236.1,102.1 L236.6,102.2 L237.3,102.4 L238.0,102.6 L238.5,102.8 L239.1,103.0 L239.7,103.3 L240.1,103.4 L240.8,103.8 L241.3,104.1 L241.7,104.3 L242.1,104.6 L242.7,105.0 L243.2,105.4 L243.7,105.8 L244.1,106.1 L244.5,106.5 L244.9,106.9 L245.3,107.3 L245.7,107.8 L246.0,108.2 L246.3,108.6 L246.5,109.0 L246.9,109.6 L247.2,110.2 L247.4,110.6 L247.6,111.4 L247.7,111.8 L247.9,112.6 L248.1,113.4 L248.1,113.8 L248.2,114.6 L248.3,115.4 L248.3,116.2 L248.3,117.0 L248.2,117.8 L248.2,118.6 L248.1,119.2 L248.0,119.8 L247.9,120.6 L247.8,121.4 L247.7,121.8 L247.5,122.6 L247.3,123.4 L247.2,123.8 L246.9,124.6 L246.7,125.0 L246.5,125.6 L246.2,126.2 L246.0,126.6 L245.7,127.3 L245.5,127.8 L245.3,128.2 L244.9,128.9 L244.6,129.4 L244.4,129.8 L244.1,130.4 L243.7,131.0 L243.5,131.4 L243.2,131.8 L242.9,132.4 L242.5,132.9 L242.2,133.4 L241.9,133.8 L241.7,134.2 L241.3,134.6 L240.9,135.2 L240.5,135.6 L240.1,136.0 L239.7,136.5 L239.3,136.8 L238.9,137.3 L238.5,137.6 L238.1,137.9 L237.7,138.2 L237.0,138.6 L236.5,138.9 L236.1,139.2 L235.5,139.4 L234.9,139.7 L234.5,139.8 L233.7,140.1 L233.3,140.2 L232.5,140.5 L232.1,140.6 L231.3,141.0 L230.9,141.3 L230.5,141.7 L230.2,142.2 L230.0,142.6 L229.7,143.4 L229.6,143.8 L229.4,144.6 L229.2,145.0 L229.0,145.8 L228.8,146.2 L228.6,147.0 L228.5,147.4 L228.1,148.2 L227.9,148.6 L227.7,149.0 L227.3,149.6 L226.9,149.9 L226.5,150.2"/>
<path d="M230.1,193.8 L229.3,193.9 L228.5,193.9 L227.7,193.9 L226.9,193.8 L226.5,193.8 L225.7,193.6 L224.9,193.5 L224.5,193.4 L223.7,193.1 L223.3,193.0 L222.5,192.7 L222.1,192.5 L221.5,192.2 L220.9,191.9 L220.5,191.6 L220.0,191.4 L219.5,191.0 L219.0,190.6 L218.5,190.3 L218.1,189.9 L217.7,189.5 L217.3,189.1 L216.9,188.7 L216.5,188.2 L216.2,187.8 L215.9,187.4 L215.6,187.0 L215.3,186.6 L214.9,185.9 L214.6,185.4 L214.4,185.0 L214.1,184.2 L213.9,183.8 L213.7,183.2 L213.5,182.6 L213.3,181.8 L213.2,181.4 L213.1,180.6 L212.9,179.8 L212.9,179.2 L212.9,178.6 L212.9,177.9 L212.9,177.7 L212.9,177.2 L213.0,176.6 L213.0,175.8 L213.2,175.0 L213.3,174.5 L213.5,173.8 L213.7,173.1 L213.9,172.6 L214.1,172.0 L214.4,171.4 L214.6,171.0 L214.9,170.5 L215.3,169.8 L215.5,169.4 L215.8,169.0 L216.1,168.6 L216.5,168.1 L216.9,167.7 L217.3,167.2 L217.7,166.8 L218.1,166.5 L218.5,166.1 L218.9,165.8 L219.4,165.4 L220.0,165.0 L220.5,164.7 L220.9,164.5 L221.4,164.2 L222.1,163.9 L222.5,163.7 L223.2,163.4 L223.7,163.2 L224.5,163.0 L224.9,162.9 L225.7,162.7 L226.5,162.6 L226.9,162.5 L227.7,162.5 L228.5,162.5 L229.3,162.5 L230.1,162.5 L230.7,162.6 L231.3,162.7 L232.1,162.9 L232.7,163.0 L233.3,163.2 L233.9,163.4 L234.5,163.6 L235.0,163.8 L235.7,164.1 L236.1,164.4 L236.5,164.6 L237.1,165.0 L237.7,165.3 L238.1,165.6 L238.5,166.0 L238.9,166.3 L239.3,166.7 L239.7,167.0 L240.1,167.4 L240.5,167.9 L240.9,168.4 L241.3,168.9 L241.6,169.4 L241.9,169.8 L242.2,170.2 L242.5,170.8 L242.8,171.4 L243.0,171.8 L243.3,172.6 L243.4,173.0 L243.7,173.8 L243.8,174.2 L244.0,175.0 L244.1,175.6 L244.2,176.2 L244.3,177.0 L244.3,177.8 L244.3,178.6 L244.3,179.4 L244.2,180.2 L244.1,180.8 L244.0,181.4 L243.8,182.2 L243.7,182.6 L243.4,183.4 L243.3,183.8 L242.9,184.6 L242.8,185.0 L242.5,185.5 L242.1,186.2 L241.9,186.6 L241.6,187.0 L241.3,187.4 L240.9,188.0 L240.5,188.4 L240.1,188.9 L239.7,189.3 L239.3,189.7 L238.9,190.0 L238.5,190.4 L238.1,190.7 L237.7,191.0 L237.1,191.4 L236.5,191.8 L236.1,192.0 L235.7,192.2 L234.9,192.6 L234.5,192.7 L233.8,193.0 L233.3,193.2 L232.5,193.4 L232.1,193.5 L231.3,193.7 L230.5,193.8 L230.1,193.8"/>
<path d="M226.1,146.2 L225.7,146.2 L225.2,145.8 L224.9,145.3 L224.7,144.6 L224.5,144.2 L224.3,143.4 L224.2,142.6 L224.1,142.2 L224.0,141.4 L224.0,140.6 L223.9,139.8 L223.9,139.0 L223.8,138.2 L223.8,137.4 L223.7,136.6 L223.6,136.2 L223.3,135.6 L222.9,135.1 L222.5,134.7 L222.1,134.4 L221.7,134.0 L221.3,133.7 L220.9,133.3 L220.5,132.9 L220.1,132.4 L219.7,131.8 L219.4,131.4 L219.2,131.0 L218.9,130.5 L218.5,129.8 L218.4,129.4 L218.1,128.8 L217.9,128.2 L217.7,127.5 L217.6,127.0 L217.4,126.2 L217.3,125.6 L217.2,125.0 L217.0,124.2 L216.9,123.4 L216.9,122.8 L216.8,122.2 L216.8,121.4 L216.8,120.6 L216.7,119.8 L216.8,119.0 L216.8,118.2 L216.9,117.4 L216.9,117.0 L217.0,116.2 L217.1,115.4 L217.3,114.6 L217.4,114.2 L217.7,113.4 L217.8,113.0 L218.1,112.3 L218.3,111.8 L218.5,111.4 L218.9,110.7 L219.2,110.2 L219.4,109.8 L219.7,109.4 L220.1,108.9 L220.5,108.4 L220.9,107.9 L221.3,107.5 L221.7,107.1 L222.1,106.7 L222.5,106.4 L222.9,106.1 L223.3,105.8 L223.9,105.4 L224.5,105.0 L224.9,104.8 L225.3,104.6 L226.1,104.2 L226.5,104.0 L227.1,103.8 L227.7,103.6 L228.4,103.4 L228.9,103.3 L229.7,103.1 L230.5,103.0 L230.9,103.0 L231.7,102.9 L232.5,102.9 L233.3,103.0 L233.7,103.0 L234.5,103.1 L235.3,103.2 L236.0,103.4 L236.5,103.5 L237.3,103.8 L237.7,104.0 L238.3,104.2 L238.9,104.5 L239.3,104.7 L239.9,105.0 L240.5,105.4 L240.9,105.7 L241.3,105.9 L241.7,106.2 L242.1,106.6 L242.6,107.0 L243.0,107.4 L243.4,107.8 L243.8,108.2 L244.1,108.6 L244.5,109.2 L244.9,109.8 L245.1,110.2 L245.3,110.6 L245.7,111.4 L245.8,111.8 L246.0,112.6 L246.1,113.0 L246.2,113.8 L246.3,114.6 L246.4,115.4 L246.4,116.2 L246.4,117.0 L246.3,117.8 L246.2,118.6 L246.1,119.4 L246.0,119.8 L245.9,120.6 L245.7,121.4 L245.6,121.8 L245.3,122.6 L245.2,123.0 L244.9,123.6 L244.6,124.2 L244.4,124.6 L244.1,125.2 L243.8,125.8 L243.6,126.2 L243.3,126.7 L242.9,127.3 L242.6,127.8 L242.4,128.2 L242.1,128.6 L241.7,129.2 L241.3,129.8 L241.0,130.2 L240.7,130.6 L240.3,131.0 L240.0,131.4 L239.7,131.8 L239.3,132.2 L238.9,132.6 L238.5,133.1 L238.1,133.4 L237.7,133.8 L237.0,134.2 L236.5,134.6 L236.1,134.8 L235.7,135.0 L234.9,135.4 L234.5,135.6 L233.7,135.8 L233.3,135.9 L232.5,136.1 L232.0,136.2 L231.3,136.3 L230.5,136.4 L229.7,136.5 L229.3,136.7 L228.8,137.0 L228.5,137.6 L228.3,138.2 L228.2,139.0 L228.2,139.8 L228.1,140.5 L228.0,141.0 L227.9,141.8 L227.8,142.6 L227.7,143.3 L227.5,143.8 L227.3,144.6 L227.1,145.0 L226.9,145.5 L226.5,146.0 L226.1,146.2"/>
<path d="M230.9,193.4 L230.1,193.5 L229.3,193.6 L228.5,193.6 L227.7,193.6 L226.9,193.5 L226.1,193.4 L225.7,193.3 L224.9,193.2 L224.3,193.0 L223.7,192.8 L223.2,192.6 L222.5,192.3 L222.1,192.2 L221.3,191.8 L220.9,191.5 L220.5,191.3 L220.0,191.0 L219.5,190.6 L218.9,190.2 L218.5,189.8 L218.1,189.4 L217.7,189.0 L217.3,188.7 L216.9,188.2 L216.6,187.8 L216.3,187.4 L216.0,187.0 L215.7,186.5 L215.3,185.9 L215.0,185.4 L214.8,185.0 L214.5,184.3 L214.3,183.8 L214.1,183.2 L213.9,182.6 L213.7,181.9 L213.6,181.4 L213.5,180.6 L213.3,179.8 L213.3,179.2 L213.3,178.6 L213.3,177.8 L213.3,177.3 L213.3,176.6 L213.5,175.8 L213.6,175.0 L213.7,174.6 L213.9,173.8 L214.1,173.3 L214.3,172.6 L214.5,172.2 L214.9,171.4 L215.1,171.0 L215.3,170.6 L215.7,169.9 L216.1,169.4 L216.4,169.0 L216.7,168.6 L217.0,168.2 L217.4,167.8 L217.8,167.4 L218.2,167.0 L218.6,166.6 L219.1,166.2 L219.6,165.8 L220.1,165.5 L220.5,165.2 L220.9,165.0 L221.6,164.6 L222.1,164.4 L222.5,164.2 L223.3,163.9 L223.7,163.7 L224.5,163.5 L224.9,163.4 L225.7,163.2 L226.5,163.0 L226.9,163.0 L227.7,162.9 L228.5,162.9 L229.3,162.9 L230.1,163.0 L230.5,163.0 L231.3,163.1 L232.1,163.3 L232.5,163.4 L233.3,163.6 L233.8,163.8 L234.5,164.1 L234.9,164.2 L235.6,164.6 L236.1,164.8 L236.5,165.1 L237.0,165.4 L237.6,165.8 L238.1,166.2 L238.5,166.5 L238.9,166.8 L239.3,167.2 L239.7,167.6 L240.1,168.1 L240.5,168.5 L240.9,169.0 L241.1,169.4 L241.4,169.8 L241.7,170.2 L242.1,170.8 L242.4,171.4 L242.5,171.8 L242.9,172.6 L243.0,173.0 L243.3,173.7 L243.5,174.2 L243.6,175.0 L243.7,175.4 L243.9,176.2 L243.9,177.0 L244.0,177.8 L244.0,178.6 L244.0,179.4 L243.9,180.2 L243.7,181.0 L243.7,181.4 L243.4,182.2 L243.3,182.8 L243.1,183.4 L242.9,183.9 L242.6,184.6 L242.4,185.0 L242.1,185.6 L241.8,186.2 L241.5,186.6 L241.3,187.0 L240.9,187.5 L240.5,188.0 L240.1,188.5 L239.7,188.9 L239.3,189.3 L238.9,189.7 L238.5,190.0 L238.1,190.3 L237.7,190.6 L237.2,191.0 L236.6,191.4 L236.1,191.7 L235.7,191.9 L235.0,192.2 L234.5,192.4 L234.1,192.6 L233.3,192.9 L232.9,193.0 L232.1,193.2 L231.3,193.4 L230.9,193.4"/>
<path d="M232.9,131.9 L232.1,132.0 L231.3,132.1 L230.5,132.2 L229.7,132.2 L228.9,132.1 L228.1,132.1 L227.3,132.0 L226.5,131.9 L226.1,131.7 L225.3,131.4 L224.9,131.2 L224.5,131.0 L223.9,130.6 L223.3,130.2 L222.9,129.9 L222.5,129.5 L222.1,129.1 L221.7,128.6 L221.3,128.2 L221.0,127.8 L220.8,127.4 L220.5,127.0 L220.2,126.2 L220.0,125.8 L219.7,125.1 L219.5,124.6 L219.3,123.8 L219.2,123.4 L218.9,122.6 L218.8,122.2 L218.6,121.4 L218.5,120.6 L218.5,120.2 L218.4,119.4 L218.3,118.6 L218.3,117.8 L218.3,117.0 L218.3,116.2 L218.4,115.4 L218.5,114.8 L218.6,114.2 L218.8,113.4 L219.0,113.0 L219.3,112.2 L219.5,111.8 L219.7,111.3 L220.1,110.6 L220.3,110.2 L220.6,109.8 L220.9,109.4 L221.3,108.8 L221.7,108.4 L222.1,108.0 L222.5,107.6 L222.9,107.2 L223.3,106.9 L223.7,106.6 L224.3,106.2 L224.9,105.8 L225.3,105.6 L225.7,105.4 L226.5,105.1 L226.9,104.9 L227.7,104.6 L228.1,104.5 L228.9,104.3 L229.6,104.2 L230.1,104.1 L230.9,104.1 L231.7,104.0 L232.5,104.1 L233.3,104.2 L233.7,104.2 L234.5,104.4 L235.3,104.6 L235.7,104.7 L236.5,105.0 L236.9,105.1 L237.5,105.4 L238.1,105.7 L238.5,105.9 L239.0,106.2 L239.6,106.6 L240.1,107.0 L240.5,107.3 L240.9,107.7 L241.3,108.0 L241.7,108.4 L242.1,108.9 L242.5,109.4 L242.8,109.8 L243.0,110.2 L243.3,110.6 L243.7,111.4 L243.8,111.8 L244.1,112.6 L244.2,113.0 L244.3,113.8 L244.5,114.6 L244.5,115.1 L244.5,115.8 L244.5,116.6 L244.5,117.0 L244.4,117.8 L244.3,118.6 L244.1,119.4 L244.0,119.8 L243.8,120.6 L243.6,121.0 L243.3,121.8 L243.1,122.2 L242.9,122.7 L242.5,123.4 L242.3,123.8 L242.1,124.2 L241.7,124.7 L241.3,125.3 L241.0,125.8 L240.6,126.2 L240.3,126.6 L240.0,127.0 L239.7,127.4 L239.3,127.8 L238.9,128.3 L238.5,128.7 L238.1,129.0 L237.7,129.4 L237.2,129.8 L236.7,130.2 L236.1,130.6 L235.7,130.8 L235.3,131.1 L234.6,131.4 L234.1,131.5 L233.3,131.8 L232.9,131.9"/>
<path d="M231.7,193.0 L230.9,193.2 L230.1,193.3 L229.3,193.3 L228.5,193.3 L227.7,193.3 L226.9,193.2 L226.1,193.1 L225.6,193.0 L224.9,192.9 L224.1,192.6 L223.7,192.5 L222.9,192.2 L222.5,192.0 L222.0,191.8 L221.3,191.4 L220.9,191.2 L220.5,190.9 L220.0,190.6 L219.5,190.2 L219.0,189.8 L218.5,189.4 L218.1,189.0 L217.7,188.6 L217.4,188.2 L217.0,187.8 L216.7,187.4 L216.4,187.0 L216.1,186.6 L215.7,185.9 L215.4,185.4 L215.2,185.0 L214.9,184.3 L214.7,183.8 L214.5,183.3 L214.3,182.6 L214.1,182.0 L213.9,181.4 L213.8,180.6 L213.7,179.8 L213.7,179.4 L213.7,178.6 L213.7,177.8 L213.7,177.4 L213.8,176.6 L213.9,175.8 L214.0,175.0 L214.1,174.6 L214.4,173.8 L214.5,173.4 L214.8,172.6 L215.0,172.2 L215.3,171.5 L215.6,171.0 L215.8,170.6 L216.1,170.1 L216.5,169.6 L216.9,169.0 L217.2,168.6 L217.6,168.2 L218.0,167.8 L218.4,167.4 L218.8,167.0 L219.3,166.6 L219.7,166.3 L220.1,166.0 L220.5,165.8 L221.1,165.4 L221.7,165.1 L222.1,164.9 L222.7,164.6 L223.3,164.3 L223.7,164.2 L224.5,163.9 L225.0,163.8 L225.7,163.6 L226.5,163.5 L227.3,163.4 L227.7,163.4 L228.5,163.3 L229.3,163.4 L230.0,163.4 L230.5,163.5 L231.3,163.6 L232.1,163.8 L232.5,163.8 L233.3,164.1 L233.7,164.2 L234.5,164.5 L234.9,164.7 L235.5,165.0 L236.1,165.3 L236.5,165.6 L236.9,165.8 L237.5,166.2 L238.0,166.6 L238.5,167.0 L238.9,167.4 L239.3,167.8 L239.7,168.2 L240.0,168.6 L240.4,169.0 L240.7,169.4 L240.9,169.8 L241.3,170.3 L241.7,171.0 L241.9,171.4 L242.1,171.8 L242.5,172.6 L242.7,173.0 L242.9,173.6 L243.1,174.2 L243.3,175.0 L243.4,175.4 L243.5,176.2 L243.6,177.0 L243.6,177.8 L243.6,178.6 L243.6,179.4 L243.5,180.2 L243.4,181.0 L243.3,181.6 L243.1,182.2 L242.9,183.0 L242.8,183.4 L242.5,184.0 L242.3,184.6 L242.1,185.0 L241.7,185.7 L241.4,186.2 L241.2,186.6 L240.9,187.0 L240.5,187.5 L240.1,188.0 L239.7,188.5 L239.3,188.9 L238.9,189.3 L238.5,189.6 L238.1,190.0 L237.7,190.3 L237.3,190.6 L236.7,191.0 L236.1,191.4 L235.7,191.6 L235.2,191.8 L234.5,192.1 L234.1,192.3 L233.3,192.6 L232.9,192.7 L232.1,192.9 L231.7,193.0"/>
<path d="M231.3,127.8 L230.5,127.8 L229.8,127.8 L229.3,127.8 L228.5,127.6 L227.7,127.5 L227.3,127.4 L226.5,127.1 L226.1,126.9 L225.5,126.6 L224.9,126.3 L224.5,126.0 L224.1,125.6 L223.7,125.3 L223.3,124.9 L222.9,124.4 L222.5,123.9 L222.2,123.4 L221.9,123.0 L221.7,122.6 L221.3,121.9 L221.1,121.4 L220.9,121.0 L220.6,120.2 L220.4,119.8 L220.2,119.0 L220.1,118.5 L220.0,117.8 L219.8,117.0 L219.8,116.2 L219.8,115.4 L219.8,114.6 L220.0,113.8 L220.1,113.2 L220.3,112.6 L220.5,112.1 L220.8,111.4 L221.0,111.0 L221.3,110.5 L221.7,109.8 L222.1,109.4 L222.4,109.0 L222.8,108.6 L223.2,108.2 L223.7,107.8 L224.1,107.4 L224.5,107.2 L224.9,106.9 L225.4,106.6 L226.1,106.3 L226.5,106.1 L227.3,105.8 L227.7,105.7 L228.5,105.5 L229.1,105.4 L229.7,105.3 L230.5,105.3 L231.3,105.3 L232.1,105.4 L232.5,105.4 L233.3,105.6 L234.1,105.8 L234.5,105.9 L235.3,106.2 L235.7,106.3 L236.3,106.6 L236.9,106.9 L237.3,107.2 L237.7,107.4 L238.2,107.8 L238.8,108.2 L239.2,108.6 L239.6,109.0 L240.0,109.4 L240.3,109.8 L240.7,110.2 L240.9,110.6 L241.3,111.2 L241.6,111.8 L241.8,112.2 L242.0,113.0 L242.1,113.4 L242.3,114.2 L242.4,115.0 L242.4,115.8 L242.4,116.6 L242.3,117.4 L242.1,118.2 L242.0,118.6 L241.8,119.4 L241.6,119.8 L241.3,120.5 L241.0,121.0 L240.8,121.4 L240.5,121.9 L240.1,122.5 L239.7,123.0 L239.3,123.4 L239.0,123.8 L238.6,124.2 L238.2,124.6 L237.7,125.0 L237.3,125.4 L236.9,125.7 L236.5,126.0 L236.1,126.3 L235.6,126.6 L234.9,126.9 L234.5,127.1 L233.7,127.4 L233.3,127.5 L232.5,127.7 L231.7,127.8 L231.3,127.8"/>
<path d="M229.7,193.0 L228.9,193.0 L228.1,193.0 L227.5,193.0 L226.9,192.9 L226.1,192.8 L225.3,192.7 L224.9,192.6 L224.1,192.3 L223.7,192.2 L222.9,191.9 L222.5,191.7 L221.9,191.4 L221.3,191.1 L220.9,190.8 L220.5,190.6 L220.0,190.2 L219.5,189.8 L219.0,189.4 L218.5,189.0 L218.2,188.6 L217.8,188.2 L217.5,187.8 L217.1,187.4 L216.8,187.0 L216.5,186.5 L216.1,185.9 L215.8,185.4 L215.6,185.0 L215.3,184.3 L215.1,183.8 L214.9,183.3 L214.7,182.6 L214.5,182.0 L214.3,181.4 L214.2,180.6 L214.1,179.8 L214.1,179.4 L214.0,178.6 L214.1,177.8 L214.1,177.3 L214.2,176.6 L214.3,175.8 L214.5,175.0 L214.6,174.6 L214.8,173.8 L214.9,173.4 L215.3,172.6 L215.5,172.2 L215.7,171.7 L216.1,171.0 L216.3,170.6 L216.6,170.2 L216.9,169.8 L217.3,169.2 L217.7,168.8 L218.1,168.3 L218.5,167.9 L218.9,167.6 L219.3,167.2 L219.7,166.9 L220.1,166.6 L220.6,166.2 L221.3,165.8 L221.7,165.6 L222.1,165.4 L222.9,165.0 L223.3,164.8 L223.9,164.6 L224.5,164.4 L225.3,164.2 L225.7,164.1 L226.5,164.0 L227.3,163.9 L228.1,163.8 L228.5,163.8 L228.9,163.8 L229.7,163.8 L230.5,163.9 L231.3,164.0 L232.1,164.2 L232.5,164.3 L233.3,164.5 L233.7,164.7 L234.5,165.0 L234.9,165.2 L235.3,165.4 L236.1,165.8 L236.5,166.1 L236.9,166.3 L237.3,166.6 L237.8,167.0 L238.3,167.4 L238.7,167.8 L239.1,168.2 L239.5,168.6 L239.9,169.0 L240.2,169.4 L240.5,169.8 L240.9,170.4 L241.3,171.0 L241.5,171.4 L241.7,171.8 L242.1,172.6 L242.3,173.0 L242.5,173.7 L242.7,174.2 L242.9,174.9 L243.0,175.4 L243.1,176.2 L243.3,177.0 L243.3,177.7 L243.3,178.2 L243.3,178.6 L243.3,179.0 L243.3,179.4 L243.2,180.2 L243.1,181.0 L242.9,181.8 L242.8,182.2 L242.6,183.0 L242.4,183.4 L242.1,184.2 L241.9,184.6 L241.7,185.1 L241.3,185.8 L241.1,186.2 L240.8,186.6 L240.5,187.0 L240.1,187.6 L239.7,188.0 L239.3,188.5 L238.9,188.9 L238.5,189.3 L238.1,189.6 L237.7,189.9 L237.3,190.2 L236.8,190.6 L236.2,191.0 L235.7,191.3 L235.3,191.5 L234.6,191.8 L234.1,192.0 L233.6,192.2 L232.9,192.4 L232.3,192.6 L231.7,192.7 L230.9,192.9 L230.1,193.0 L229.7,193.0"/>
<path d="M233.3,124.2 L232.5,124.4 L231.7,124.4 L230.9,124.4 L230.1,124.4 L229.3,124.3 L228.9,124.2 L228.1,123.9 L227.7,123.8 L226.9,123.4 L226.5,123.2 L226.1,122.9 L225.7,122.6 L225.2,122.2 L224.8,121.8 L224.4,121.4 L224.1,121.0 L223.7,120.4 L223.3,119.8 L223.1,119.4 L222.9,119.0 L222.6,118.2 L222.5,117.8 L222.3,117.0 L222.2,116.2 L222.2,115.4 L222.2,114.6 L222.4,113.8 L222.5,113.3 L222.7,112.6 L222.9,112.2 L223.3,111.5 L223.6,111.0 L223.9,110.6 L224.2,110.2 L224.6,109.8 L225.1,109.4 L225.5,109.0 L226.1,108.6 L226.5,108.4 L226.9,108.2 L227.7,107.9 L228.1,107.7 L228.9,107.5 L229.3,107.4 L230.1,107.3 L230.9,107.2 L231.7,107.3 L232.5,107.4 L232.9,107.4 L233.7,107.6 L234.4,107.8 L234.9,108.0 L235.4,108.2 L236.1,108.6 L236.5,108.8 L236.9,109.1 L237.3,109.4 L237.8,109.8 L238.2,110.2 L238.6,110.6 L238.9,111.0 L239.3,111.6 L239.6,112.2 L239.8,112.6 L240.1,113.4 L240.2,113.8 L240.4,114.6 L240.4,115.4 L240.4,116.2 L240.3,117.0 L240.1,117.8 L240.0,118.2 L239.7,119.0 L239.5,119.4 L239.3,119.8 L238.9,120.4 L238.5,120.9 L238.1,121.3 L237.7,121.7 L237.3,122.1 L236.9,122.4 L236.5,122.7 L236.1,123.0 L235.4,123.4 L234.9,123.6 L234.5,123.8 L233.7,124.1 L233.3,124.2"/>
<path d="M230.9,192.6 L230.1,192.7 L229.3,192.8 L228.5,192.8 L227.7,192.7 L226.9,192.7 L226.5,192.6 L225.7,192.5 L224.9,192.3 L224.5,192.1 L223.7,191.9 L223.3,191.7 L222.6,191.4 L222.1,191.2 L221.7,191.0 L221.1,190.6 L220.5,190.2 L220.1,189.9 L219.7,189.6 L219.3,189.2 L218.9,188.9 L218.5,188.5 L218.1,188.0 L217.7,187.6 L217.3,187.1 L217.0,186.6 L216.7,186.2 L216.5,185.8 L216.1,185.1 L215.8,184.6 L215.7,184.2 L215.3,183.4 L215.2,183.0 L214.9,182.2 L214.9,181.8 L214.7,181.0 L214.6,180.2 L214.5,179.4 L214.5,179.0 L214.5,178.3 L214.5,178.1 L214.5,177.7 L214.5,177.0 L214.7,176.2 L214.8,175.4 L214.9,175.0 L215.2,174.2 L215.3,173.8 L215.6,173.0 L215.8,172.6 L216.1,172.0 L216.4,171.4 L216.7,171.0 L216.9,170.6 L217.3,170.0 L217.7,169.5 L218.1,169.0 L218.5,168.6 L218.9,168.2 L219.3,167.9 L219.7,167.5 L220.1,167.2 L220.5,166.9 L221.0,166.6 L221.6,166.2 L222.1,165.9 L222.5,165.7 L223.2,165.4 L223.7,165.2 L224.3,165.0 L224.9,164.8 L225.7,164.6 L226.1,164.5 L226.9,164.4 L227.7,164.3 L228.5,164.3 L229.3,164.3 L230.1,164.4 L230.9,164.5 L231.6,164.6 L232.1,164.7 L232.9,164.9 L233.3,165.0 L234.1,165.3 L234.5,165.5 L235.1,165.8 L235.7,166.1 L236.1,166.4 L236.5,166.6 L237.1,167.0 L237.6,167.4 L238.1,167.8 L238.5,168.2 L238.9,168.6 L239.3,169.0 L239.7,169.4 L240.0,169.8 L240.3,170.2 L240.6,170.6 L240.9,171.2 L241.3,171.8 L241.5,172.2 L241.7,172.7 L242.0,173.4 L242.1,173.8 L242.4,174.6 L242.5,175.0 L242.7,175.8 L242.8,176.6 L242.9,177.2 L242.9,177.8 L243.0,178.6 L242.9,179.4 L242.9,180.0 L242.8,180.6 L242.7,181.4 L242.5,182.1 L242.4,182.6 L242.1,183.4 L242.0,183.8 L241.7,184.4 L241.4,185.0 L241.2,185.4 L240.9,185.9 L240.5,186.6 L240.2,187.0 L239.9,187.4 L239.6,187.8 L239.2,188.2 L238.8,188.6 L238.4,189.0 L237.9,189.4 L237.4,189.8 L236.9,190.2 L236.5,190.5 L236.1,190.7 L235.6,191.0 L234.9,191.4 L234.5,191.6 L233.9,191.8 L233.3,192.0 L232.8,192.2 L232.1,192.4 L231.3,192.6 L230.9,192.6"/>
<path d="M233.7,121.8 L232.9,122.0 L232.1,122.1 L231.3,122.1 L230.5,122.1 L229.7,122.0 L229.2,121.8 L228.5,121.6 L228.1,121.4 L227.4,121.0 L226.9,120.7 L226.5,120.3 L226.1,120.0 L225.7,119.5 L225.3,119.0 L225.1,118.6 L224.8,118.2 L224.5,117.4 L224.4,117.0 L224.2,116.2 L224.2,115.4 L224.3,114.6 L224.4,113.8 L224.6,113.4 L224.9,112.7 L225.2,112.2 L225.5,111.8 L225.8,111.4 L226.2,111.0 L226.6,110.6 L227.2,110.2 L227.7,109.9 L228.1,109.7 L228.8,109.4 L229.3,109.3 L230.1,109.1 L230.9,109.0 L231.3,109.0 L231.7,109.0 L232.5,109.1 L233.3,109.2 L233.8,109.4 L234.5,109.7 L234.9,109.8 L235.5,110.2 L236.1,110.6 L236.5,110.9 L236.9,111.3 L237.3,111.8 L237.6,112.2 L237.9,112.6 L238.1,113.1 L238.4,113.8 L238.5,114.3 L238.6,115.0 L238.7,115.8 L238.6,116.6 L238.5,117.0 L238.2,117.8 L238.1,118.2 L237.7,118.9 L237.3,119.4 L237.0,119.8 L236.6,120.2 L236.1,120.6 L235.7,120.9 L235.3,121.1 L234.8,121.4 L234.1,121.7 L233.7,121.8"/>
<path d="M231.7,192.2 L230.9,192.4 L230.1,192.5 L229.3,192.5 L228.5,192.5 L227.7,192.5 L226.9,192.4 L226.1,192.3 L225.7,192.2 L224.9,192.0 L224.3,191.8 L223.7,191.6 L223.3,191.4 L222.5,191.0 L222.1,190.8 L221.7,190.6 L221.1,190.2 L220.5,189.8 L220.1,189.5 L219.7,189.2 L219.3,188.8 L218.9,188.4 L218.5,188.0 L218.1,187.5 L217.7,187.0 L217.4,186.6 L217.1,186.2 L216.9,185.8 L216.5,185.1 L216.2,184.6 L216.1,184.2 L215.7,183.4 L215.6,183.0 L215.4,182.2 L215.3,181.8 L215.1,181.0 L215.0,180.2 L215.0,179.4 L214.9,178.6 L215.0,177.8 L215.0,177.0 L215.2,176.2 L215.3,175.5 L215.4,175.0 L215.7,174.2 L215.8,173.8 L216.1,173.1 L216.3,172.6 L216.5,172.2 L216.9,171.6 L217.3,171.0 L217.5,170.6 L217.8,170.2 L218.2,169.8 L218.5,169.4 L218.9,169.0 L219.3,168.6 L219.7,168.2 L220.2,167.8 L220.7,167.4 L221.3,167.0 L221.7,166.8 L222.1,166.6 L222.8,166.2 L223.3,166.0 L223.7,165.8 L224.5,165.5 L224.9,165.4 L225.7,165.2 L226.5,165.0 L226.9,165.0 L227.7,164.9 L228.5,164.8 L229.3,164.9 L230.1,164.9 L230.9,165.0 L231.3,165.1 L232.1,165.3 L232.7,165.4 L233.3,165.6 L233.8,165.8 L234.5,166.1 L234.9,166.3 L235.5,166.6 L236.1,167.0 L236.5,167.2 L236.9,167.5 L237.3,167.8 L237.8,168.2 L238.2,168.6 L238.7,169.0 L239.0,169.4 L239.4,169.8 L239.7,170.2 L240.1,170.7 L240.5,171.4 L240.8,171.8 L241.0,172.2 L241.3,172.8 L241.5,173.4 L241.7,173.8 L242.0,174.6 L242.1,175.0 L242.3,175.8 L242.4,176.6 L242.5,177.0 L242.6,177.8 L242.6,178.6 L242.6,179.4 L242.5,180.2 L242.5,180.6 L242.4,181.4 L242.2,182.2 L242.0,182.6 L241.8,183.4 L241.6,183.8 L241.3,184.6 L241.1,185.0 L240.9,185.4 L240.5,186.1 L240.1,186.6 L239.8,187.0 L239.6,187.4 L239.2,187.8 L238.8,188.2 L238.4,188.6 L238.0,189.0 L237.6,189.4 L237.0,189.8 L236.5,190.2 L236.1,190.4 L235.7,190.7 L235.1,191.0 L234.5,191.3 L234.1,191.5 L233.3,191.8 L232.9,191.9 L232.1,192.1 L231.7,192.2"/>
<path d="M233.3,120.2 L232.5,120.4 L231.7,120.6 L230.9,120.5 L230.1,120.3 L229.5,120.2 L228.9,119.9 L228.5,119.7 L228.0,119.4 L227.6,119.0 L227.2,118.6 L226.9,118.2 L226.5,117.5 L226.4,117.0 L226.1,116.4 L226.1,115.8 L226.1,115.0 L226.1,114.6 L226.5,113.8 L226.7,113.4 L226.9,112.9 L227.3,112.5 L227.7,112.1 L228.1,111.8 L228.5,111.4 L229.3,111.1 L229.7,111.0 L230.5,110.8 L231.3,110.6 L232.1,110.7 L232.9,110.9 L233.5,111.0 L234.1,111.3 L234.5,111.5 L235.0,111.8 L235.4,112.2 L235.8,112.6 L236.1,113.0 L236.5,113.7 L236.6,114.2 L236.9,114.8 L236.9,115.4 L236.9,116.2 L236.9,116.6 L236.5,117.4 L236.3,117.8 L236.1,118.2 L235.7,118.7 L235.3,119.1 L234.9,119.4 L234.5,119.8 L233.7,120.1 L233.3,120.2"/>
<path d="M230.5,192.2 L229.7,192.3 L228.9,192.3 L228.1,192.3 L227.3,192.2 L226.9,192.2 L226.1,192.0 L225.3,191.8 L224.9,191.7 L224.1,191.4 L223.7,191.3 L223.1,191.0 L222.5,190.7 L222.1,190.5 L221.6,190.2 L221.0,189.8 L220.5,189.4 L220.1,189.1 L219.7,188.7 L219.3,188.3 L218.9,187.9 L218.5,187.5 L218.2,187.0 L217.9,186.6 L217.6,186.2 L217.3,185.7 L216.9,185.0 L216.7,184.6 L216.5,184.2 L216.2,183.4 L216.1,183.0 L215.8,182.2 L215.7,181.7 L215.6,181.0 L215.5,180.2 L215.4,179.4 L215.4,178.6 L215.4,177.8 L215.5,177.0 L215.7,176.2 L215.8,175.8 L215.9,175.0 L216.1,174.5 L216.4,173.8 L216.6,173.4 L216.9,172.7 L217.1,172.2 L217.4,171.8 L217.7,171.3 L218.1,170.8 L218.5,170.3 L218.9,169.8 L219.3,169.4 L219.7,169.0 L220.1,168.6 L220.5,168.3 L220.9,168.0 L221.3,167.7 L221.8,167.4 L222.5,167.0 L222.9,166.8 L223.3,166.6 L224.1,166.3 L224.5,166.1 L225.3,165.9 L225.7,165.8 L226.5,165.6 L227.3,165.5 L228.1,165.4 L228.9,165.4 L229.7,165.4 L230.5,165.5 L231.3,165.6 L232.0,165.8 L232.5,165.9 L233.3,166.2 L233.7,166.3 L234.3,166.6 L234.9,166.9 L235.3,167.1 L235.9,167.4 L236.5,167.8 L236.9,168.1 L237.3,168.4 L237.7,168.8 L238.1,169.2 L238.5,169.5 L238.9,170.0 L239.3,170.4 L239.7,170.9 L240.0,171.4 L240.2,171.8 L240.5,172.2 L240.9,172.9 L241.1,173.4 L241.3,173.9 L241.6,174.6 L241.7,175.0 L241.9,175.8 L242.1,176.6 L242.1,177.0 L242.2,177.8 L242.3,178.6 L242.3,179.4 L242.2,180.2 L242.1,181.0 L242.0,181.4 L241.8,182.2 L241.7,182.7 L241.5,183.4 L241.3,183.9 L241.0,184.6 L240.8,185.0 L240.5,185.5 L240.1,186.2 L239.8,186.6 L239.5,187.0 L239.2,187.4 L238.9,187.8 L238.5,188.2 L238.1,188.6 L237.7,189.0 L237.2,189.4 L236.7,189.8 L236.1,190.2 L235.7,190.4 L235.3,190.7 L234.6,191.0 L234.1,191.2 L233.7,191.4 L232.9,191.7 L232.5,191.8 L231.7,192.0 L230.9,192.1 L230.5,192.2"/>
<path d="M231.3,191.8 L230.5,191.9 L229.7,191.9 L228.9,191.9 L228.1,191.9 L227.3,191.9 L226.5,191.8 L226.1,191.8 L225.3,191.5 L224.9,191.4 L224.1,191.0 L223.7,191.0 L222.9,190.6 L222.5,190.3 L222.1,190.1 L221.6,189.8 L221.1,189.4 L220.6,189.0 L220.1,188.6 L219.7,188.2 L219.3,187.8 L218.9,187.4 L218.8,187.0 L218.4,186.6 L218.1,186.2 L217.7,185.5 L217.3,185.0 L217.3,184.6 L216.9,184.0 L216.8,183.4 L216.5,183.0 L216.4,182.2 L216.1,181.4 L216.1,181.0 L216.0,180.2 L216.0,179.4 L216.0,178.6 L216.1,177.8 L216.1,177.0 L216.1,176.6 L216.4,175.8 L216.5,175.2 L216.8,174.6 L216.9,174.1 L217.3,173.4 L217.5,173.0 L217.7,172.5 L218.1,171.8 L218.5,171.4 L218.8,171.0 L219.1,170.6 L219.4,170.2 L219.8,169.8 L220.2,169.4 L220.8,169.0 L221.2,168.6 L221.7,168.2 L222.1,168.1 L222.5,167.8 L223.2,167.4 L223.7,167.2 L224.1,167.0 L224.9,166.7 L225.3,166.6 L226.1,166.5 L226.8,166.2 L227.3,166.2 L228.1,166.2 L228.9,166.1 L229.7,166.2 L230.5,166.2 L230.9,166.2 L231.7,166.5 L232.5,166.6 L232.9,166.8 L233.7,167.0 L234.1,167.3 L234.6,167.4 L235.3,167.8 L235.7,168.1 L236.1,168.3 L236.5,168.6 L237.0,169.0 L237.5,169.4 L238.0,169.8 L238.3,170.2 L238.6,170.6 L239.0,171.0 L239.3,171.4 L239.7,171.9 L240.1,172.6 L240.3,173.0 L240.5,173.4 L240.9,174.1 L241.0,174.6 L241.3,175.2 L241.4,175.8 L241.7,176.6 L241.7,177.0 L241.7,177.8 L241.8,178.6 L241.8,179.4 L241.7,180.2 L241.7,181.0 L241.7,181.4 L241.4,182.2 L241.3,183.0 L241.0,183.4 L240.9,184.0 L240.6,184.6 L240.4,185.0 L240.1,185.6 L239.7,186.2 L239.4,186.6 L239.1,187.0 L238.9,187.4 L238.5,187.8 L238.1,188.2 L237.7,188.6 L237.3,189.0 L236.7,189.4 L236.2,189.8 L235.7,190.1 L235.3,190.3 L234.9,190.6 L234.1,191.0 L233.7,191.1 L233.0,191.4 L232.5,191.5 L231.7,191.8 L231.3,191.8"/>
<path d="M230.5,191.0 L229.7,191.1 L228.9,191.1 L228.1,191.0 L227.7,190.9 L226.9,190.8 L226.2,190.6 L225.7,190.4 L225.1,190.2 L224.5,189.9 L224.1,189.7 L223.5,189.4 L222.9,189.0 L222.5,188.7 L222.1,188.3 L221.7,188.0 L221.3,187.5 L220.9,187.1 L220.5,186.6 L220.2,186.2 L220.0,185.8 L219.7,185.3 L219.4,184.6 L219.2,184.2 L218.9,183.4 L218.8,183.0 L218.6,182.2 L218.5,181.7 L218.4,181.0 L218.4,180.2 L218.4,179.4 L218.5,178.6 L218.5,178.2 L218.7,177.4 L218.9,176.7 L219.1,176.2 L219.3,175.7 L219.6,175.0 L219.9,174.6 L220.1,174.2 L220.5,173.6 L220.9,173.1 L221.3,172.7 L221.7,172.3 L222.1,171.9 L222.5,171.6 L222.9,171.2 L223.3,171.0 L223.9,170.6 L224.5,170.3 L224.9,170.1 L225.7,169.8 L226.1,169.7 L226.9,169.5 L227.3,169.4 L228.1,169.3 L228.9,169.2 L229.7,169.2 L230.5,169.3 L231.3,169.4 L231.7,169.5 L232.5,169.7 L232.9,169.8 L233.7,170.2 L234.1,170.4 L234.6,170.6 L235.2,171.0 L235.7,171.3 L236.1,171.7 L236.5,172.0 L236.9,172.4 L237.3,172.8 L237.7,173.3 L238.1,173.8 L238.4,174.2 L238.6,174.6 L238.9,175.1 L239.2,175.8 L239.4,176.2 L239.7,177.0 L239.8,177.4 L240.0,178.2 L240.1,179.0 L240.1,179.4 L240.1,180.2 L240.1,181.0 L240.1,181.4 L240.0,182.2 L239.8,183.0 L239.7,183.4 L239.4,184.2 L239.2,184.6 L238.9,185.2 L238.6,185.8 L238.3,186.2 L238.1,186.6 L237.7,187.1 L237.3,187.5 L236.9,188.0 L236.5,188.3 L236.1,188.7 L235.7,189.0 L235.1,189.4 L234.5,189.7 L234.1,189.9 L233.6,190.2 L232.9,190.5 L232.5,190.6 L231.7,190.8 L230.9,191.0 L230.5,191.0"/>
<path d="M231.3,189.8 L230.5,189.9 L229.7,190.0 L228.9,189.9 L228.1,189.8 L227.7,189.8 L226.9,189.5 L226.5,189.4 L225.7,189.1 L225.3,188.8 L224.9,188.6 L224.3,188.2 L223.8,187.8 L223.4,187.4 L223.0,187.0 L222.7,186.6 L222.4,186.2 L222.1,185.8 L221.7,185.1 L221.5,184.6 L221.3,184.1 L221.1,183.4 L220.9,182.7 L220.8,182.2 L220.8,181.4 L220.8,180.6 L220.8,179.8 L220.9,179.4 L221.1,178.6 L221.3,178.0 L221.5,177.4 L221.7,177.0 L222.1,176.3 L222.5,175.8 L222.8,175.4 L223.1,175.0 L223.5,174.6 L224.0,174.2 L224.5,173.8 L224.9,173.5 L225.3,173.3 L225.9,173.0 L226.5,172.8 L227.0,172.6 L227.7,172.4 L228.5,172.3 L229.3,172.2 L230.1,172.2 L230.9,172.3 L231.7,172.5 L232.2,172.6 L232.9,172.9 L233.3,173.0 L234.0,173.4 L234.5,173.7 L234.9,174.0 L235.3,174.3 L235.7,174.7 L236.1,175.1 L236.5,175.6 L236.9,176.1 L237.2,176.6 L237.4,177.0 L237.7,177.6 L237.9,178.2 L238.1,178.7 L238.3,179.4 L238.4,180.2 L238.4,181.0 L238.4,181.8 L238.3,182.6 L238.1,183.4 L238.0,183.8 L237.7,184.6 L237.5,185.0 L237.3,185.5 L236.9,186.1 L236.5,186.6 L236.2,187.0 L235.8,187.4 L235.4,187.8 L234.9,188.2 L234.5,188.5 L234.1,188.7 L233.6,189.0 L232.9,189.3 L232.5,189.5 L231.7,189.7 L231.3,189.8"/>
<path d="M230.1,188.6 L229.3,188.6 L228.9,188.6 L228.1,188.4 L227.4,188.2 L226.9,188.0 L226.5,187.8 L225.8,187.4 L225.3,187.0 L224.9,186.6 L224.5,186.2 L224.2,185.8 L223.9,185.4 L223.6,185.0 L223.3,184.3 L223.1,183.8 L222.9,183.0 L222.8,182.6 L222.8,181.8 L222.8,181.0 L222.9,180.3 L223.0,179.8 L223.3,179.0 L223.5,178.6 L223.7,178.1 L224.1,177.5 L224.5,177.0 L224.9,176.6 L225.3,176.2 L225.7,175.9 L226.1,175.7 L226.6,175.4 L227.3,175.1 L227.7,174.9 L228.5,174.7 L229.3,174.6 L230.1,174.6 L230.9,174.7 L231.7,174.9 L232.1,175.0 L232.9,175.4 L233.3,175.6 L233.7,175.8 L234.2,176.2 L234.6,176.6 L235.0,177.0 L235.4,177.4 L235.7,177.9 L236.1,178.6 L236.3,179.0 L236.5,179.7 L236.6,180.2 L236.7,181.0 L236.8,181.8 L236.7,182.6 L236.5,183.4 L236.4,183.8 L236.1,184.6 L235.9,185.0 L235.7,185.4 L235.3,185.9 L234.9,186.4 L234.5,186.8 L234.1,187.1 L233.7,187.4 L233.1,187.8 L232.5,188.1 L232.1,188.2 L231.3,188.5 L230.5,188.6 L230.1,188.6"/>
<path d="M231.7,186.6 L230.9,186.9 L230.1,187.0 L229.3,187.0 L228.5,186.8 L227.8,186.6 L227.3,186.4 L226.9,186.1 L226.4,185.8 L226.0,185.4 L225.7,185.0 L225.3,184.5 L224.9,183.8 L224.8,183.4 L224.6,182.6 L224.5,181.8 L224.5,181.0 L224.7,180.2 L224.9,179.7 L225.2,179.0 L225.5,178.6 L225.8,178.2 L226.2,177.8 L226.7,177.4 L227.3,177.0 L227.7,176.8 L228.4,176.6 L228.9,176.5 L229.7,176.4 L230.5,176.4 L231.2,176.6 L231.7,176.8 L232.2,177.0 L232.9,177.4 L233.3,177.7 L233.7,178.1 L234.1,178.6 L234.4,179.0 L234.6,179.4 L234.9,180.2 L235.0,180.6 L235.1,181.4 L235.1,182.2 L234.9,183.0 L234.8,183.4 L234.5,184.1 L234.2,184.6 L233.9,185.0 L233.6,185.4 L233.2,185.8 L232.6,186.2 L232.1,186.5 L231.7,186.6"/>
<path d="M231.3,185.0 L230.5,185.3 L229.7,185.3 L228.9,185.2 L228.3,185.0 L227.7,184.7 L227.3,184.3 L226.9,183.9 L226.6,183.4 L226.4,183.0 L226.2,182.2 L226.2,181.4 L226.3,180.6 L226.5,180.2 L226.9,179.5 L227.3,179.1 L227.7,178.7 L228.1,178.5 L228.9,178.2 L229.3,178.1 L230.1,178.1 L230.7,178.2 L231.3,178.4 L231.7,178.6 L232.2,179.0 L232.6,179.4 L232.9,179.8 L233.3,180.6 L233.4,181.0 L233.4,181.8 L233.3,182.6 L233.2,183.0 L232.9,183.6 L232.5,184.1 L232.1,184.5 L231.7,184.8 L231.3,185.0"/>
<path d="M230.5,183.5 L229.7,183.6 L228.9,183.4 L228.5,183.1 L228.1,182.6 L228.0,182.2 L228.0,181.4 L228.1,180.8 L228.5,180.3 L228.9,180.1 L229.5,179.8 L230.1,179.8 L230.5,179.9 L231.0,180.2 L231.4,180.6 L231.7,181.3 L231.7,181.8 L231.7,182.2 L231.3,182.9 L230.9,183.2 L230.5,183.5"/>
</g>
<rect x="26.6" y="43.8" width="169.9" height="168.2" fill="none" stroke="#000" stroke-width="1.4"/>
<line x1="79.5" y1="43.8" x2="79.5" y2="212" stroke="#000" stroke-width="1.4" />
<line x1="26.6" y1="155.1" x2="196.5" y2="155.1" stroke="#000" stroke-width="1.4" />
<rect x="205.7" y="43.8" width="169.8" height="168.2" fill="none" stroke="#000" stroke-width="1.4"/>
<line x1="258.4" y1="43.8" x2="258.4" y2="212" stroke="#000" stroke-width="1.4" />
<line x1="205.7" y1="155.3" x2="375.5" y2="155.3" stroke="#000" stroke-width="1.4" />
<text x="32.5" y="62.4" font-size="18.8" text-anchor="start" font-weight="normal" >54</text>
<text x="189.6" y="62.4" font-size="18.8" text-anchor="end" font-weight="normal" >15.4</text>
<rect x="28" y="193" width="42" height="18" fill="#fff"/>
<text x="32.5" y="208.4" font-size="18.8" text-anchor="start" font-weight="normal" >18.3</text>
<text x="190.8" y="208.4" font-size="18.8" text-anchor="end" font-weight="normal" >12.3</text>
<text x="211.2" y="62.4" font-size="18.8" text-anchor="start" font-weight="normal" >36.6</text>
<text x="368.8" y="62.4" font-size="18.8" text-anchor="end" font-weight="normal" >6.61</text>
<rect x="207" y="192.5" width="42" height="18.5" fill="#fff"/>
<text x="211.2" y="207.8" font-size="18.8" text-anchor="start" font-weight="normal" >56.4</text>
<text x="369.2" y="208.4" font-size="18.8" text-anchor="end" font-weight="normal" >0.44</text>
<path d="M10.3,202.5 L10.3,226.3 L34.5,226.3" fill="none" stroke="#000" stroke-width="2.6" stroke-linejoin="miter"/>
<path d="M4.300000000000001,203.5 L10.3,193.5 L16.3,203.5 Z" fill="#000"/>
<path d="M34.0,220.70000000000002 L44.5,226.3 L34.0,231.9 Z" fill="#000"/>
<text x="54.5" y="234.6" font-size="19" text-anchor="start" font-weight="normal" >CD8</text>
<text transform="translate(16.3,184.8) rotate(-90)" font-size="19">CD103</text>
<rect x="273.8" y="283.8" width="173.4" height="166.3" fill="none" stroke="#000" stroke-width="1.4"/>
<path d="M274.6,418.4 L279.2,415 L282.7,415 L283.8,417.3 L287,414 L292,405 L297,390 L301.7,370 L304.5,352 L306.7,341 L308.4,324.3 L309.2,322.2 L310.4,327.6 L311.7,343 L313.1,352.8 L315.9,357.8 L318.4,358.5 L320.5,352.8 L322.6,345.8 L324.2,351.5 L326.5,372.3 L327.7,362 L329.4,351.9 L331.8,363.1 L334.6,376.9 L338,381.5 L341.5,395.4 L343.8,398.8 L346.6,401.1 L349.6,403.4 L352.6,400 L354.9,403.4 L357.6,411.5 L361.1,416.1 L365.7,416.1 L369.2,417.3 L372.6,418.9 L444.9,418.9" fill="none" stroke="#a8a8a8" stroke-width="2.1" stroke-linejoin="round"/>
<path d="M274.6,388.4 L280.4,386.6 L285,383.8 L287.3,375.7 L289.6,373.4 L294,370 L298.8,366.5 L302.3,358.4 L304.6,352.7 L306.9,348 L309.5,350 L312.6,349 L314.3,332.6 L315.9,325.1 L317.6,322.6 L319.3,309.2 L321,297.4 L322.3,296.1 L323.5,299.1 L326,310.8 L327.3,312.8 L328.5,304.1 L330.2,291.5 L331.5,300.8 L333.2,316.7 L334.4,317.5 L336.1,304.1 L337.2,310.8 L338.9,318.4 L340.3,312.5 L341.6,305.8 L343.3,314.2 L345,327.9 L347.8,331.8 L350,341 L351.7,345.2 L353.7,337.7 L356.2,331.3 L357.9,332.3 L360,341 L362,343.5 L364.6,347.7 L366.8,352.8 L369.1,357 L371.3,363 L372.8,370 L374.4,377.7 L376.6,385.2 L378.5,385.3 L380.5,383.5 L382.2,382.8 L384.8,384.8 L387.7,388.1 L444.9,388.1" fill="none" stroke="#000" stroke-width="2.1" stroke-linejoin="round"/>
<path d="M275.8,448.4 L279.2,436.9 L282.7,416.1 L285,397.7 L287.3,376.9 L289.6,365.4 L290.7,354 L292.5,352.6 L295,356 L297.6,352.6 L298.9,357 L299.3,388 L300.6,364 L302,359 L303.6,363 L304.2,388 L305.4,369 L307.2,364 L308.7,369 L310.5,392 L312.5,407 L315,423 L318.4,436.9 L320.7,447.2 L323,449.2 L446,449.2 L446,450 L275,450 Z" fill="#fff" stroke="none"/>
<path d="M275.8,448.4 L279.2,436.9 L282.7,416.1 L285,397.7 L287.3,376.9 L289.6,365.4 L290.7,354 L292.5,352.6 L295,356 L297.6,352.6 L298.9,357 L299.3,388 L300.6,364 L302,359 L303.6,363 L304.2,388 L305.4,369 L307.2,364 L308.7,369 L310.5,392 L312.5,407 L315,423 L318.4,436.9 L320.7,447.2 L323,449.2 L446,449.2" fill="none" stroke="#555" stroke-width="1.5" stroke-dasharray="1.4,3.2" stroke-linecap="butt"/>
<path d="M301.4,388 L301.4,352.6 L303.5,347 L305.8,340" fill="none" stroke="#a8a8a8" stroke-width="1.8"/>
<line x1="321.2" y1="434.2" x2="444.2" y2="434.2" stroke="#000" stroke-width="1.4" />
<line x1="321.2" y1="430.8" x2="321.2" y2="437.8" stroke="#000" stroke-width="1.3" />
<line x1="444.2" y1="430.8" x2="444.2" y2="437.8" stroke="#000" stroke-width="1.3" />
<path d="M259.8,436.6 L259.8,460.6 L283.8,460.6" fill="none" stroke="#000" stroke-width="2.6" stroke-linejoin="miter"/>
<path d="M253.8,437.6 L259.8,427.6 L265.8,437.6 Z" fill="#000"/>
<path d="M283.3,455.0 L293.8,460.6 L283.3,466.20000000000005 Z" fill="#000"/>
<text x="302.6" y="469" font-size="19" text-anchor="start" font-weight="normal" >CD86</text>
<text transform="translate(266.2,420) rotate(-90)" font-size="19">Counts</text>
<text x="443.6" y="383.9" font-size="18.8" text-anchor="end" font-weight="normal" >77.8</text>
<text x="443.6" y="414.3" font-size="18.8" text-anchor="end" font-weight="normal" >51</text>
<text x="449.6" y="387" font-size="19" text-anchor="start" font-weight="normal" >Yptb-WT</text>
<text x="449.6" y="419.8" font-size="19" text-anchor="start" font-weight="normal" >uninf</text>
<text x="449.6" y="448.7" font-size="19" text-anchor="start" font-weight="normal" >isotype</text>
<path d="M27.4,212 v3.2 M30.7,212 v3.2 M33.9,212 v3.2 M37.2,212 v3.2 M40.4,212 v3.2 M43.7,212 v3.2 M46.9,212 v3.2 M50.2,212 v3.2 M53.4,212 v3.2 M56.7,212 v3.2 M59.9,212 v3.2 M43.3,212 v5.2 M62.1,212 v5.2 M103.7,212 v5.2 M145.3,212 v5.2 M186.9,212 v5.2 M74.6,212 v3.2 M81.9,212 v3.2 M87.1,212 v3.2 M91.2,212 v3.2 M94.5,212 v3.2 M97.3,212 v3.2 M99.7,212 v3.2 M101.8,212 v3.2 M116.2,212 v3.2 M123.5,212 v3.2 M128.7,212 v3.2 M132.8,212 v3.2 M136.1,212 v3.2 M138.9,212 v3.2 M141.3,212 v3.2 M143.4,212 v3.2 M157.8,212 v3.2 M165.1,212 v3.2 M170.3,212 v3.2 M174.4,212 v3.2 M177.7,212 v3.2 M180.5,212 v3.2 M182.9,212 v3.2 M185.0,212 v3.2 M26.6,211.0 h-3.2 M26.6,207.8 h-3.2 M26.6,204.6 h-3.2 M26.6,201.4 h-3.2 M26.6,198.2 h-3.2 M26.6,195.0 h-3.2 M26.6,191.8 h-3.2 M26.6,188.6 h-3.2 M26.6,185.4 h-3.2 M26.6,182.2 h-3.2 M26.6,59.0 h-5.2 M26.6,97.0 h-5.2 M26.6,135.5 h-5.2 M26.6,174.5 h-5.2 M26.6,194.6 h-5.2 M26.6,162.8 h-3.2 M26.6,155.9 h-3.2 M26.6,151.0 h-3.2 M26.6,147.2 h-3.2 M26.6,144.2 h-3.2 M26.6,141.5 h-3.2 M26.6,139.3 h-3.2 M26.6,137.3 h-3.2 M26.6,123.9 h-3.2 M26.6,117.1 h-3.2 M26.6,112.3 h-3.2 M26.6,108.6 h-3.2 M26.6,105.5 h-3.2 M26.6,103.0 h-3.2 M26.6,100.7 h-3.2 M26.6,98.8 h-3.2 M26.6,85.6 h-3.2 M26.6,78.9 h-3.2 M26.6,74.1 h-3.2 M26.6,70.4 h-3.2 M26.6,67.4 h-3.2 M26.6,64.9 h-3.2 M26.6,62.7 h-3.2 M26.6,60.7 h-3.2 M26.6,47.6 h-3.2 " stroke="#000" stroke-width="1.1" fill="none"/>
<path d="M206.5,212 v3.2 M209.8,212 v3.2 M213.0,212 v3.2 M216.2,212 v3.2 M219.5,212 v3.2 M222.8,212 v3.2 M226.0,212 v3.2 M229.2,212 v3.2 M232.5,212 v3.2 M235.8,212 v3.2 M239.0,212 v3.2 M222.4,212 v5.2 M241.2,212 v5.2 M282.8,212 v5.2 M324.4,212 v5.2 M366.0,212 v5.2 M253.7,212 v3.2 M261.0,212 v3.2 M266.2,212 v3.2 M270.3,212 v3.2 M273.6,212 v3.2 M276.4,212 v3.2 M278.8,212 v3.2 M280.9,212 v3.2 M295.3,212 v3.2 M302.6,212 v3.2 M307.8,212 v3.2 M311.9,212 v3.2 M315.2,212 v3.2 M318.0,212 v3.2 M320.4,212 v3.2 M322.5,212 v3.2 M336.9,212 v3.2 M344.2,212 v3.2 M349.4,212 v3.2 M353.5,212 v3.2 M356.8,212 v3.2 M359.6,212 v3.2 M362.0,212 v3.2 M364.1,212 v3.2 M205.7,211.0 h-3.2 M205.7,207.8 h-3.2 M205.7,204.6 h-3.2 M205.7,201.4 h-3.2 M205.7,198.2 h-3.2 M205.7,195.0 h-3.2 M205.7,191.8 h-3.2 M205.7,188.6 h-3.2 M205.7,185.4 h-3.2 M205.7,182.2 h-3.2 M205.7,59.0 h-5.2 M205.7,97.0 h-5.2 M205.7,135.5 h-5.2 M205.7,174.5 h-5.2 M205.7,194.6 h-5.2 M205.7,162.8 h-3.2 M205.7,155.9 h-3.2 M205.7,151.0 h-3.2 M205.7,147.2 h-3.2 M205.7,144.2 h-3.2 M205.7,141.5 h-3.2 M205.7,139.3 h-3.2 M205.7,137.3 h-3.2 M205.7,123.9 h-3.2 M205.7,117.1 h-3.2 M205.7,112.3 h-3.2 M205.7,108.6 h-3.2 M205.7,105.5 h-3.2 M205.7,103.0 h-3.2 M205.7,100.7 h-3.2 M205.7,98.8 h-3.2 M205.7,85.6 h-3.2 M205.7,78.9 h-3.2 M205.7,74.1 h-3.2 M205.7,70.4 h-3.2 M205.7,67.4 h-3.2 M205.7,64.9 h-3.2 M205.7,62.7 h-3.2 M205.7,60.7 h-3.2 M205.7,47.6 h-3.2 " stroke="#000" stroke-width="1.1" fill="none"/>
</svg></body></html>
